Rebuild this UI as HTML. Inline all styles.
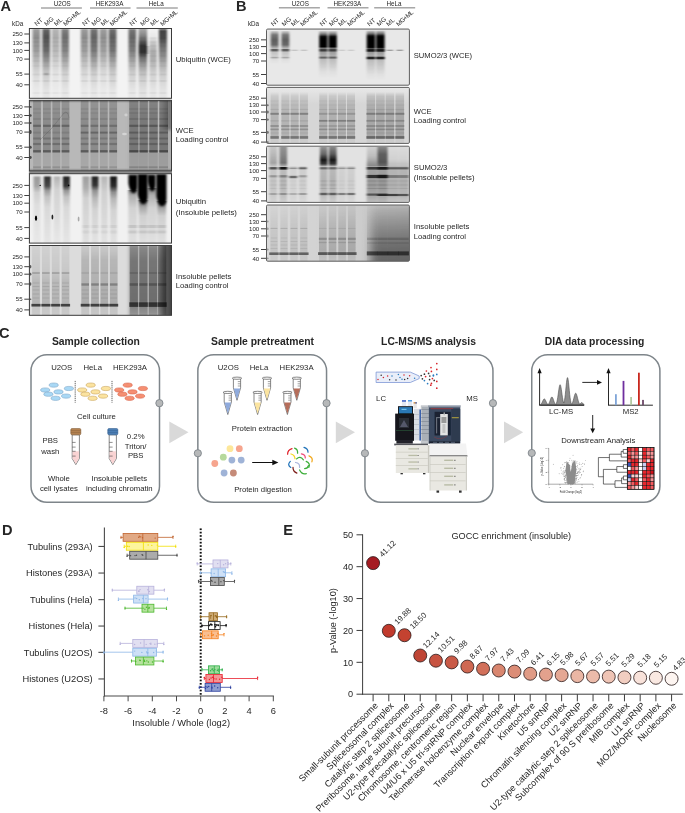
<!DOCTYPE html>
<html><head><meta charset="utf-8"><title>Figure</title>
<style>html,body{margin:0;padding:0;background:#fff;overflow:hidden}svg{display:block}text{font-family:"Liberation Sans",sans-serif;fill:#262626}</style></head>
<body>
<svg width="685" height="813" viewBox="0 0 685 813">
<defs>
<filter id="bl" x="-20%" y="-20%" width="140%" height="140%"><feGaussianBlur stdDeviation="1.1 0.7"/></filter>
<filter id="blS" x="-20%" y="-20%" width="140%" height="140%"><feGaussianBlur stdDeviation="0.7 0.6"/></filter>
<filter id="bl2" x="-20%" y="-20%" width="140%" height="140%"><feGaussianBlur stdDeviation="1.6 1.4"/></filter>
<filter id="bl5" x="-30%" y="-30%" width="160%" height="160%"><feGaussianBlur stdDeviation="4 3"/></filter>
<filter id="bl3" x="-50%" y="-50%" width="200%" height="200%"><feGaussianBlur stdDeviation="0.6"/></filter>
<filter id="bl4" x="-30%" y="-20%" width="160%" height="140%"><feGaussianBlur stdDeviation="0.8 1.0"/></filter>
<clipPath id="c1"><rect x="29.4" y="28.5" width="142.1" height="69.8" rx="0"/></clipPath>
<linearGradient id="lg2" gradientUnits="userSpaceOnUse" x1="0" y1="28.5" x2="0" y2="98.3"><stop offset="0" stop-color="#000" stop-opacity="0.22"/><stop offset="0.03" stop-color="#000" stop-opacity="0.37"/><stop offset="0.11" stop-color="#000" stop-opacity="0.42"/><stop offset="0.31" stop-color="#000" stop-opacity="0.36"/><stop offset="0.42" stop-color="#000" stop-opacity="0.27"/><stop offset="0.54" stop-color="#000" stop-opacity="0.18"/><stop offset="0.65" stop-color="#000" stop-opacity="0.11"/><stop offset="0.77" stop-color="#000" stop-opacity="0.07"/><stop offset="0.88" stop-color="#000" stop-opacity="0.04"/><stop offset="1" stop-color="#000" stop-opacity="0.03"/></linearGradient>
<linearGradient id="lg3" gradientUnits="userSpaceOnUse" x1="0" y1="28.5" x2="0" y2="98.3"><stop offset="0" stop-color="#000" stop-opacity="0.34"/><stop offset="0.03" stop-color="#000" stop-opacity="0.6"/><stop offset="0.11" stop-color="#000" stop-opacity="0.67"/><stop offset="0.31" stop-color="#000" stop-opacity="0.57"/><stop offset="0.42" stop-color="#000" stop-opacity="0.44"/><stop offset="0.54" stop-color="#000" stop-opacity="0.29"/><stop offset="0.65" stop-color="#000" stop-opacity="0.17"/><stop offset="0.77" stop-color="#000" stop-opacity="0.11"/><stop offset="0.88" stop-color="#000" stop-opacity="0.07"/><stop offset="1" stop-color="#000" stop-opacity="0.05"/></linearGradient>
<linearGradient id="lg4" gradientUnits="userSpaceOnUse" x1="0" y1="28.5" x2="0" y2="98.3"><stop offset="0" stop-color="#000" stop-opacity="0.15"/><stop offset="0.03" stop-color="#000" stop-opacity="0.26"/><stop offset="0.11" stop-color="#000" stop-opacity="0.29"/><stop offset="0.31" stop-color="#000" stop-opacity="0.25"/><stop offset="0.42" stop-color="#000" stop-opacity="0.19"/><stop offset="0.54" stop-color="#000" stop-opacity="0.12"/><stop offset="0.65" stop-color="#000" stop-opacity="0.07"/><stop offset="0.77" stop-color="#000" stop-opacity="0.05"/><stop offset="0.88" stop-color="#000" stop-opacity="0.03"/><stop offset="1" stop-color="#000" stop-opacity="0.02"/></linearGradient>
<linearGradient id="lg5" gradientUnits="userSpaceOnUse" x1="0" y1="28.5" x2="0" y2="98.3"><stop offset="0" stop-color="#000" stop-opacity="0.28"/><stop offset="0.03" stop-color="#000" stop-opacity="0.49"/><stop offset="0.11" stop-color="#000" stop-opacity="0.55"/><stop offset="0.31" stop-color="#000" stop-opacity="0.47"/><stop offset="0.42" stop-color="#000" stop-opacity="0.36"/><stop offset="0.54" stop-color="#000" stop-opacity="0.24"/><stop offset="0.65" stop-color="#000" stop-opacity="0.14"/><stop offset="0.77" stop-color="#000" stop-opacity="0.1"/><stop offset="0.88" stop-color="#000" stop-opacity="0.06"/><stop offset="1" stop-color="#000" stop-opacity="0.04"/></linearGradient>
<linearGradient id="lg6" gradientUnits="userSpaceOnUse" x1="0" y1="28.5" x2="0" y2="98.3"><stop offset="0" stop-color="#000" stop-opacity="0.22"/><stop offset="0.03" stop-color="#000" stop-opacity="0.37"/><stop offset="0.11" stop-color="#000" stop-opacity="0.42"/><stop offset="0.31" stop-color="#000" stop-opacity="0.36"/><stop offset="0.42" stop-color="#000" stop-opacity="0.27"/><stop offset="0.54" stop-color="#000" stop-opacity="0.18"/><stop offset="0.65" stop-color="#000" stop-opacity="0.11"/><stop offset="0.77" stop-color="#000" stop-opacity="0.07"/><stop offset="0.88" stop-color="#000" stop-opacity="0.04"/><stop offset="1" stop-color="#000" stop-opacity="0.03"/></linearGradient>
<linearGradient id="lg7" gradientUnits="userSpaceOnUse" x1="0" y1="28.5" x2="0" y2="98.3"><stop offset="0" stop-color="#000" stop-opacity="0.31"/><stop offset="0.03" stop-color="#000" stop-opacity="0.53"/><stop offset="0.11" stop-color="#000" stop-opacity="0.59"/><stop offset="0.31" stop-color="#000" stop-opacity="0.51"/><stop offset="0.42" stop-color="#000" stop-opacity="0.39"/><stop offset="0.54" stop-color="#000" stop-opacity="0.26"/><stop offset="0.65" stop-color="#000" stop-opacity="0.15"/><stop offset="0.77" stop-color="#000" stop-opacity="0.1"/><stop offset="0.88" stop-color="#000" stop-opacity="0.06"/><stop offset="1" stop-color="#000" stop-opacity="0.04"/></linearGradient>
<linearGradient id="lg8" gradientUnits="userSpaceOnUse" x1="0" y1="28.5" x2="0" y2="98.3"><stop offset="0" stop-color="#000" stop-opacity="0.21"/><stop offset="0.03" stop-color="#000" stop-opacity="0.36"/><stop offset="0.11" stop-color="#000" stop-opacity="0.41"/><stop offset="0.31" stop-color="#000" stop-opacity="0.35"/><stop offset="0.42" stop-color="#000" stop-opacity="0.27"/><stop offset="0.54" stop-color="#000" stop-opacity="0.17"/><stop offset="0.65" stop-color="#000" stop-opacity="0.1"/><stop offset="0.77" stop-color="#000" stop-opacity="0.07"/><stop offset="0.88" stop-color="#000" stop-opacity="0.04"/><stop offset="1" stop-color="#000" stop-opacity="0.03"/></linearGradient>
<linearGradient id="lg9" gradientUnits="userSpaceOnUse" x1="0" y1="28.5" x2="0" y2="98.3"><stop offset="0" stop-color="#000" stop-opacity="0.32"/><stop offset="0.03" stop-color="#000" stop-opacity="0.55"/><stop offset="0.11" stop-color="#000" stop-opacity="0.61"/><stop offset="0.31" stop-color="#000" stop-opacity="0.53"/><stop offset="0.42" stop-color="#000" stop-opacity="0.4"/><stop offset="0.54" stop-color="#000" stop-opacity="0.26"/><stop offset="0.65" stop-color="#000" stop-opacity="0.16"/><stop offset="0.77" stop-color="#000" stop-opacity="0.11"/><stop offset="0.88" stop-color="#000" stop-opacity="0.06"/><stop offset="1" stop-color="#000" stop-opacity="0.04"/></linearGradient>
<linearGradient id="lg10" gradientUnits="userSpaceOnUse" x1="0" y1="28.5" x2="0" y2="98.3"><stop offset="0" stop-color="#000" stop-opacity="0.3"/><stop offset="0.03" stop-color="#000" stop-opacity="0.52"/><stop offset="0.11" stop-color="#000" stop-opacity="0.58"/><stop offset="0.31" stop-color="#000" stop-opacity="0.5"/><stop offset="0.42" stop-color="#000" stop-opacity="0.38"/><stop offset="0.54" stop-color="#000" stop-opacity="0.25"/><stop offset="0.65" stop-color="#000" stop-opacity="0.15"/><stop offset="0.77" stop-color="#000" stop-opacity="0.1"/><stop offset="0.88" stop-color="#000" stop-opacity="0.06"/><stop offset="1" stop-color="#000" stop-opacity="0.04"/></linearGradient>
<linearGradient id="lg11" gradientUnits="userSpaceOnUse" x1="0" y1="28.5" x2="0" y2="98.3"><stop offset="0" stop-color="#000" stop-opacity="0.3"/><stop offset="0.08" stop-color="#000" stop-opacity="0.42"/><stop offset="0.16" stop-color="#000" stop-opacity="0.58"/><stop offset="0.25" stop-color="#000" stop-opacity="0.8"/><stop offset="0.34" stop-color="#000" stop-opacity="0.8"/><stop offset="0.42" stop-color="#000" stop-opacity="0.55"/><stop offset="0.54" stop-color="#000" stop-opacity="0.34"/><stop offset="0.65" stop-color="#000" stop-opacity="0.2"/><stop offset="0.77" stop-color="#000" stop-opacity="0.13"/><stop offset="0.88" stop-color="#000" stop-opacity="0.08"/><stop offset="1" stop-color="#000" stop-opacity="0.06"/></linearGradient>
<linearGradient id="lg12" gradientUnits="userSpaceOnUse" x1="0" y1="28.5" x2="0" y2="98.3"><stop offset="0" stop-color="#000" stop-opacity="0"/><stop offset="0.11" stop-color="#000" stop-opacity="0.04"/><stop offset="0.22" stop-color="#000" stop-opacity="0.2"/><stop offset="0.34" stop-color="#000" stop-opacity="0.3"/><stop offset="0.45" stop-color="#000" stop-opacity="0.28"/><stop offset="0.54" stop-color="#000" stop-opacity="0.22"/><stop offset="0.65" stop-color="#000" stop-opacity="0.14"/><stop offset="0.77" stop-color="#000" stop-opacity="0.1"/><stop offset="0.88" stop-color="#000" stop-opacity="0.06"/><stop offset="1" stop-color="#000" stop-opacity="0.05"/></linearGradient>
<linearGradient id="lg13" gradientUnits="userSpaceOnUse" x1="0" y1="28.5" x2="0" y2="98.3"><stop offset="0" stop-color="#000" stop-opacity="0.4"/><stop offset="0.04" stop-color="#000" stop-opacity="0.72"/><stop offset="0.14" stop-color="#000" stop-opacity="0.7"/><stop offset="0.25" stop-color="#000" stop-opacity="0.55"/><stop offset="0.37" stop-color="#000" stop-opacity="0.45"/><stop offset="0.45" stop-color="#000" stop-opacity="0.36"/><stop offset="0.54" stop-color="#000" stop-opacity="0.26"/><stop offset="0.65" stop-color="#000" stop-opacity="0.16"/><stop offset="0.77" stop-color="#000" stop-opacity="0.11"/><stop offset="0.88" stop-color="#000" stop-opacity="0.07"/><stop offset="1" stop-color="#000" stop-opacity="0.05"/></linearGradient>
<linearGradient id="a2e" x1="0" y1="0" x2="1" y2="0"><stop offset="0" stop-color="#000" stop-opacity="0"/><stop offset="1" stop-color="#000" stop-opacity="0.4"/></linearGradient>
<clipPath id="c14"><rect x="29.4" y="100.3" width="142.1" height="70.5" rx="0"/></clipPath>
<linearGradient id="lg15" gradientUnits="userSpaceOnUse" x1="0" y1="100" x2="0" y2="170.8"><stop offset="0" stop-color="#000" stop-opacity="0.19"/><stop offset="0.25" stop-color="#000" stop-opacity="0.24"/><stop offset="0.73" stop-color="#000" stop-opacity="0.25"/><stop offset="0.75" stop-color="#000" stop-opacity="0.1"/><stop offset="1" stop-color="#000" stop-opacity="0.08"/></linearGradient>
<linearGradient id="lg16" gradientUnits="userSpaceOnUse" x1="0" y1="100" x2="0" y2="170.8"><stop offset="0" stop-color="#000" stop-opacity="0.19"/><stop offset="0.25" stop-color="#000" stop-opacity="0.24"/><stop offset="0.73" stop-color="#000" stop-opacity="0.25"/><stop offset="0.75" stop-color="#000" stop-opacity="0.1"/><stop offset="1" stop-color="#000" stop-opacity="0.08"/></linearGradient>
<linearGradient id="lg17" gradientUnits="userSpaceOnUse" x1="0" y1="100" x2="0" y2="170.8"><stop offset="0" stop-color="#000" stop-opacity="0.19"/><stop offset="0.25" stop-color="#000" stop-opacity="0.24"/><stop offset="0.73" stop-color="#000" stop-opacity="0.25"/><stop offset="0.75" stop-color="#000" stop-opacity="0.1"/><stop offset="1" stop-color="#000" stop-opacity="0.08"/></linearGradient>
<linearGradient id="lg18" gradientUnits="userSpaceOnUse" x1="0" y1="100" x2="0" y2="170.8"><stop offset="0" stop-color="#000" stop-opacity="0.19"/><stop offset="0.25" stop-color="#000" stop-opacity="0.24"/><stop offset="0.73" stop-color="#000" stop-opacity="0.25"/><stop offset="0.75" stop-color="#000" stop-opacity="0.1"/><stop offset="1" stop-color="#000" stop-opacity="0.08"/></linearGradient>
<linearGradient id="lg19" gradientUnits="userSpaceOnUse" x1="0" y1="100" x2="0" y2="170.8"><stop offset="0" stop-color="#000" stop-opacity="0.19"/><stop offset="0.25" stop-color="#000" stop-opacity="0.24"/><stop offset="0.73" stop-color="#000" stop-opacity="0.25"/><stop offset="0.75" stop-color="#000" stop-opacity="0.1"/><stop offset="1" stop-color="#000" stop-opacity="0.08"/></linearGradient>
<linearGradient id="lg20" gradientUnits="userSpaceOnUse" x1="0" y1="100" x2="0" y2="170.8"><stop offset="0" stop-color="#000" stop-opacity="0.19"/><stop offset="0.25" stop-color="#000" stop-opacity="0.24"/><stop offset="0.73" stop-color="#000" stop-opacity="0.25"/><stop offset="0.75" stop-color="#000" stop-opacity="0.1"/><stop offset="1" stop-color="#000" stop-opacity="0.08"/></linearGradient>
<linearGradient id="lg21" gradientUnits="userSpaceOnUse" x1="0" y1="100" x2="0" y2="170.8"><stop offset="0" stop-color="#000" stop-opacity="0.19"/><stop offset="0.25" stop-color="#000" stop-opacity="0.24"/><stop offset="0.73" stop-color="#000" stop-opacity="0.25"/><stop offset="0.75" stop-color="#000" stop-opacity="0.1"/><stop offset="1" stop-color="#000" stop-opacity="0.08"/></linearGradient>
<linearGradient id="lg22" gradientUnits="userSpaceOnUse" x1="0" y1="100" x2="0" y2="170.8"><stop offset="0" stop-color="#000" stop-opacity="0.19"/><stop offset="0.25" stop-color="#000" stop-opacity="0.24"/><stop offset="0.73" stop-color="#000" stop-opacity="0.25"/><stop offset="0.75" stop-color="#000" stop-opacity="0.1"/><stop offset="1" stop-color="#000" stop-opacity="0.08"/></linearGradient>
<linearGradient id="lg23" gradientUnits="userSpaceOnUse" x1="0" y1="100" x2="0" y2="170.8"><stop offset="0" stop-color="#000" stop-opacity="0.24"/><stop offset="0.25" stop-color="#000" stop-opacity="0.3"/><stop offset="0.73" stop-color="#000" stop-opacity="0.32"/><stop offset="0.75" stop-color="#000" stop-opacity="0.1"/><stop offset="1" stop-color="#000" stop-opacity="0.08"/></linearGradient>
<linearGradient id="lg24" gradientUnits="userSpaceOnUse" x1="0" y1="100" x2="0" y2="170.8"><stop offset="0" stop-color="#000" stop-opacity="0.24"/><stop offset="0.25" stop-color="#000" stop-opacity="0.3"/><stop offset="0.73" stop-color="#000" stop-opacity="0.32"/><stop offset="0.75" stop-color="#000" stop-opacity="0.1"/><stop offset="1" stop-color="#000" stop-opacity="0.08"/></linearGradient>
<linearGradient id="lg25" gradientUnits="userSpaceOnUse" x1="0" y1="100" x2="0" y2="170.8"><stop offset="0" stop-color="#000" stop-opacity="0.24"/><stop offset="0.25" stop-color="#000" stop-opacity="0.3"/><stop offset="0.73" stop-color="#000" stop-opacity="0.32"/><stop offset="0.75" stop-color="#000" stop-opacity="0.1"/><stop offset="1" stop-color="#000" stop-opacity="0.08"/></linearGradient>
<linearGradient id="lg26" gradientUnits="userSpaceOnUse" x1="0" y1="100" x2="0" y2="170.8"><stop offset="0" stop-color="#000" stop-opacity="0.24"/><stop offset="0.25" stop-color="#000" stop-opacity="0.3"/><stop offset="0.73" stop-color="#000" stop-opacity="0.32"/><stop offset="0.75" stop-color="#000" stop-opacity="0.1"/><stop offset="1" stop-color="#000" stop-opacity="0.08"/></linearGradient>
<clipPath id="c27"><rect x="29.4" y="173.7" width="142.1" height="69.4" rx="0"/></clipPath>
<linearGradient id="lg28" gradientUnits="userSpaceOnUse" x1="0" y1="175" x2="0" y2="243.3"><stop offset="0" stop-color="#000" stop-opacity="0"/><stop offset="0.04" stop-color="#000" stop-opacity="0.36"/><stop offset="0.16" stop-color="#000" stop-opacity="0.32"/><stop offset="0.26" stop-color="#000" stop-opacity="0.14"/><stop offset="0.44" stop-color="#000" stop-opacity="0.08"/><stop offset="1" stop-color="#000" stop-opacity="0.04"/></linearGradient>
<linearGradient id="lg29" gradientUnits="userSpaceOnUse" x1="0" y1="175" x2="0" y2="243.3"><stop offset="0" stop-color="#000" stop-opacity="0"/><stop offset="0.04" stop-color="#000" stop-opacity="0.8"/><stop offset="0.16" stop-color="#000" stop-opacity="0.7"/><stop offset="0.23" stop-color="#000" stop-opacity="0.36"/><stop offset="0.32" stop-color="#000" stop-opacity="0.2"/><stop offset="0.48" stop-color="#000" stop-opacity="0.1"/><stop offset="1" stop-color="#000" stop-opacity="0.05"/></linearGradient>
<linearGradient id="lg30" gradientUnits="userSpaceOnUse" x1="0" y1="175" x2="0" y2="243.3"><stop offset="0" stop-color="#000" stop-opacity="0"/><stop offset="0.04" stop-color="#000" stop-opacity="0.25"/><stop offset="0.22" stop-color="#000" stop-opacity="0.13"/><stop offset="1" stop-color="#000" stop-opacity="0.04"/></linearGradient>
<linearGradient id="lg31" gradientUnits="userSpaceOnUse" x1="0" y1="175" x2="0" y2="243.3"><stop offset="0" stop-color="#000" stop-opacity="0"/><stop offset="0.04" stop-color="#000" stop-opacity="0.85"/><stop offset="0.16" stop-color="#000" stop-opacity="0.78"/><stop offset="0.23" stop-color="#000" stop-opacity="0.38"/><stop offset="0.32" stop-color="#000" stop-opacity="0.2"/><stop offset="0.48" stop-color="#000" stop-opacity="0.1"/><stop offset="1" stop-color="#000" stop-opacity="0.05"/></linearGradient>
<linearGradient id="lg32" gradientUnits="userSpaceOnUse" x1="0" y1="175" x2="0" y2="243.3"><stop offset="0" stop-color="#000" stop-opacity="0"/><stop offset="0.04" stop-color="#000" stop-opacity="0.34"/><stop offset="0.19" stop-color="#000" stop-opacity="0.28"/><stop offset="0.34" stop-color="#000" stop-opacity="0.14"/><stop offset="1" stop-color="#000" stop-opacity="0.07"/></linearGradient>
<linearGradient id="lg33" gradientUnits="userSpaceOnUse" x1="0" y1="175" x2="0" y2="243.3"><stop offset="0" stop-color="#000" stop-opacity="0"/><stop offset="0.04" stop-color="#000" stop-opacity="0.85"/><stop offset="0.15" stop-color="#000" stop-opacity="0.78"/><stop offset="0.23" stop-color="#000" stop-opacity="0.4"/><stop offset="0.34" stop-color="#000" stop-opacity="0.24"/><stop offset="0.51" stop-color="#000" stop-opacity="0.13"/><stop offset="1" stop-color="#000" stop-opacity="0.06"/></linearGradient>
<linearGradient id="lg34" gradientUnits="userSpaceOnUse" x1="0" y1="175" x2="0" y2="243.3"><stop offset="0" stop-color="#000" stop-opacity="0"/><stop offset="0.04" stop-color="#000" stop-opacity="0.24"/><stop offset="0.25" stop-color="#000" stop-opacity="0.14"/><stop offset="1" stop-color="#000" stop-opacity="0.06"/></linearGradient>
<linearGradient id="lg35" gradientUnits="userSpaceOnUse" x1="0" y1="175" x2="0" y2="243.3"><stop offset="0" stop-color="#000" stop-opacity="0"/><stop offset="0.04" stop-color="#000" stop-opacity="0.9"/><stop offset="0.16" stop-color="#000" stop-opacity="0.82"/><stop offset="0.25" stop-color="#000" stop-opacity="0.42"/><stop offset="0.35" stop-color="#000" stop-opacity="0.24"/><stop offset="0.51" stop-color="#000" stop-opacity="0.13"/><stop offset="1" stop-color="#000" stop-opacity="0.06"/></linearGradient>
<linearGradient id="lg36" gradientUnits="userSpaceOnUse" x1="0" y1="190" x2="0" y2="243.3"><stop offset="0" stop-color="#000" stop-opacity="0.5"/><stop offset="0.11" stop-color="#000" stop-opacity="0.28"/><stop offset="0.34" stop-color="#000" stop-opacity="0.13"/><stop offset="1" stop-color="#000" stop-opacity="0.07"/></linearGradient>
<linearGradient id="lg37" gradientUnits="userSpaceOnUse" x1="0" y1="200" x2="0" y2="243.3"><stop offset="0" stop-color="#000" stop-opacity="0.6"/><stop offset="0.18" stop-color="#000" stop-opacity="0.3"/><stop offset="0.37" stop-color="#000" stop-opacity="0.14"/><stop offset="1" stop-color="#000" stop-opacity="0.07"/></linearGradient>
<linearGradient id="lg38" gradientUnits="userSpaceOnUse" x1="0" y1="188" x2="0" y2="243.3"><stop offset="0" stop-color="#000" stop-opacity="0.5"/><stop offset="0.13" stop-color="#000" stop-opacity="0.28"/><stop offset="0.36" stop-color="#000" stop-opacity="0.13"/><stop offset="1" stop-color="#000" stop-opacity="0.07"/></linearGradient>
<linearGradient id="lg39" gradientUnits="userSpaceOnUse" x1="0" y1="201" x2="0" y2="243.3"><stop offset="0" stop-color="#000" stop-opacity="0.6"/><stop offset="0.19" stop-color="#000" stop-opacity="0.3"/><stop offset="0.35" stop-color="#000" stop-opacity="0.14"/><stop offset="1" stop-color="#000" stop-opacity="0.07"/></linearGradient>
<linearGradient id="a4e" x1="0" y1="0" x2="1" y2="0"><stop offset="0" stop-color="#000" stop-opacity="0"/><stop offset="0.45" stop-color="#000" stop-opacity="0.4"/><stop offset="1" stop-color="#000" stop-opacity="0.72"/></linearGradient>
<clipPath id="c40"><rect x="29.4" y="245.5" width="142.1" height="69.8" rx="0"/></clipPath>
<linearGradient id="lg41" gradientUnits="userSpaceOnUse" x1="0" y1="246" x2="0" y2="315.4"><stop offset="0" stop-color="#000" stop-opacity="0.05"/><stop offset="0.35" stop-color="#000" stop-opacity="0.09"/><stop offset="0.52" stop-color="#000" stop-opacity="0.16"/><stop offset="0.82" stop-color="#000" stop-opacity="0.18"/><stop offset="0.88" stop-color="#000" stop-opacity="0.1"/><stop offset="1" stop-color="#000" stop-opacity="0.08"/></linearGradient>
<linearGradient id="lg42" gradientUnits="userSpaceOnUse" x1="0" y1="246" x2="0" y2="315.4"><stop offset="0" stop-color="#000" stop-opacity="0.05"/><stop offset="0.35" stop-color="#000" stop-opacity="0.09"/><stop offset="0.52" stop-color="#000" stop-opacity="0.16"/><stop offset="0.82" stop-color="#000" stop-opacity="0.18"/><stop offset="0.88" stop-color="#000" stop-opacity="0.1"/><stop offset="1" stop-color="#000" stop-opacity="0.08"/></linearGradient>
<linearGradient id="lg43" gradientUnits="userSpaceOnUse" x1="0" y1="246" x2="0" y2="315.4"><stop offset="0" stop-color="#000" stop-opacity="0.05"/><stop offset="0.35" stop-color="#000" stop-opacity="0.09"/><stop offset="0.52" stop-color="#000" stop-opacity="0.16"/><stop offset="0.82" stop-color="#000" stop-opacity="0.18"/><stop offset="0.88" stop-color="#000" stop-opacity="0.1"/><stop offset="1" stop-color="#000" stop-opacity="0.08"/></linearGradient>
<linearGradient id="lg44" gradientUnits="userSpaceOnUse" x1="0" y1="246" x2="0" y2="315.4"><stop offset="0" stop-color="#000" stop-opacity="0.05"/><stop offset="0.35" stop-color="#000" stop-opacity="0.09"/><stop offset="0.52" stop-color="#000" stop-opacity="0.16"/><stop offset="0.82" stop-color="#000" stop-opacity="0.18"/><stop offset="0.88" stop-color="#000" stop-opacity="0.1"/><stop offset="1" stop-color="#000" stop-opacity="0.08"/></linearGradient>
<linearGradient id="lg45" gradientUnits="userSpaceOnUse" x1="0" y1="246" x2="0" y2="315.4"><stop offset="0" stop-color="#000" stop-opacity="0.08"/><stop offset="0.2" stop-color="#000" stop-opacity="0.17"/><stop offset="0.82" stop-color="#000" stop-opacity="0.22"/><stop offset="0.88" stop-color="#000" stop-opacity="0.12"/><stop offset="1" stop-color="#000" stop-opacity="0.09"/></linearGradient>
<linearGradient id="lg46" gradientUnits="userSpaceOnUse" x1="0" y1="246" x2="0" y2="315.4"><stop offset="0" stop-color="#000" stop-opacity="0.08"/><stop offset="0.2" stop-color="#000" stop-opacity="0.17"/><stop offset="0.82" stop-color="#000" stop-opacity="0.22"/><stop offset="0.88" stop-color="#000" stop-opacity="0.12"/><stop offset="1" stop-color="#000" stop-opacity="0.09"/></linearGradient>
<linearGradient id="lg47" gradientUnits="userSpaceOnUse" x1="0" y1="246" x2="0" y2="315.4"><stop offset="0" stop-color="#000" stop-opacity="0.08"/><stop offset="0.2" stop-color="#000" stop-opacity="0.17"/><stop offset="0.82" stop-color="#000" stop-opacity="0.22"/><stop offset="0.88" stop-color="#000" stop-opacity="0.12"/><stop offset="1" stop-color="#000" stop-opacity="0.09"/></linearGradient>
<linearGradient id="lg48" gradientUnits="userSpaceOnUse" x1="0" y1="246" x2="0" y2="315.4"><stop offset="0" stop-color="#000" stop-opacity="0.08"/><stop offset="0.2" stop-color="#000" stop-opacity="0.17"/><stop offset="0.82" stop-color="#000" stop-opacity="0.22"/><stop offset="0.88" stop-color="#000" stop-opacity="0.12"/><stop offset="1" stop-color="#000" stop-opacity="0.09"/></linearGradient>
<linearGradient id="lg49" gradientUnits="userSpaceOnUse" x1="0" y1="246" x2="0" y2="315.4"><stop offset="0" stop-color="#000" stop-opacity="0.22"/><stop offset="0.2" stop-color="#000" stop-opacity="0.33"/><stop offset="0.78" stop-color="#000" stop-opacity="0.38"/><stop offset="0.91" stop-color="#000" stop-opacity="0.22"/><stop offset="1" stop-color="#000" stop-opacity="0.16"/></linearGradient>
<linearGradient id="lg50" gradientUnits="userSpaceOnUse" x1="0" y1="246" x2="0" y2="315.4"><stop offset="0" stop-color="#000" stop-opacity="0.22"/><stop offset="0.2" stop-color="#000" stop-opacity="0.33"/><stop offset="0.78" stop-color="#000" stop-opacity="0.38"/><stop offset="0.91" stop-color="#000" stop-opacity="0.22"/><stop offset="1" stop-color="#000" stop-opacity="0.16"/></linearGradient>
<linearGradient id="lg51" gradientUnits="userSpaceOnUse" x1="0" y1="246" x2="0" y2="315.4"><stop offset="0" stop-color="#000" stop-opacity="0.22"/><stop offset="0.2" stop-color="#000" stop-opacity="0.33"/><stop offset="0.78" stop-color="#000" stop-opacity="0.38"/><stop offset="0.91" stop-color="#000" stop-opacity="0.22"/><stop offset="1" stop-color="#000" stop-opacity="0.16"/></linearGradient>
<linearGradient id="lg52" gradientUnits="userSpaceOnUse" x1="0" y1="246" x2="0" y2="315.4"><stop offset="0" stop-color="#000" stop-opacity="0.22"/><stop offset="0.2" stop-color="#000" stop-opacity="0.33"/><stop offset="0.78" stop-color="#000" stop-opacity="0.38"/><stop offset="0.91" stop-color="#000" stop-opacity="0.22"/><stop offset="1" stop-color="#000" stop-opacity="0.16"/></linearGradient>
<clipPath id="c53"><rect x="266.5" y="29.05" width="142.9" height="56.15" rx="1.2"/></clipPath>
<linearGradient id="lg54" gradientUnits="userSpaceOnUse" x1="0" y1="31" x2="0" y2="64"><stop offset="0" stop-color="#000" stop-opacity="0.1"/><stop offset="0.12" stop-color="#000" stop-opacity="0.5"/><stop offset="0.27" stop-color="#000" stop-opacity="0.6"/><stop offset="0.42" stop-color="#000" stop-opacity="0.55"/><stop offset="0.52" stop-color="#000" stop-opacity="0.22"/><stop offset="0.67" stop-color="#000" stop-opacity="0.15"/><stop offset="0.88" stop-color="#000" stop-opacity="0.04"/><stop offset="1" stop-color="#000" stop-opacity="0"/></linearGradient>
<linearGradient id="lg55" gradientUnits="userSpaceOnUse" x1="0" y1="31" x2="0" y2="64"><stop offset="0" stop-color="#000" stop-opacity="0.1"/><stop offset="0.12" stop-color="#000" stop-opacity="0.5"/><stop offset="0.27" stop-color="#000" stop-opacity="0.6"/><stop offset="0.42" stop-color="#000" stop-opacity="0.55"/><stop offset="0.52" stop-color="#000" stop-opacity="0.22"/><stop offset="0.67" stop-color="#000" stop-opacity="0.15"/><stop offset="0.88" stop-color="#000" stop-opacity="0.04"/><stop offset="1" stop-color="#000" stop-opacity="0"/></linearGradient>
<linearGradient id="lg56" gradientUnits="userSpaceOnUse" x1="0" y1="31" x2="0" y2="78"><stop offset="0" stop-color="#000" stop-opacity="0.1"/><stop offset="0.06" stop-color="#000" stop-opacity="0.45"/><stop offset="0.12" stop-color="#000" stop-opacity="0.95"/><stop offset="0.15" stop-color="#000" stop-opacity="1"/><stop offset="0.33" stop-color="#000" stop-opacity="1"/><stop offset="0.38" stop-color="#000" stop-opacity="0.4"/><stop offset="0.49" stop-color="#000" stop-opacity="0.28"/><stop offset="0.62" stop-color="#000" stop-opacity="0.18"/><stop offset="0.87" stop-color="#000" stop-opacity="0.04"/><stop offset="1" stop-color="#000" stop-opacity="0"/></linearGradient>
<linearGradient id="lg57" gradientUnits="userSpaceOnUse" x1="0" y1="31" x2="0" y2="78"><stop offset="0" stop-color="#000" stop-opacity="0.1"/><stop offset="0.06" stop-color="#000" stop-opacity="0.45"/><stop offset="0.12" stop-color="#000" stop-opacity="0.95"/><stop offset="0.15" stop-color="#000" stop-opacity="1"/><stop offset="0.33" stop-color="#000" stop-opacity="1"/><stop offset="0.38" stop-color="#000" stop-opacity="0.4"/><stop offset="0.49" stop-color="#000" stop-opacity="0.28"/><stop offset="0.62" stop-color="#000" stop-opacity="0.18"/><stop offset="0.87" stop-color="#000" stop-opacity="0.04"/><stop offset="1" stop-color="#000" stop-opacity="0"/></linearGradient>
<linearGradient id="lg58" gradientUnits="userSpaceOnUse" x1="0" y1="30.5" x2="0" y2="80"><stop offset="0" stop-color="#000" stop-opacity="0.1"/><stop offset="0.06" stop-color="#000" stop-opacity="0.5"/><stop offset="0.11" stop-color="#000" stop-opacity="0.95"/><stop offset="0.14" stop-color="#000" stop-opacity="1"/><stop offset="0.34" stop-color="#000" stop-opacity="1"/><stop offset="0.38" stop-color="#000" stop-opacity="0.45"/><stop offset="0.47" stop-color="#000" stop-opacity="0.3"/><stop offset="0.62" stop-color="#000" stop-opacity="0.18"/><stop offset="0.88" stop-color="#000" stop-opacity="0.04"/><stop offset="1" stop-color="#000" stop-opacity="0"/></linearGradient>
<linearGradient id="lg59" gradientUnits="userSpaceOnUse" x1="0" y1="30.5" x2="0" y2="80"><stop offset="0" stop-color="#000" stop-opacity="0.1"/><stop offset="0.06" stop-color="#000" stop-opacity="0.5"/><stop offset="0.11" stop-color="#000" stop-opacity="0.95"/><stop offset="0.14" stop-color="#000" stop-opacity="1"/><stop offset="0.34" stop-color="#000" stop-opacity="1"/><stop offset="0.38" stop-color="#000" stop-opacity="0.45"/><stop offset="0.47" stop-color="#000" stop-opacity="0.3"/><stop offset="0.62" stop-color="#000" stop-opacity="0.18"/><stop offset="0.88" stop-color="#000" stop-opacity="0.04"/><stop offset="1" stop-color="#000" stop-opacity="0"/></linearGradient>
<linearGradient id="b2g" x1="0" y1="0" x2="0" y2="1"><stop offset="0" stop-color="#fff" stop-opacity="0.45"/><stop offset="0.3" stop-color="#fff" stop-opacity="0"/></linearGradient>
<clipPath id="c60"><rect x="266.5" y="87.4" width="142.9" height="56" rx="1.2"/></clipPath>
<linearGradient id="lg61" gradientUnits="userSpaceOnUse" x1="0" y1="92" x2="0" y2="143.6"><stop offset="0" stop-color="#000" stop-opacity="0"/><stop offset="0.08" stop-color="#000" stop-opacity="0.09"/><stop offset="0.35" stop-color="#000" stop-opacity="0.15"/><stop offset="0.9" stop-color="#000" stop-opacity="0.17"/><stop offset="0.92" stop-color="#000" stop-opacity="0.05"/><stop offset="1" stop-color="#000" stop-opacity="0.04"/></linearGradient>
<linearGradient id="lg62" gradientUnits="userSpaceOnUse" x1="0" y1="92" x2="0" y2="143.6"><stop offset="0" stop-color="#000" stop-opacity="0"/><stop offset="0.08" stop-color="#000" stop-opacity="0.09"/><stop offset="0.35" stop-color="#000" stop-opacity="0.15"/><stop offset="0.9" stop-color="#000" stop-opacity="0.17"/><stop offset="0.92" stop-color="#000" stop-opacity="0.05"/><stop offset="1" stop-color="#000" stop-opacity="0.04"/></linearGradient>
<linearGradient id="lg63" gradientUnits="userSpaceOnUse" x1="0" y1="92" x2="0" y2="143.6"><stop offset="0" stop-color="#000" stop-opacity="0"/><stop offset="0.08" stop-color="#000" stop-opacity="0.09"/><stop offset="0.35" stop-color="#000" stop-opacity="0.15"/><stop offset="0.9" stop-color="#000" stop-opacity="0.17"/><stop offset="0.92" stop-color="#000" stop-opacity="0.05"/><stop offset="1" stop-color="#000" stop-opacity="0.04"/></linearGradient>
<linearGradient id="lg64" gradientUnits="userSpaceOnUse" x1="0" y1="92" x2="0" y2="143.6"><stop offset="0" stop-color="#000" stop-opacity="0"/><stop offset="0.08" stop-color="#000" stop-opacity="0.09"/><stop offset="0.35" stop-color="#000" stop-opacity="0.15"/><stop offset="0.9" stop-color="#000" stop-opacity="0.17"/><stop offset="0.92" stop-color="#000" stop-opacity="0.05"/><stop offset="1" stop-color="#000" stop-opacity="0.04"/></linearGradient>
<linearGradient id="lg65" gradientUnits="userSpaceOnUse" x1="0" y1="92" x2="0" y2="143.6"><stop offset="0" stop-color="#000" stop-opacity="0"/><stop offset="0.08" stop-color="#000" stop-opacity="0.1"/><stop offset="0.35" stop-color="#000" stop-opacity="0.17"/><stop offset="0.9" stop-color="#000" stop-opacity="0.19"/><stop offset="0.92" stop-color="#000" stop-opacity="0.05"/><stop offset="1" stop-color="#000" stop-opacity="0.04"/></linearGradient>
<linearGradient id="lg66" gradientUnits="userSpaceOnUse" x1="0" y1="92" x2="0" y2="143.6"><stop offset="0" stop-color="#000" stop-opacity="0"/><stop offset="0.08" stop-color="#000" stop-opacity="0.1"/><stop offset="0.35" stop-color="#000" stop-opacity="0.17"/><stop offset="0.9" stop-color="#000" stop-opacity="0.19"/><stop offset="0.92" stop-color="#000" stop-opacity="0.05"/><stop offset="1" stop-color="#000" stop-opacity="0.04"/></linearGradient>
<linearGradient id="lg67" gradientUnits="userSpaceOnUse" x1="0" y1="92" x2="0" y2="143.6"><stop offset="0" stop-color="#000" stop-opacity="0"/><stop offset="0.08" stop-color="#000" stop-opacity="0.1"/><stop offset="0.35" stop-color="#000" stop-opacity="0.17"/><stop offset="0.9" stop-color="#000" stop-opacity="0.19"/><stop offset="0.92" stop-color="#000" stop-opacity="0.05"/><stop offset="1" stop-color="#000" stop-opacity="0.04"/></linearGradient>
<linearGradient id="lg68" gradientUnits="userSpaceOnUse" x1="0" y1="92" x2="0" y2="143.6"><stop offset="0" stop-color="#000" stop-opacity="0"/><stop offset="0.08" stop-color="#000" stop-opacity="0.1"/><stop offset="0.35" stop-color="#000" stop-opacity="0.17"/><stop offset="0.9" stop-color="#000" stop-opacity="0.19"/><stop offset="0.92" stop-color="#000" stop-opacity="0.05"/><stop offset="1" stop-color="#000" stop-opacity="0.04"/></linearGradient>
<linearGradient id="lg69" gradientUnits="userSpaceOnUse" x1="0" y1="92" x2="0" y2="143.6"><stop offset="0" stop-color="#000" stop-opacity="0"/><stop offset="0.08" stop-color="#000" stop-opacity="0.13"/><stop offset="0.35" stop-color="#000" stop-opacity="0.21"/><stop offset="0.9" stop-color="#000" stop-opacity="0.23"/><stop offset="0.92" stop-color="#000" stop-opacity="0.05"/><stop offset="1" stop-color="#000" stop-opacity="0.04"/></linearGradient>
<linearGradient id="lg70" gradientUnits="userSpaceOnUse" x1="0" y1="92" x2="0" y2="143.6"><stop offset="0" stop-color="#000" stop-opacity="0"/><stop offset="0.08" stop-color="#000" stop-opacity="0.13"/><stop offset="0.35" stop-color="#000" stop-opacity="0.21"/><stop offset="0.9" stop-color="#000" stop-opacity="0.23"/><stop offset="0.92" stop-color="#000" stop-opacity="0.05"/><stop offset="1" stop-color="#000" stop-opacity="0.04"/></linearGradient>
<linearGradient id="lg71" gradientUnits="userSpaceOnUse" x1="0" y1="92" x2="0" y2="143.6"><stop offset="0" stop-color="#000" stop-opacity="0"/><stop offset="0.08" stop-color="#000" stop-opacity="0.13"/><stop offset="0.35" stop-color="#000" stop-opacity="0.21"/><stop offset="0.9" stop-color="#000" stop-opacity="0.23"/><stop offset="0.92" stop-color="#000" stop-opacity="0.05"/><stop offset="1" stop-color="#000" stop-opacity="0.04"/></linearGradient>
<linearGradient id="lg72" gradientUnits="userSpaceOnUse" x1="0" y1="92" x2="0" y2="143.6"><stop offset="0" stop-color="#000" stop-opacity="0"/><stop offset="0.08" stop-color="#000" stop-opacity="0.13"/><stop offset="0.35" stop-color="#000" stop-opacity="0.21"/><stop offset="0.9" stop-color="#000" stop-opacity="0.23"/><stop offset="0.92" stop-color="#000" stop-opacity="0.05"/><stop offset="1" stop-color="#000" stop-opacity="0.04"/></linearGradient>
<clipPath id="c73"><rect x="266.5" y="146.2" width="142.9" height="56.2" rx="1.2"/></clipPath>
<linearGradient id="lg74" gradientUnits="userSpaceOnUse" x1="0" y1="166" x2="0" y2="202.4"><stop offset="0" stop-color="#000" stop-opacity="0.11"/><stop offset="0.52" stop-color="#000" stop-opacity="0.14"/><stop offset="0.85" stop-color="#000" stop-opacity="0.1"/><stop offset="1" stop-color="#000" stop-opacity="0.06"/></linearGradient>
<linearGradient id="lg75" gradientUnits="userSpaceOnUse" x1="0" y1="147" x2="0" y2="166"><stop offset="0" stop-color="#000" stop-opacity="0.12"/><stop offset="0.47" stop-color="#000" stop-opacity="0.2"/><stop offset="0.84" stop-color="#000" stop-opacity="0.28"/><stop offset="1" stop-color="#000" stop-opacity="0.14"/></linearGradient>
<linearGradient id="lg76" gradientUnits="userSpaceOnUse" x1="0" y1="166" x2="0" y2="202.4"><stop offset="0" stop-color="#000" stop-opacity="0.16"/><stop offset="0.52" stop-color="#000" stop-opacity="0.2"/><stop offset="0.85" stop-color="#000" stop-opacity="0.14"/><stop offset="1" stop-color="#000" stop-opacity="0.08"/></linearGradient>
<linearGradient id="lg77" gradientUnits="userSpaceOnUse" x1="0" y1="147" x2="0" y2="166"><stop offset="0" stop-color="#000" stop-opacity="0.35"/><stop offset="0.47" stop-color="#000" stop-opacity="0.42"/><stop offset="0.84" stop-color="#000" stop-opacity="0.5"/><stop offset="1" stop-color="#000" stop-opacity="0.25"/></linearGradient>
<linearGradient id="lg78" gradientUnits="userSpaceOnUse" x1="0" y1="166" x2="0" y2="202.4"><stop offset="0" stop-color="#000" stop-opacity="0.06"/><stop offset="0.52" stop-color="#000" stop-opacity="0.08"/><stop offset="0.85" stop-color="#000" stop-opacity="0.06"/><stop offset="1" stop-color="#000" stop-opacity="0.03"/></linearGradient>
<linearGradient id="lg79" gradientUnits="userSpaceOnUse" x1="0" y1="166" x2="0" y2="202.4"><stop offset="0" stop-color="#000" stop-opacity="0.08"/><stop offset="0.52" stop-color="#000" stop-opacity="0.1"/><stop offset="0.85" stop-color="#000" stop-opacity="0.07"/><stop offset="1" stop-color="#000" stop-opacity="0.04"/></linearGradient>
<linearGradient id="lg80" gradientUnits="userSpaceOnUse" x1="0" y1="166" x2="0" y2="202.4"><stop offset="0" stop-color="#000" stop-opacity="0.18"/><stop offset="0.52" stop-color="#000" stop-opacity="0.22"/><stop offset="0.85" stop-color="#000" stop-opacity="0.15"/><stop offset="1" stop-color="#000" stop-opacity="0.09"/></linearGradient>
<linearGradient id="lg81" gradientUnits="userSpaceOnUse" x1="0" y1="147" x2="0" y2="166"><stop offset="0" stop-color="#000" stop-opacity="0.35"/><stop offset="0.37" stop-color="#000" stop-opacity="0.55"/><stop offset="0.68" stop-color="#000" stop-opacity="0.9"/><stop offset="0.89" stop-color="#000" stop-opacity="0.75"/><stop offset="1" stop-color="#000" stop-opacity="0.3"/></linearGradient>
<linearGradient id="lg82" gradientUnits="userSpaceOnUse" x1="0" y1="166" x2="0" y2="202.4"><stop offset="0" stop-color="#000" stop-opacity="0.18"/><stop offset="0.52" stop-color="#000" stop-opacity="0.22"/><stop offset="0.85" stop-color="#000" stop-opacity="0.15"/><stop offset="1" stop-color="#000" stop-opacity="0.09"/></linearGradient>
<linearGradient id="lg83" gradientUnits="userSpaceOnUse" x1="0" y1="147" x2="0" y2="166"><stop offset="0" stop-color="#000" stop-opacity="0.4"/><stop offset="0.37" stop-color="#000" stop-opacity="0.6"/><stop offset="0.68" stop-color="#000" stop-opacity="0.9"/><stop offset="0.89" stop-color="#000" stop-opacity="0.75"/><stop offset="1" stop-color="#000" stop-opacity="0.3"/></linearGradient>
<linearGradient id="lg84" gradientUnits="userSpaceOnUse" x1="0" y1="166" x2="0" y2="202.4"><stop offset="0" stop-color="#000" stop-opacity="0.07"/><stop offset="0.52" stop-color="#000" stop-opacity="0.09"/><stop offset="0.85" stop-color="#000" stop-opacity="0.06"/><stop offset="1" stop-color="#000" stop-opacity="0.04"/></linearGradient>
<linearGradient id="lg85" gradientUnits="userSpaceOnUse" x1="0" y1="166" x2="0" y2="202.4"><stop offset="0" stop-color="#000" stop-opacity="0.08"/><stop offset="0.52" stop-color="#000" stop-opacity="0.1"/><stop offset="0.85" stop-color="#000" stop-opacity="0.07"/><stop offset="1" stop-color="#000" stop-opacity="0.04"/></linearGradient>
<linearGradient id="lg86" gradientUnits="userSpaceOnUse" x1="0" y1="166" x2="0" y2="202.4"><stop offset="0" stop-color="#000" stop-opacity="0.22"/><stop offset="0.52" stop-color="#000" stop-opacity="0.28"/><stop offset="0.85" stop-color="#000" stop-opacity="0.2"/><stop offset="1" stop-color="#000" stop-opacity="0.11"/></linearGradient>
<linearGradient id="lg87" gradientUnits="userSpaceOnUse" x1="0" y1="147" x2="0" y2="166"><stop offset="0" stop-color="#000" stop-opacity="0.08"/><stop offset="0.47" stop-color="#000" stop-opacity="0.16"/><stop offset="0.79" stop-color="#000" stop-opacity="0.28"/><stop offset="1" stop-color="#000" stop-opacity="0.35"/></linearGradient>
<linearGradient id="lg88" gradientUnits="userSpaceOnUse" x1="0" y1="166" x2="0" y2="202.4"><stop offset="0" stop-color="#000" stop-opacity="0.24"/><stop offset="0.52" stop-color="#000" stop-opacity="0.3"/><stop offset="0.85" stop-color="#000" stop-opacity="0.21"/><stop offset="1" stop-color="#000" stop-opacity="0.12"/></linearGradient>
<linearGradient id="lg89" gradientUnits="userSpaceOnUse" x1="0" y1="147" x2="0" y2="166"><stop offset="0" stop-color="#000" stop-opacity="0.4"/><stop offset="0.37" stop-color="#000" stop-opacity="0.58"/><stop offset="0.79" stop-color="#000" stop-opacity="0.62"/><stop offset="1" stop-color="#000" stop-opacity="0.5"/></linearGradient>
<linearGradient id="lg90" gradientUnits="userSpaceOnUse" x1="0" y1="166" x2="0" y2="202.4"><stop offset="0" stop-color="#000" stop-opacity="0.14"/><stop offset="0.52" stop-color="#000" stop-opacity="0.18"/><stop offset="0.85" stop-color="#000" stop-opacity="0.13"/><stop offset="1" stop-color="#000" stop-opacity="0.07"/></linearGradient>
<linearGradient id="lg91" gradientUnits="userSpaceOnUse" x1="0" y1="147" x2="0" y2="166"><stop offset="0" stop-color="#000" stop-opacity="0.03"/><stop offset="1" stop-color="#000" stop-opacity="0.1"/></linearGradient>
<linearGradient id="lg92" gradientUnits="userSpaceOnUse" x1="0" y1="166" x2="0" y2="202.4"><stop offset="0" stop-color="#000" stop-opacity="0.14"/><stop offset="0.52" stop-color="#000" stop-opacity="0.18"/><stop offset="0.85" stop-color="#000" stop-opacity="0.13"/><stop offset="1" stop-color="#000" stop-opacity="0.07"/></linearGradient>
<linearGradient id="lg93" gradientUnits="userSpaceOnUse" x1="0" y1="147" x2="0" y2="166"><stop offset="0" stop-color="#000" stop-opacity="0.03"/><stop offset="1" stop-color="#000" stop-opacity="0.1"/></linearGradient>
<linearGradient id="b4g" x1="0" y1="0" x2="0" y2="1"><stop offset="0" stop-color="#000" stop-opacity="0.06"/><stop offset="0.3" stop-color="#000" stop-opacity="0.22"/><stop offset="0.6" stop-color="#000" stop-opacity="0.38"/><stop offset="1" stop-color="#000" stop-opacity="0.5"/></linearGradient>
<linearGradient id="b4h" x1="0" y1="0" x2="1" y2="0"><stop offset="0" stop-color="#000" stop-opacity="0"/><stop offset="1" stop-color="#000" stop-opacity="0.1"/></linearGradient>
<clipPath id="c94"><rect x="266.5" y="205" width="142.9" height="56.2" rx="1.2"/></clipPath>
<linearGradient id="lg95" gradientUnits="userSpaceOnUse" x1="0" y1="206" x2="0" y2="261.5"><stop offset="0" stop-color="#000" stop-opacity="0.02"/><stop offset="0.34" stop-color="#000" stop-opacity="0.07"/><stop offset="0.79" stop-color="#000" stop-opacity="0.1"/><stop offset="0.9" stop-color="#000" stop-opacity="0.07"/><stop offset="1" stop-color="#000" stop-opacity="0.05"/></linearGradient>
<linearGradient id="lg96" gradientUnits="userSpaceOnUse" x1="0" y1="206" x2="0" y2="261.5"><stop offset="0" stop-color="#000" stop-opacity="0.02"/><stop offset="0.34" stop-color="#000" stop-opacity="0.07"/><stop offset="0.79" stop-color="#000" stop-opacity="0.1"/><stop offset="0.9" stop-color="#000" stop-opacity="0.07"/><stop offset="1" stop-color="#000" stop-opacity="0.05"/></linearGradient>
<linearGradient id="lg97" gradientUnits="userSpaceOnUse" x1="0" y1="206" x2="0" y2="261.5"><stop offset="0" stop-color="#000" stop-opacity="0.02"/><stop offset="0.34" stop-color="#000" stop-opacity="0.07"/><stop offset="0.79" stop-color="#000" stop-opacity="0.1"/><stop offset="0.9" stop-color="#000" stop-opacity="0.07"/><stop offset="1" stop-color="#000" stop-opacity="0.05"/></linearGradient>
<linearGradient id="lg98" gradientUnits="userSpaceOnUse" x1="0" y1="206" x2="0" y2="261.5"><stop offset="0" stop-color="#000" stop-opacity="0.02"/><stop offset="0.34" stop-color="#000" stop-opacity="0.07"/><stop offset="0.79" stop-color="#000" stop-opacity="0.1"/><stop offset="0.9" stop-color="#000" stop-opacity="0.07"/><stop offset="1" stop-color="#000" stop-opacity="0.05"/></linearGradient>
<linearGradient id="lg99" gradientUnits="userSpaceOnUse" x1="0" y1="206" x2="0" y2="261.5"><stop offset="0" stop-color="#000" stop-opacity="0.04"/><stop offset="0.34" stop-color="#000" stop-opacity="0.12"/><stop offset="0.79" stop-color="#000" stop-opacity="0.18"/><stop offset="0.9" stop-color="#000" stop-opacity="0.1"/><stop offset="1" stop-color="#000" stop-opacity="0.06"/></linearGradient>
<linearGradient id="lg100" gradientUnits="userSpaceOnUse" x1="0" y1="206" x2="0" y2="261.5"><stop offset="0" stop-color="#000" stop-opacity="0.04"/><stop offset="0.34" stop-color="#000" stop-opacity="0.12"/><stop offset="0.79" stop-color="#000" stop-opacity="0.18"/><stop offset="0.9" stop-color="#000" stop-opacity="0.1"/><stop offset="1" stop-color="#000" stop-opacity="0.06"/></linearGradient>
<linearGradient id="lg101" gradientUnits="userSpaceOnUse" x1="0" y1="206" x2="0" y2="261.5"><stop offset="0" stop-color="#000" stop-opacity="0.04"/><stop offset="0.34" stop-color="#000" stop-opacity="0.12"/><stop offset="0.79" stop-color="#000" stop-opacity="0.18"/><stop offset="0.9" stop-color="#000" stop-opacity="0.1"/><stop offset="1" stop-color="#000" stop-opacity="0.06"/></linearGradient>
<linearGradient id="lg102" gradientUnits="userSpaceOnUse" x1="0" y1="206" x2="0" y2="261.5"><stop offset="0" stop-color="#000" stop-opacity="0.04"/><stop offset="0.34" stop-color="#000" stop-opacity="0.12"/><stop offset="0.79" stop-color="#000" stop-opacity="0.18"/><stop offset="0.9" stop-color="#000" stop-opacity="0.1"/><stop offset="1" stop-color="#000" stop-opacity="0.06"/></linearGradient>
<linearGradient id="lg103" gradientUnits="userSpaceOnUse" x1="0" y1="206" x2="0" y2="261.5"><stop offset="0" stop-color="#000" stop-opacity="0.02"/><stop offset="0.25" stop-color="#000" stop-opacity="0.06"/><stop offset="0.79" stop-color="#000" stop-opacity="0.1"/><stop offset="0.92" stop-color="#000" stop-opacity="0.08"/><stop offset="1" stop-color="#000" stop-opacity="0.06"/></linearGradient>
<linearGradient id="lg104" gradientUnits="userSpaceOnUse" x1="0" y1="206" x2="0" y2="261.5"><stop offset="0" stop-color="#000" stop-opacity="0.02"/><stop offset="0.25" stop-color="#000" stop-opacity="0.06"/><stop offset="0.79" stop-color="#000" stop-opacity="0.1"/><stop offset="0.92" stop-color="#000" stop-opacity="0.08"/><stop offset="1" stop-color="#000" stop-opacity="0.06"/></linearGradient>
<linearGradient id="lg105" gradientUnits="userSpaceOnUse" x1="0" y1="206" x2="0" y2="261.5"><stop offset="0" stop-color="#000" stop-opacity="0.02"/><stop offset="0.25" stop-color="#000" stop-opacity="0.06"/><stop offset="0.79" stop-color="#000" stop-opacity="0.1"/><stop offset="0.92" stop-color="#000" stop-opacity="0.08"/><stop offset="1" stop-color="#000" stop-opacity="0.06"/></linearGradient>
<linearGradient id="lg106" gradientUnits="userSpaceOnUse" x1="0" y1="206" x2="0" y2="261.5"><stop offset="0" stop-color="#000" stop-opacity="0.02"/><stop offset="0.25" stop-color="#000" stop-opacity="0.06"/><stop offset="0.79" stop-color="#000" stop-opacity="0.1"/><stop offset="0.92" stop-color="#000" stop-opacity="0.08"/><stop offset="1" stop-color="#000" stop-opacity="0.06"/></linearGradient>
<filter id="ib" x="-5%" y="-5%" width="110%" height="110%"><feGaussianBlur stdDeviation="0.3"/></filter>
</defs>
<text x="0.6" y="11" font-size="14.6" font-weight="bold" fill="#1a1a1a" >A</text>
<text x="62.25" y="6.4" font-size="6.3" text-anchor="middle" fill="#2a2a2a" >U2OS</text>
<line x1="41" y1="8" x2="81.9" y2="8" stroke="#7a7a7a" stroke-width="1.0" />
<text x="109.5" y="6.4" font-size="6.3" text-anchor="middle" fill="#2a2a2a" >HEK293A</text>
<line x1="90" y1="8" x2="130.6" y2="8" stroke="#7a7a7a" stroke-width="1.0" />
<text x="156.35" y="6.4" font-size="6.3" text-anchor="middle" fill="#2a2a2a" >HeLa</text>
<line x1="136.5" y1="8" x2="177.8" y2="8" stroke="#7a7a7a" stroke-width="1.0" />
<text x="36.8" y="26.2" font-size="6.3" fill="#2a2a2a" transform="rotate(-41 36.8 26.2)" >NT</text>
<text x="46.5" y="26.2" font-size="6.3" fill="#2a2a2a" transform="rotate(-41 46.5 26.2)" >MG</text>
<text x="56.2" y="26.2" font-size="6.3" fill="#2a2a2a" transform="rotate(-41 56.2 26.2)" >ML</text>
<text x="65.5" y="26.2" font-size="6.3" fill="#2a2a2a" transform="rotate(-41 65.5 26.2)" textLength="20.6" lengthAdjust="spacing">MG+ML</text>
<text x="84.5" y="26.2" font-size="6.3" fill="#2a2a2a" transform="rotate(-41 84.5 26.2)" >NT</text>
<text x="93.8" y="26.2" font-size="6.3" fill="#2a2a2a" transform="rotate(-41 93.8 26.2)" >MG</text>
<text x="102.9" y="26.2" font-size="6.3" fill="#2a2a2a" transform="rotate(-41 102.9 26.2)" >ML</text>
<text x="112" y="26.2" font-size="6.3" fill="#2a2a2a" transform="rotate(-41 112 26.2)" textLength="20.6" lengthAdjust="spacing">MG+ML</text>
<text x="131.8" y="26.2" font-size="6.3" fill="#2a2a2a" transform="rotate(-41 131.8 26.2)" >NT</text>
<text x="142.5" y="26.2" font-size="6.3" fill="#2a2a2a" transform="rotate(-41 142.5 26.2)" >MG</text>
<text x="152.5" y="26.2" font-size="6.3" fill="#2a2a2a" transform="rotate(-41 152.5 26.2)" >ML</text>
<text x="162.6" y="26.2" font-size="6.3" fill="#2a2a2a" transform="rotate(-41 162.6 26.2)" textLength="20.6" lengthAdjust="spacing">MG+ML</text>
<text x="12.1" y="25.8" font-size="6.3" fill="#2a2a2a" >kDa</text>
<text x="22.6" y="36.2" font-size="6.1" text-anchor="end" fill="#2a2a2a" >250</text>
<line x1="24.3" y1="34" x2="29.4" y2="34" stroke="#2a2a2a" stroke-width="0.9" />
<text x="22.6" y="45.1" font-size="6.1" text-anchor="end" fill="#2a2a2a" >130</text>
<line x1="24.3" y1="42.9" x2="29.4" y2="42.9" stroke="#2a2a2a" stroke-width="0.9" />
<text x="22.6" y="52.6" font-size="6.1" text-anchor="end" fill="#2a2a2a" >100</text>
<line x1="24.3" y1="50.4" x2="29.4" y2="50.4" stroke="#2a2a2a" stroke-width="0.9" />
<text x="22.6" y="61.3" font-size="6.1" text-anchor="end" fill="#2a2a2a" >70</text>
<line x1="24.3" y1="59.1" x2="29.4" y2="59.1" stroke="#2a2a2a" stroke-width="0.9" />
<text x="22.6" y="76.3" font-size="6.1" text-anchor="end" fill="#2a2a2a" >55</text>
<line x1="24.3" y1="74.1" x2="29.4" y2="74.1" stroke="#2a2a2a" stroke-width="0.9" />
<text x="22.6" y="87" font-size="6.1" text-anchor="end" fill="#2a2a2a" >40</text>
<line x1="24.3" y1="84.8" x2="29.4" y2="84.8" stroke="#2a2a2a" stroke-width="0.9" />
<text x="22.6" y="109.1" font-size="6.1" text-anchor="end" fill="#2a2a2a" >250</text>
<line x1="24.3" y1="106.9" x2="29.4" y2="106.9" stroke="#2a2a2a" stroke-width="0.9" />
<text x="22.6" y="117.7" font-size="6.1" text-anchor="end" fill="#2a2a2a" >130</text>
<line x1="24.3" y1="115.5" x2="29.4" y2="115.5" stroke="#2a2a2a" stroke-width="0.9" />
<text x="22.6" y="125.2" font-size="6.1" text-anchor="end" fill="#2a2a2a" >100</text>
<line x1="24.3" y1="123" x2="29.4" y2="123" stroke="#2a2a2a" stroke-width="0.9" />
<text x="22.6" y="134.3" font-size="6.1" text-anchor="end" fill="#2a2a2a" >70</text>
<line x1="24.3" y1="132.1" x2="29.4" y2="132.1" stroke="#2a2a2a" stroke-width="0.9" />
<text x="22.6" y="149.4" font-size="6.1" text-anchor="end" fill="#2a2a2a" >55</text>
<line x1="24.3" y1="147.2" x2="29.4" y2="147.2" stroke="#2a2a2a" stroke-width="0.9" />
<text x="22.6" y="159.7" font-size="6.1" text-anchor="end" fill="#2a2a2a" >40</text>
<line x1="24.3" y1="157.5" x2="29.4" y2="157.5" stroke="#2a2a2a" stroke-width="0.9" />
<text x="22.6" y="187.6" font-size="6.1" text-anchor="end" fill="#2a2a2a" >250</text>
<line x1="24.3" y1="185.4" x2="29.4" y2="185.4" stroke="#2a2a2a" stroke-width="0.9" />
<text x="22.6" y="197.7" font-size="6.1" text-anchor="end" fill="#2a2a2a" >130</text>
<line x1="24.3" y1="195.5" x2="29.4" y2="195.5" stroke="#2a2a2a" stroke-width="0.9" />
<text x="22.6" y="205.4" font-size="6.1" text-anchor="end" fill="#2a2a2a" >100</text>
<line x1="24.3" y1="203.2" x2="29.4" y2="203.2" stroke="#2a2a2a" stroke-width="0.9" />
<text x="22.6" y="214.2" font-size="6.1" text-anchor="end" fill="#2a2a2a" >70</text>
<line x1="24.3" y1="212" x2="29.4" y2="212" stroke="#2a2a2a" stroke-width="0.9" />
<text x="22.6" y="229.8" font-size="6.1" text-anchor="end" fill="#2a2a2a" >55</text>
<line x1="24.3" y1="227.6" x2="29.4" y2="227.6" stroke="#2a2a2a" stroke-width="0.9" />
<text x="22.6" y="240.6" font-size="6.1" text-anchor="end" fill="#2a2a2a" >40</text>
<line x1="24.3" y1="238.4" x2="29.4" y2="238.4" stroke="#2a2a2a" stroke-width="0.9" />
<text x="22.6" y="259.1" font-size="6.1" text-anchor="end" fill="#2a2a2a" >250</text>
<line x1="24.3" y1="256.9" x2="29.4" y2="256.9" stroke="#2a2a2a" stroke-width="0.9" />
<text x="22.6" y="268.9" font-size="6.1" text-anchor="end" fill="#2a2a2a" >130</text>
<line x1="24.3" y1="266.7" x2="29.4" y2="266.7" stroke="#2a2a2a" stroke-width="0.9" />
<text x="22.6" y="276.4" font-size="6.1" text-anchor="end" fill="#2a2a2a" >100</text>
<line x1="24.3" y1="274.2" x2="29.4" y2="274.2" stroke="#2a2a2a" stroke-width="0.9" />
<text x="22.6" y="286.2" font-size="6.1" text-anchor="end" fill="#2a2a2a" >70</text>
<line x1="24.3" y1="284" x2="29.4" y2="284" stroke="#2a2a2a" stroke-width="0.9" />
<text x="22.6" y="301.4" font-size="6.1" text-anchor="end" fill="#2a2a2a" >55</text>
<line x1="24.3" y1="299.2" x2="29.4" y2="299.2" stroke="#2a2a2a" stroke-width="0.9" />
<text x="22.6" y="312.1" font-size="6.1" text-anchor="end" fill="#2a2a2a" >40</text>
<line x1="24.3" y1="309.9" x2="29.4" y2="309.9" stroke="#2a2a2a" stroke-width="0.9" />
<rect x="29.4" y="28.5" width="142.1" height="69.8" fill="#f3f3f3" rx="0"/>
<g clip-path="url(#c1)">
<g filter="url(#bl)">
<rect x="32.6" y="28.5" width="7.6" height="69.8" fill="url(#lg2)" />
<rect x="42.4" y="28.5" width="7.6" height="69.8" fill="url(#lg3)" />
<rect x="51.9" y="28.5" width="7.6" height="69.8" fill="url(#lg4)" />
<rect x="61.3" y="28.5" width="7.6" height="69.8" fill="url(#lg5)" />
<rect x="80.8" y="28.5" width="7.6" height="69.8" fill="url(#lg6)" />
<rect x="90.2" y="28.5" width="7.6" height="69.8" fill="url(#lg7)" />
<rect x="99.6" y="28.5" width="7.6" height="69.8" fill="url(#lg8)" />
<rect x="108.8" y="28.5" width="7.6" height="69.8" fill="url(#lg9)" />
<rect x="128.5" y="28.5" width="7.6" height="69.8" fill="url(#lg10)" />
<rect x="138.5" y="28.5" width="8.6" height="69.8" fill="url(#lg11)" />
<rect x="149.4" y="28.5" width="7.4" height="69.8" fill="url(#lg12)" />
<rect x="158.9" y="28.5" width="8" height="69.8" fill="url(#lg13)" />
<rect x="32.6" y="73.5" width="7.6" height="2" fill="#000" fill-opacity="0.06"/>
<rect x="32.6" y="80" width="7.6" height="2" fill="#000" fill-opacity="0.06"/>
<rect x="32.6" y="92" width="7.6" height="2" fill="#000" fill-opacity="0.04"/>
<rect x="32.6" y="37.45" width="7.6" height="1.1" fill="#000" fill-opacity="0.07"/>
<rect x="32.6" y="41.45" width="7.6" height="1.1" fill="#000" fill-opacity="0.07"/>
<rect x="32.6" y="45.45" width="7.6" height="1.1" fill="#000" fill-opacity="0.07"/>
<rect x="32.6" y="50.45" width="7.6" height="1.1" fill="#000" fill-opacity="0.07"/>
<rect x="32.6" y="55.45" width="7.6" height="1.1" fill="#000" fill-opacity="0.07"/>
<rect x="32.6" y="60.45" width="7.6" height="1.1" fill="#000" fill-opacity="0.07"/>
<rect x="32.6" y="65.45" width="7.6" height="1.1" fill="#000" fill-opacity="0.07"/>
<rect x="42.4" y="73.5" width="7.6" height="2" fill="#000" fill-opacity="0.06"/>
<rect x="42.4" y="80" width="7.6" height="2" fill="#000" fill-opacity="0.06"/>
<rect x="42.4" y="92" width="7.6" height="2" fill="#000" fill-opacity="0.04"/>
<rect x="42.4" y="37.45" width="7.6" height="1.1" fill="#000" fill-opacity="0.07"/>
<rect x="42.4" y="41.45" width="7.6" height="1.1" fill="#000" fill-opacity="0.07"/>
<rect x="42.4" y="45.45" width="7.6" height="1.1" fill="#000" fill-opacity="0.07"/>
<rect x="42.4" y="50.45" width="7.6" height="1.1" fill="#000" fill-opacity="0.07"/>
<rect x="42.4" y="55.45" width="7.6" height="1.1" fill="#000" fill-opacity="0.07"/>
<rect x="42.4" y="60.45" width="7.6" height="1.1" fill="#000" fill-opacity="0.07"/>
<rect x="42.4" y="65.45" width="7.6" height="1.1" fill="#000" fill-opacity="0.07"/>
<rect x="51.9" y="73.5" width="7.6" height="2" fill="#000" fill-opacity="0.06"/>
<rect x="51.9" y="80" width="7.6" height="2" fill="#000" fill-opacity="0.06"/>
<rect x="51.9" y="92" width="7.6" height="2" fill="#000" fill-opacity="0.04"/>
<rect x="51.9" y="37.45" width="7.6" height="1.1" fill="#000" fill-opacity="0.07"/>
<rect x="51.9" y="41.45" width="7.6" height="1.1" fill="#000" fill-opacity="0.07"/>
<rect x="51.9" y="45.45" width="7.6" height="1.1" fill="#000" fill-opacity="0.07"/>
<rect x="51.9" y="50.45" width="7.6" height="1.1" fill="#000" fill-opacity="0.07"/>
<rect x="51.9" y="55.45" width="7.6" height="1.1" fill="#000" fill-opacity="0.07"/>
<rect x="51.9" y="60.45" width="7.6" height="1.1" fill="#000" fill-opacity="0.07"/>
<rect x="51.9" y="65.45" width="7.6" height="1.1" fill="#000" fill-opacity="0.07"/>
<rect x="61.3" y="73.5" width="7.6" height="2" fill="#000" fill-opacity="0.06"/>
<rect x="61.3" y="80" width="7.6" height="2" fill="#000" fill-opacity="0.06"/>
<rect x="61.3" y="92" width="7.6" height="2" fill="#000" fill-opacity="0.04"/>
<rect x="61.3" y="37.45" width="7.6" height="1.1" fill="#000" fill-opacity="0.07"/>
<rect x="61.3" y="41.45" width="7.6" height="1.1" fill="#000" fill-opacity="0.07"/>
<rect x="61.3" y="45.45" width="7.6" height="1.1" fill="#000" fill-opacity="0.07"/>
<rect x="61.3" y="50.45" width="7.6" height="1.1" fill="#000" fill-opacity="0.07"/>
<rect x="61.3" y="55.45" width="7.6" height="1.1" fill="#000" fill-opacity="0.07"/>
<rect x="61.3" y="60.45" width="7.6" height="1.1" fill="#000" fill-opacity="0.07"/>
<rect x="61.3" y="65.45" width="7.6" height="1.1" fill="#000" fill-opacity="0.07"/>
<rect x="80.8" y="73.5" width="7.6" height="2" fill="#000" fill-opacity="0.06"/>
<rect x="80.8" y="80" width="7.6" height="2" fill="#000" fill-opacity="0.06"/>
<rect x="80.8" y="92" width="7.6" height="2" fill="#000" fill-opacity="0.04"/>
<rect x="80.8" y="37.45" width="7.6" height="1.1" fill="#000" fill-opacity="0.07"/>
<rect x="80.8" y="41.45" width="7.6" height="1.1" fill="#000" fill-opacity="0.07"/>
<rect x="80.8" y="45.45" width="7.6" height="1.1" fill="#000" fill-opacity="0.07"/>
<rect x="80.8" y="50.45" width="7.6" height="1.1" fill="#000" fill-opacity="0.07"/>
<rect x="80.8" y="55.45" width="7.6" height="1.1" fill="#000" fill-opacity="0.07"/>
<rect x="80.8" y="60.45" width="7.6" height="1.1" fill="#000" fill-opacity="0.07"/>
<rect x="80.8" y="65.45" width="7.6" height="1.1" fill="#000" fill-opacity="0.07"/>
<rect x="90.2" y="73.5" width="7.6" height="2" fill="#000" fill-opacity="0.06"/>
<rect x="90.2" y="80" width="7.6" height="2" fill="#000" fill-opacity="0.06"/>
<rect x="90.2" y="92" width="7.6" height="2" fill="#000" fill-opacity="0.04"/>
<rect x="90.2" y="37.45" width="7.6" height="1.1" fill="#000" fill-opacity="0.07"/>
<rect x="90.2" y="41.45" width="7.6" height="1.1" fill="#000" fill-opacity="0.07"/>
<rect x="90.2" y="45.45" width="7.6" height="1.1" fill="#000" fill-opacity="0.07"/>
<rect x="90.2" y="50.45" width="7.6" height="1.1" fill="#000" fill-opacity="0.07"/>
<rect x="90.2" y="55.45" width="7.6" height="1.1" fill="#000" fill-opacity="0.07"/>
<rect x="90.2" y="60.45" width="7.6" height="1.1" fill="#000" fill-opacity="0.07"/>
<rect x="90.2" y="65.45" width="7.6" height="1.1" fill="#000" fill-opacity="0.07"/>
<rect x="99.6" y="73.5" width="7.6" height="2" fill="#000" fill-opacity="0.06"/>
<rect x="99.6" y="80" width="7.6" height="2" fill="#000" fill-opacity="0.06"/>
<rect x="99.6" y="92" width="7.6" height="2" fill="#000" fill-opacity="0.04"/>
<rect x="99.6" y="37.45" width="7.6" height="1.1" fill="#000" fill-opacity="0.07"/>
<rect x="99.6" y="41.45" width="7.6" height="1.1" fill="#000" fill-opacity="0.07"/>
<rect x="99.6" y="45.45" width="7.6" height="1.1" fill="#000" fill-opacity="0.07"/>
<rect x="99.6" y="50.45" width="7.6" height="1.1" fill="#000" fill-opacity="0.07"/>
<rect x="99.6" y="55.45" width="7.6" height="1.1" fill="#000" fill-opacity="0.07"/>
<rect x="99.6" y="60.45" width="7.6" height="1.1" fill="#000" fill-opacity="0.07"/>
<rect x="99.6" y="65.45" width="7.6" height="1.1" fill="#000" fill-opacity="0.07"/>
<rect x="108.8" y="73.5" width="7.6" height="2" fill="#000" fill-opacity="0.06"/>
<rect x="108.8" y="80" width="7.6" height="2" fill="#000" fill-opacity="0.06"/>
<rect x="108.8" y="92" width="7.6" height="2" fill="#000" fill-opacity="0.04"/>
<rect x="108.8" y="37.45" width="7.6" height="1.1" fill="#000" fill-opacity="0.07"/>
<rect x="108.8" y="41.45" width="7.6" height="1.1" fill="#000" fill-opacity="0.07"/>
<rect x="108.8" y="45.45" width="7.6" height="1.1" fill="#000" fill-opacity="0.07"/>
<rect x="108.8" y="50.45" width="7.6" height="1.1" fill="#000" fill-opacity="0.07"/>
<rect x="108.8" y="55.45" width="7.6" height="1.1" fill="#000" fill-opacity="0.07"/>
<rect x="108.8" y="60.45" width="7.6" height="1.1" fill="#000" fill-opacity="0.07"/>
<rect x="108.8" y="65.45" width="7.6" height="1.1" fill="#000" fill-opacity="0.07"/>
<rect x="128.5" y="73.5" width="7.6" height="2" fill="#000" fill-opacity="0.06"/>
<rect x="128.5" y="80" width="7.6" height="2" fill="#000" fill-opacity="0.06"/>
<rect x="128.5" y="92" width="7.6" height="2" fill="#000" fill-opacity="0.04"/>
<rect x="128.5" y="37.45" width="7.6" height="1.1" fill="#000" fill-opacity="0.07"/>
<rect x="128.5" y="41.45" width="7.6" height="1.1" fill="#000" fill-opacity="0.07"/>
<rect x="128.5" y="45.45" width="7.6" height="1.1" fill="#000" fill-opacity="0.07"/>
<rect x="128.5" y="50.45" width="7.6" height="1.1" fill="#000" fill-opacity="0.07"/>
<rect x="128.5" y="55.45" width="7.6" height="1.1" fill="#000" fill-opacity="0.07"/>
<rect x="128.5" y="60.45" width="7.6" height="1.1" fill="#000" fill-opacity="0.07"/>
<rect x="128.5" y="65.45" width="7.6" height="1.1" fill="#000" fill-opacity="0.07"/>
<rect x="139" y="73.5" width="7.6" height="2" fill="#000" fill-opacity="0.06"/>
<rect x="139" y="80" width="7.6" height="2" fill="#000" fill-opacity="0.06"/>
<rect x="139" y="92" width="7.6" height="2" fill="#000" fill-opacity="0.04"/>
<rect x="139" y="37.45" width="7.6" height="1.1" fill="#000" fill-opacity="0.07"/>
<rect x="139" y="41.45" width="7.6" height="1.1" fill="#000" fill-opacity="0.07"/>
<rect x="139" y="45.45" width="7.6" height="1.1" fill="#000" fill-opacity="0.07"/>
<rect x="139" y="50.45" width="7.6" height="1.1" fill="#000" fill-opacity="0.07"/>
<rect x="139" y="55.45" width="7.6" height="1.1" fill="#000" fill-opacity="0.07"/>
<rect x="139" y="60.45" width="7.6" height="1.1" fill="#000" fill-opacity="0.07"/>
<rect x="139" y="65.45" width="7.6" height="1.1" fill="#000" fill-opacity="0.07"/>
<rect x="149.3" y="73.5" width="7.6" height="2" fill="#000" fill-opacity="0.06"/>
<rect x="149.3" y="80" width="7.6" height="2" fill="#000" fill-opacity="0.06"/>
<rect x="149.3" y="92" width="7.6" height="2" fill="#000" fill-opacity="0.04"/>
<rect x="149.3" y="37.45" width="7.6" height="1.1" fill="#000" fill-opacity="0.07"/>
<rect x="149.3" y="41.45" width="7.6" height="1.1" fill="#000" fill-opacity="0.07"/>
<rect x="149.3" y="45.45" width="7.6" height="1.1" fill="#000" fill-opacity="0.07"/>
<rect x="149.3" y="50.45" width="7.6" height="1.1" fill="#000" fill-opacity="0.07"/>
<rect x="149.3" y="55.45" width="7.6" height="1.1" fill="#000" fill-opacity="0.07"/>
<rect x="149.3" y="60.45" width="7.6" height="1.1" fill="#000" fill-opacity="0.07"/>
<rect x="149.3" y="65.45" width="7.6" height="1.1" fill="#000" fill-opacity="0.07"/>
<rect x="159.1" y="73.5" width="7.6" height="2" fill="#000" fill-opacity="0.06"/>
<rect x="159.1" y="80" width="7.6" height="2" fill="#000" fill-opacity="0.06"/>
<rect x="159.1" y="92" width="7.6" height="2" fill="#000" fill-opacity="0.04"/>
<rect x="159.1" y="37.45" width="7.6" height="1.1" fill="#000" fill-opacity="0.07"/>
<rect x="159.1" y="41.45" width="7.6" height="1.1" fill="#000" fill-opacity="0.07"/>
<rect x="159.1" y="45.45" width="7.6" height="1.1" fill="#000" fill-opacity="0.07"/>
<rect x="159.1" y="50.45" width="7.6" height="1.1" fill="#000" fill-opacity="0.07"/>
<rect x="159.1" y="55.45" width="7.6" height="1.1" fill="#000" fill-opacity="0.07"/>
<rect x="159.1" y="60.45" width="7.6" height="1.1" fill="#000" fill-opacity="0.07"/>
<rect x="159.1" y="65.45" width="7.6" height="1.1" fill="#000" fill-opacity="0.07"/>
<rect x="43.8" y="72.75" width="5" height="2.5" fill="#000" fill-opacity="0.16"/>
<rect x="145.45" y="46" width="3.5" height="8" fill="#000" fill-opacity="0.15"/>
</g>
</g>
<rect x="29.4" y="28.5" width="142.1" height="69.8" fill="none" stroke="#3a3a3a" stroke-width="1.0" rx="0"/>
<rect x="28.9" y="170.8" width="143.1" height="2.9" fill="#8c8c8c" />
<rect x="29.4" y="100.3" width="142.1" height="70.5" fill="#b8b8b8" rx="0"/>
<g clip-path="url(#c14)">
<rect x="128" y="100" width="44" height="71" fill="#000" fill-opacity="0.06" filter="url(#bl2)"/>
<rect x="160" y="100" width="12" height="30" fill="url(#a2e)" filter="url(#bl2)"/>
<rect x="28" y="100" width="144" height="2.2" fill="#000" fill-opacity="0.25"/>
<rect x="28" y="168.8" width="144" height="2" fill="#000" fill-opacity="0.15"/>
<g filter="url(#blS)">
<rect x="33.1" y="100" width="7.8" height="70.8" fill="url(#lg15)" />
<rect x="43" y="100" width="7.8" height="70.8" fill="url(#lg16)" />
<rect x="52.4" y="100" width="7.8" height="70.8" fill="url(#lg17)" />
<rect x="61.6" y="100" width="7.8" height="70.8" fill="url(#lg18)" />
<rect x="80.7" y="100" width="7.8" height="70.8" fill="url(#lg19)" />
<rect x="90.5" y="100" width="7.8" height="70.8" fill="url(#lg20)" />
<rect x="99.9" y="100" width="7.8" height="70.8" fill="url(#lg21)" />
<rect x="109.3" y="100" width="7.8" height="70.8" fill="url(#lg22)" />
<rect x="129.2" y="100" width="9.2" height="70.8" fill="url(#lg23)" />
<rect x="138.6" y="100" width="9.2" height="70.8" fill="url(#lg24)" />
<rect x="148.5" y="100" width="9.2" height="70.8" fill="url(#lg25)" />
<rect x="158.8" y="100" width="9.2" height="70.8" fill="url(#lg26)" />
<rect x="33.1" y="108.25" width="7.8" height="1.5" fill="#000" fill-opacity="0.07"/>
<rect x="33.1" y="112.25" width="7.8" height="1.5" fill="#000" fill-opacity="0.07"/>
<rect x="33.1" y="118.2" width="7.8" height="1.6" fill="#000" fill-opacity="0.1"/>
<rect x="33.1" y="124.7" width="7.8" height="2.2" fill="#000" fill-opacity="0.28"/>
<rect x="33.1" y="131.6" width="7.8" height="2" fill="#000" fill-opacity="0.1"/>
<rect x="33.1" y="137.5" width="7.8" height="2" fill="#000" fill-opacity="0.18"/>
<rect x="33.1" y="142.9" width="7.8" height="2.2" fill="#000" fill-opacity="0.21"/>
<rect x="33.1" y="150.1" width="7.8" height="2.4" fill="#000" fill-opacity="0.34"/>
<rect x="33.1" y="166.3" width="7.8" height="1.8" fill="#000" fill-opacity="0.15"/>
<rect x="43" y="108.25" width="7.8" height="1.5" fill="#000" fill-opacity="0.07"/>
<rect x="43" y="112.25" width="7.8" height="1.5" fill="#000" fill-opacity="0.07"/>
<rect x="43" y="118.2" width="7.8" height="1.6" fill="#000" fill-opacity="0.1"/>
<rect x="43" y="124.7" width="7.8" height="2.2" fill="#000" fill-opacity="0.28"/>
<rect x="43" y="131.6" width="7.8" height="2" fill="#000" fill-opacity="0.1"/>
<rect x="43" y="137.5" width="7.8" height="2" fill="#000" fill-opacity="0.18"/>
<rect x="43" y="142.9" width="7.8" height="2.2" fill="#000" fill-opacity="0.21"/>
<rect x="43" y="150.1" width="7.8" height="2.4" fill="#000" fill-opacity="0.34"/>
<rect x="43" y="166.3" width="7.8" height="1.8" fill="#000" fill-opacity="0.15"/>
<rect x="52.4" y="108.25" width="7.8" height="1.5" fill="#000" fill-opacity="0.07"/>
<rect x="52.4" y="112.25" width="7.8" height="1.5" fill="#000" fill-opacity="0.07"/>
<rect x="52.4" y="118.2" width="7.8" height="1.6" fill="#000" fill-opacity="0.1"/>
<rect x="52.4" y="124.7" width="7.8" height="2.2" fill="#000" fill-opacity="0.28"/>
<rect x="52.4" y="131.6" width="7.8" height="2" fill="#000" fill-opacity="0.1"/>
<rect x="52.4" y="137.5" width="7.8" height="2" fill="#000" fill-opacity="0.18"/>
<rect x="52.4" y="142.9" width="7.8" height="2.2" fill="#000" fill-opacity="0.21"/>
<rect x="52.4" y="150.1" width="7.8" height="2.4" fill="#000" fill-opacity="0.34"/>
<rect x="52.4" y="166.3" width="7.8" height="1.8" fill="#000" fill-opacity="0.15"/>
<rect x="61.6" y="108.25" width="7.8" height="1.5" fill="#000" fill-opacity="0.07"/>
<rect x="61.6" y="112.25" width="7.8" height="1.5" fill="#000" fill-opacity="0.07"/>
<rect x="61.6" y="118.2" width="7.8" height="1.6" fill="#000" fill-opacity="0.1"/>
<rect x="61.6" y="124.7" width="7.8" height="2.2" fill="#000" fill-opacity="0.28"/>
<rect x="61.6" y="131.6" width="7.8" height="2" fill="#000" fill-opacity="0.1"/>
<rect x="61.6" y="137.5" width="7.8" height="2" fill="#000" fill-opacity="0.18"/>
<rect x="61.6" y="142.9" width="7.8" height="2.2" fill="#000" fill-opacity="0.21"/>
<rect x="61.6" y="150.1" width="7.8" height="2.4" fill="#000" fill-opacity="0.34"/>
<rect x="61.6" y="166.3" width="7.8" height="1.8" fill="#000" fill-opacity="0.15"/>
<rect x="80.7" y="108.25" width="7.8" height="1.5" fill="#000" fill-opacity="0.07"/>
<rect x="80.7" y="112.25" width="7.8" height="1.5" fill="#000" fill-opacity="0.07"/>
<rect x="80.7" y="118.2" width="7.8" height="1.6" fill="#000" fill-opacity="0.1"/>
<rect x="80.7" y="124.7" width="7.8" height="2.2" fill="#000" fill-opacity="0.21"/>
<rect x="80.7" y="131.6" width="7.8" height="2" fill="#000" fill-opacity="0.27"/>
<rect x="80.7" y="137.5" width="7.8" height="2" fill="#000" fill-opacity="0.14"/>
<rect x="80.7" y="142.9" width="7.8" height="2.2" fill="#000" fill-opacity="0.18"/>
<rect x="80.7" y="150.1" width="7.8" height="2.4" fill="#000" fill-opacity="0.34"/>
<rect x="80.7" y="166.3" width="7.8" height="1.8" fill="#000" fill-opacity="0.13"/>
<rect x="90.5" y="108.25" width="7.8" height="1.5" fill="#000" fill-opacity="0.07"/>
<rect x="90.5" y="112.25" width="7.8" height="1.5" fill="#000" fill-opacity="0.07"/>
<rect x="90.5" y="118.2" width="7.8" height="1.6" fill="#000" fill-opacity="0.1"/>
<rect x="90.5" y="124.7" width="7.8" height="2.2" fill="#000" fill-opacity="0.21"/>
<rect x="90.5" y="131.6" width="7.8" height="2" fill="#000" fill-opacity="0.27"/>
<rect x="90.5" y="137.5" width="7.8" height="2" fill="#000" fill-opacity="0.14"/>
<rect x="90.5" y="142.9" width="7.8" height="2.2" fill="#000" fill-opacity="0.18"/>
<rect x="90.5" y="150.1" width="7.8" height="2.4" fill="#000" fill-opacity="0.34"/>
<rect x="90.5" y="166.3" width="7.8" height="1.8" fill="#000" fill-opacity="0.13"/>
<rect x="99.9" y="108.25" width="7.8" height="1.5" fill="#000" fill-opacity="0.07"/>
<rect x="99.9" y="112.25" width="7.8" height="1.5" fill="#000" fill-opacity="0.07"/>
<rect x="99.9" y="118.2" width="7.8" height="1.6" fill="#000" fill-opacity="0.1"/>
<rect x="99.9" y="124.7" width="7.8" height="2.2" fill="#000" fill-opacity="0.21"/>
<rect x="99.9" y="131.6" width="7.8" height="2" fill="#000" fill-opacity="0.27"/>
<rect x="99.9" y="137.5" width="7.8" height="2" fill="#000" fill-opacity="0.14"/>
<rect x="99.9" y="142.9" width="7.8" height="2.2" fill="#000" fill-opacity="0.18"/>
<rect x="99.9" y="150.1" width="7.8" height="2.4" fill="#000" fill-opacity="0.34"/>
<rect x="99.9" y="166.3" width="7.8" height="1.8" fill="#000" fill-opacity="0.13"/>
<rect x="109.3" y="108.25" width="7.8" height="1.5" fill="#000" fill-opacity="0.07"/>
<rect x="109.3" y="112.25" width="7.8" height="1.5" fill="#000" fill-opacity="0.07"/>
<rect x="109.3" y="118.2" width="7.8" height="1.6" fill="#000" fill-opacity="0.1"/>
<rect x="109.3" y="124.7" width="7.8" height="2.2" fill="#000" fill-opacity="0.21"/>
<rect x="109.3" y="131.6" width="7.8" height="2" fill="#000" fill-opacity="0.27"/>
<rect x="109.3" y="137.5" width="7.8" height="2" fill="#000" fill-opacity="0.14"/>
<rect x="109.3" y="142.9" width="7.8" height="2.2" fill="#000" fill-opacity="0.18"/>
<rect x="109.3" y="150.1" width="7.8" height="2.4" fill="#000" fill-opacity="0.34"/>
<rect x="109.3" y="166.3" width="7.8" height="1.8" fill="#000" fill-opacity="0.13"/>
<rect x="129.2" y="108.25" width="9.2" height="1.5" fill="#000" fill-opacity="0.09"/>
<rect x="129.2" y="112.25" width="9.2" height="1.5" fill="#000" fill-opacity="0.09"/>
<rect x="129.2" y="118.2" width="9.2" height="1.6" fill="#000" fill-opacity="0.14"/>
<rect x="129.2" y="124.7" width="9.2" height="2.2" fill="#000" fill-opacity="0.28"/>
<rect x="129.2" y="131.6" width="9.2" height="2" fill="#000" fill-opacity="0.24"/>
<rect x="129.2" y="137.5" width="9.2" height="2" fill="#000" fill-opacity="0.19"/>
<rect x="129.2" y="142.9" width="9.2" height="2.2" fill="#000" fill-opacity="0.19"/>
<rect x="129.2" y="150.1" width="9.2" height="2.4" fill="#000" fill-opacity="0.38"/>
<rect x="129.2" y="166.3" width="9.2" height="1.8" fill="#000" fill-opacity="0.17"/>
<rect x="138.6" y="108.25" width="9.2" height="1.5" fill="#000" fill-opacity="0.09"/>
<rect x="138.6" y="112.25" width="9.2" height="1.5" fill="#000" fill-opacity="0.09"/>
<rect x="138.6" y="118.2" width="9.2" height="1.6" fill="#000" fill-opacity="0.14"/>
<rect x="138.6" y="124.7" width="9.2" height="2.2" fill="#000" fill-opacity="0.28"/>
<rect x="138.6" y="131.6" width="9.2" height="2" fill="#000" fill-opacity="0.24"/>
<rect x="138.6" y="137.5" width="9.2" height="2" fill="#000" fill-opacity="0.19"/>
<rect x="138.6" y="142.9" width="9.2" height="2.2" fill="#000" fill-opacity="0.19"/>
<rect x="138.6" y="150.1" width="9.2" height="2.4" fill="#000" fill-opacity="0.38"/>
<rect x="138.6" y="166.3" width="9.2" height="1.8" fill="#000" fill-opacity="0.17"/>
<rect x="148.5" y="108.25" width="9.2" height="1.5" fill="#000" fill-opacity="0.09"/>
<rect x="148.5" y="112.25" width="9.2" height="1.5" fill="#000" fill-opacity="0.09"/>
<rect x="148.5" y="118.2" width="9.2" height="1.6" fill="#000" fill-opacity="0.14"/>
<rect x="148.5" y="124.7" width="9.2" height="2.2" fill="#000" fill-opacity="0.28"/>
<rect x="148.5" y="131.6" width="9.2" height="2" fill="#000" fill-opacity="0.24"/>
<rect x="148.5" y="137.5" width="9.2" height="2" fill="#000" fill-opacity="0.19"/>
<rect x="148.5" y="142.9" width="9.2" height="2.2" fill="#000" fill-opacity="0.19"/>
<rect x="148.5" y="150.1" width="9.2" height="2.4" fill="#000" fill-opacity="0.38"/>
<rect x="148.5" y="166.3" width="9.2" height="1.8" fill="#000" fill-opacity="0.17"/>
<rect x="158.8" y="108.25" width="9.2" height="1.5" fill="#000" fill-opacity="0.09"/>
<rect x="158.8" y="112.25" width="9.2" height="1.5" fill="#000" fill-opacity="0.09"/>
<rect x="158.8" y="118.2" width="9.2" height="1.6" fill="#000" fill-opacity="0.14"/>
<rect x="158.8" y="124.7" width="9.2" height="2.2" fill="#000" fill-opacity="0.28"/>
<rect x="158.8" y="131.6" width="9.2" height="2" fill="#000" fill-opacity="0.24"/>
<rect x="158.8" y="137.5" width="9.2" height="2" fill="#000" fill-opacity="0.19"/>
<rect x="158.8" y="142.9" width="9.2" height="2.2" fill="#000" fill-opacity="0.19"/>
<rect x="158.8" y="150.1" width="9.2" height="2.4" fill="#000" fill-opacity="0.38"/>
<rect x="158.8" y="166.3" width="9.2" height="1.8" fill="#000" fill-opacity="0.17"/>
</g>
<rect x="138.5" y="101" width="1.1" height="52" fill="#fff" fill-opacity="0.35" filter="url(#bl3)"/>
<rect x="148.2" y="101" width="1.1" height="52" fill="#fff" fill-opacity="0.35" filter="url(#bl3)"/>
<rect x="158.3" y="101" width="1.1" height="52" fill="#fff" fill-opacity="0.35" filter="url(#bl3)"/>
<ellipse cx="126" cy="115" rx="1.6" ry="1.4" fill="#fff" fill-opacity="0.35" filter="url(#bl3)"/>
<ellipse cx="124.5" cy="134" rx="2.4" ry="1.3" fill="#fff" fill-opacity="0.4" filter="url(#bl3)"/>
<ellipse cx="30.4" cy="106.9" rx="1.3" ry="0.9" fill="#222" fill-opacity="0.75" filter="url(#bl3)"/>
<ellipse cx="30.4" cy="115.5" rx="1.3" ry="1.3" fill="#222" fill-opacity="0.75" filter="url(#bl3)"/>
<ellipse cx="30.4" cy="123" rx="1.3" ry="1.0" fill="#222" fill-opacity="0.75" filter="url(#bl3)"/>
<ellipse cx="30.4" cy="132.1" rx="1.3" ry="2.0" fill="#222" fill-opacity="0.75" filter="url(#bl3)"/>
<ellipse cx="30.4" cy="147.2" rx="1.3" ry="1.5" fill="#222" fill-opacity="0.75" filter="url(#bl3)"/>
<ellipse cx="30.4" cy="157.5" rx="1.3" ry="1.4" fill="#222" fill-opacity="0.75" filter="url(#bl3)"/>
<path d="M40 140 L52 128 L64 113 Q68 110 69 118" fill="none" stroke="#555" stroke-width="0.5" stroke-opacity="0.6"/>
</g>
<rect x="29.4" y="100.3" width="142.1" height="70.5" fill="none" stroke="#3a3a3a" stroke-width="1.0" rx="0"/>
<rect x="29.4" y="173.7" width="142.1" height="69.4" fill="#f1f1f1" rx="0"/>
<g clip-path="url(#c27)">
<g filter="url(#bl)">
<rect x="33.5" y="175" width="7" height="68.3" fill="url(#lg28)" />
<rect x="43.9" y="175" width="7" height="68.3" fill="url(#lg29)" />
<rect x="53.5" y="175" width="7" height="68.3" fill="url(#lg30)" />
<rect x="62.9" y="175" width="7" height="68.3" fill="url(#lg31)" />
<rect x="82.5" y="175" width="7" height="68.3" fill="url(#lg32)" />
<rect x="91.5" y="175" width="7" height="68.3" fill="url(#lg33)" />
<rect x="100.8" y="175" width="7" height="68.3" fill="url(#lg34)" />
<rect x="110" y="175" width="7" height="68.3" fill="url(#lg35)" />
<rect x="128.3" y="190" width="8.8" height="53.3" fill="url(#lg36)" />
<rect x="138.6" y="200" width="8.8" height="43.3" fill="url(#lg37)" />
<rect x="147.8" y="188" width="8.8" height="55.3" fill="url(#lg38)" />
<rect x="157.3" y="201" width="8.8" height="42.3" fill="url(#lg39)" />
<rect x="82.5" y="225" width="7" height="3" fill="#000" fill-opacity="0.06"/>
<rect x="82.5" y="230.5" width="7" height="3" fill="#000" fill-opacity="0.05"/>
<rect x="91.5" y="225" width="7" height="3" fill="#000" fill-opacity="0.06"/>
<rect x="91.5" y="230.5" width="7" height="3" fill="#000" fill-opacity="0.05"/>
<rect x="100.8" y="225" width="7" height="3" fill="#000" fill-opacity="0.06"/>
<rect x="100.8" y="230.5" width="7" height="3" fill="#000" fill-opacity="0.05"/>
<rect x="110" y="225" width="7" height="3" fill="#000" fill-opacity="0.06"/>
<rect x="110" y="230.5" width="7" height="3" fill="#000" fill-opacity="0.05"/>
<rect x="128.3" y="225" width="8.8" height="3" fill="#000" fill-opacity="0.1"/>
<rect x="128.3" y="230.5" width="8.8" height="3" fill="#000" fill-opacity="0.09"/>
<rect x="138.6" y="225" width="8.8" height="3" fill="#000" fill-opacity="0.1"/>
<rect x="138.6" y="230.5" width="8.8" height="3" fill="#000" fill-opacity="0.09"/>
<rect x="147.8" y="225" width="8.8" height="3" fill="#000" fill-opacity="0.1"/>
<rect x="147.8" y="230.5" width="8.8" height="3" fill="#000" fill-opacity="0.09"/>
<rect x="157.3" y="225" width="8.8" height="3" fill="#000" fill-opacity="0.1"/>
<rect x="157.3" y="230.5" width="8.8" height="3" fill="#000" fill-opacity="0.09"/>
</g>
<path d="M128.4 174.4 L137.4 174.4 L137.4 186.5 Q137.3 192.5 133.5 193.3 Q129.7 192.5 128.4 183.5 Z" fill="#000" filter="url(#bl4)"/>
<path d="M137.7 174.0 L147.7 174.0 L147.7 197.5 Q147.4 203.5 143.3 204.3 Q139.2 203.5 137.7 194.5 Z" fill="#000" filter="url(#bl4)"/>
<path d="M147.7 174.4 L155.5 174.4 L155.5 184.5 Q155.5 190.5 152.2 191.3 Q148.9 190.5 147.7 181.5 Z" fill="#000" filter="url(#bl4)"/>
<path d="M156.3 174.0 L166.5 174.0 L166.5 199.5 Q166.2 205.5 162 206.3 Q157.8 205.5 156.3 196.5 Z" fill="#000" filter="url(#bl4)"/>
<ellipse cx="36" cy="218.2" rx="1.1" ry="2.7" fill="#000" filter="url(#bl3)"/>
<ellipse cx="52.4" cy="217" rx="0.9" ry="2.5" fill="#000" fill-opacity="0.85" filter="url(#bl3)"/>
<ellipse cx="78.6" cy="219" rx="0.9" ry="2.6" fill="#000" fill-opacity="0.3" filter="url(#bl3)"/>
<circle cx="40.2" cy="185.4" r="0.7" fill="#000"/>
<circle cx="68.6" cy="185.4" r="0.8" fill="#000"/>
</g>
<rect x="29.4" y="173.7" width="142.1" height="69.4" fill="none" stroke="#3a3a3a" stroke-width="1.0" rx="0"/>
<rect x="29.4" y="245.5" width="142.1" height="69.8" fill="#dcdcdc" rx="0"/>
<g clip-path="url(#c40)">
<rect x="157" y="245" width="14.6" height="71" fill="url(#a4e)"/>
<rect x="128.5" y="245" width="40" height="71" fill="#000" fill-opacity="0.2" filter="url(#bl2)"/>
<g filter="url(#blS)">
<rect x="32.1" y="246" width="7.8" height="69.4" fill="url(#lg41)" />
<rect x="42" y="246" width="7.8" height="69.4" fill="url(#lg42)" />
<rect x="51.8" y="246" width="7.8" height="69.4" fill="url(#lg43)" />
<rect x="61.6" y="246" width="7.8" height="69.4" fill="url(#lg44)" />
<rect x="81.3" y="246" width="7.8" height="69.4" fill="url(#lg45)" />
<rect x="91.1" y="246" width="7.8" height="69.4" fill="url(#lg46)" />
<rect x="100.4" y="246" width="7.8" height="69.4" fill="url(#lg47)" />
<rect x="109.8" y="246" width="7.8" height="69.4" fill="url(#lg48)" />
<rect x="129.7" y="246" width="8.2" height="69.4" fill="url(#lg49)" />
<rect x="139.3" y="246" width="8.2" height="69.4" fill="url(#lg50)" />
<rect x="148.9" y="246" width="8.2" height="69.4" fill="url(#lg51)" />
<rect x="158.1" y="246" width="8.2" height="69.4" fill="url(#lg52)" />
<rect x="32.2" y="272.4" width="7.6" height="1.2" fill="#000" fill-opacity="0.28"/>
<rect x="31.4" y="303.85" width="9.2" height="2.7" fill="#000" fill-opacity="0.66"/>
<rect x="32.5" y="282.4" width="7" height="1.2" fill="#000" fill-opacity="0.09"/>
<rect x="32.5" y="285.9" width="7" height="1.2" fill="#000" fill-opacity="0.09"/>
<rect x="32.5" y="289.4" width="7" height="1.2" fill="#000" fill-opacity="0.09"/>
<rect x="32.5" y="293.4" width="7" height="1.2" fill="#000" fill-opacity="0.09"/>
<rect x="32.5" y="297.4" width="7" height="1.2" fill="#000" fill-opacity="0.09"/>
<rect x="42.1" y="272.4" width="7.6" height="1.2" fill="#000" fill-opacity="0.28"/>
<rect x="41.3" y="303.85" width="9.2" height="2.7" fill="#000" fill-opacity="0.66"/>
<rect x="42.4" y="282.4" width="7" height="1.2" fill="#000" fill-opacity="0.09"/>
<rect x="42.4" y="285.9" width="7" height="1.2" fill="#000" fill-opacity="0.09"/>
<rect x="42.4" y="289.4" width="7" height="1.2" fill="#000" fill-opacity="0.09"/>
<rect x="42.4" y="293.4" width="7" height="1.2" fill="#000" fill-opacity="0.09"/>
<rect x="42.4" y="297.4" width="7" height="1.2" fill="#000" fill-opacity="0.09"/>
<rect x="51.9" y="272.4" width="7.6" height="1.2" fill="#000" fill-opacity="0.28"/>
<rect x="51.1" y="303.85" width="9.2" height="2.7" fill="#000" fill-opacity="0.66"/>
<rect x="52.2" y="282.4" width="7" height="1.2" fill="#000" fill-opacity="0.09"/>
<rect x="52.2" y="285.9" width="7" height="1.2" fill="#000" fill-opacity="0.09"/>
<rect x="52.2" y="289.4" width="7" height="1.2" fill="#000" fill-opacity="0.09"/>
<rect x="52.2" y="293.4" width="7" height="1.2" fill="#000" fill-opacity="0.09"/>
<rect x="52.2" y="297.4" width="7" height="1.2" fill="#000" fill-opacity="0.09"/>
<rect x="61.7" y="272.4" width="7.6" height="1.2" fill="#000" fill-opacity="0.28"/>
<rect x="60.9" y="303.85" width="9.2" height="2.7" fill="#000" fill-opacity="0.66"/>
<rect x="62" y="282.4" width="7" height="1.2" fill="#000" fill-opacity="0.09"/>
<rect x="62" y="285.9" width="7" height="1.2" fill="#000" fill-opacity="0.09"/>
<rect x="62" y="289.4" width="7" height="1.2" fill="#000" fill-opacity="0.09"/>
<rect x="62" y="293.4" width="7" height="1.2" fill="#000" fill-opacity="0.09"/>
<rect x="62" y="297.4" width="7" height="1.2" fill="#000" fill-opacity="0.09"/>
<rect x="81.4" y="272.4" width="7.6" height="1.2" fill="#000" fill-opacity="0.13"/>
<rect x="81.4" y="283.3" width="7.6" height="2.4" fill="#000" fill-opacity="0.27"/>
<rect x="80.7" y="303.8" width="9" height="2.8" fill="#000" fill-opacity="0.66"/>
<rect x="81.7" y="289.4" width="7" height="1.2" fill="#000" fill-opacity="0.09"/>
<rect x="81.7" y="293.4" width="7" height="1.2" fill="#000" fill-opacity="0.09"/>
<rect x="81.7" y="297.4" width="7" height="1.2" fill="#000" fill-opacity="0.09"/>
<rect x="91.2" y="272.4" width="7.6" height="1.2" fill="#000" fill-opacity="0.13"/>
<rect x="91.2" y="283.3" width="7.6" height="2.4" fill="#000" fill-opacity="0.27"/>
<rect x="90.5" y="303.8" width="9" height="2.8" fill="#000" fill-opacity="0.66"/>
<rect x="91.5" y="289.4" width="7" height="1.2" fill="#000" fill-opacity="0.09"/>
<rect x="91.5" y="293.4" width="7" height="1.2" fill="#000" fill-opacity="0.09"/>
<rect x="91.5" y="297.4" width="7" height="1.2" fill="#000" fill-opacity="0.09"/>
<rect x="100.5" y="272.4" width="7.6" height="1.2" fill="#000" fill-opacity="0.13"/>
<rect x="100.5" y="283.3" width="7.6" height="2.4" fill="#000" fill-opacity="0.27"/>
<rect x="99.8" y="303.8" width="9" height="2.8" fill="#000" fill-opacity="0.66"/>
<rect x="100.8" y="289.4" width="7" height="1.2" fill="#000" fill-opacity="0.09"/>
<rect x="100.8" y="293.4" width="7" height="1.2" fill="#000" fill-opacity="0.09"/>
<rect x="100.8" y="297.4" width="7" height="1.2" fill="#000" fill-opacity="0.09"/>
<rect x="109.9" y="272.4" width="7.6" height="1.2" fill="#000" fill-opacity="0.13"/>
<rect x="109.9" y="283.3" width="7.6" height="2.4" fill="#000" fill-opacity="0.27"/>
<rect x="109.2" y="303.8" width="9" height="2.8" fill="#000" fill-opacity="0.66"/>
<rect x="110.2" y="289.4" width="7" height="1.2" fill="#000" fill-opacity="0.09"/>
<rect x="110.2" y="293.4" width="7" height="1.2" fill="#000" fill-opacity="0.09"/>
<rect x="110.2" y="297.4" width="7" height="1.2" fill="#000" fill-opacity="0.09"/>
<rect x="129.6" y="272.3" width="8.4" height="1.4" fill="#000" fill-opacity="0.18"/>
<rect x="129.6" y="283.2" width="8.4" height="2.6" fill="#000" fill-opacity="0.25"/>
<rect x="129.3" y="302.3" width="9" height="4.6" fill="#000" fill-opacity="0.6"/>
<rect x="139.2" y="272.3" width="8.4" height="1.4" fill="#000" fill-opacity="0.18"/>
<rect x="139.2" y="283.2" width="8.4" height="2.6" fill="#000" fill-opacity="0.25"/>
<rect x="138.9" y="302.3" width="9" height="4.6" fill="#000" fill-opacity="0.6"/>
<rect x="148.8" y="272.3" width="8.4" height="1.4" fill="#000" fill-opacity="0.18"/>
<rect x="148.8" y="283.2" width="8.4" height="2.6" fill="#000" fill-opacity="0.25"/>
<rect x="148.5" y="302.3" width="9" height="4.6" fill="#000" fill-opacity="0.6"/>
<rect x="158" y="272.3" width="8.4" height="1.4" fill="#000" fill-opacity="0.18"/>
<rect x="158" y="283.2" width="8.4" height="2.6" fill="#000" fill-opacity="0.25"/>
<rect x="157.7" y="302.3" width="9" height="4.6" fill="#000" fill-opacity="0.6"/>
</g>
<ellipse cx="30.3" cy="266.7" rx="1.1" ry="1.6" fill="#222" fill-opacity="0.7" filter="url(#bl3)"/>
<ellipse cx="30.3" cy="274.2" rx="1.1" ry="1.4" fill="#222" fill-opacity="0.7" filter="url(#bl3)"/>
<ellipse cx="30.3" cy="284" rx="1.1" ry="1.8" fill="#222" fill-opacity="0.7" filter="url(#bl3)"/>
<ellipse cx="30.3" cy="299.2" rx="1.1" ry="0.8" fill="#222" fill-opacity="0.7" filter="url(#bl3)"/>
</g>
<rect x="29.4" y="245.5" width="142.1" height="69.8" fill="none" stroke="#3a3a3a" stroke-width="1.0" rx="0"/>
<text x="175.8" y="61.8" font-size="7.7" >Ubiquitin (WCE)</text>
<text x="175.8" y="133" font-size="7.7" >WCE</text>
<text x="175.8" y="142.1" font-size="7.7" >Loading control</text>
<text x="175.8" y="204" font-size="7.75" >Ubiquitin</text>
<text x="175.8" y="214.8" font-size="7.8" >(Insoluble pellets)</text>
<text x="175.8" y="278.7" font-size="7.75" >Insoluble pellets</text>
<text x="175.8" y="287.8" font-size="7.7" >Loading control</text>
<text x="236" y="10.9" font-size="14.6" font-weight="bold" fill="#1a1a1a" >B</text>
<text x="300.4" y="6.4" font-size="6.3" text-anchor="middle" fill="#2a2a2a" >U2OS</text>
<line x1="278.9" y1="7.85" x2="319.9" y2="7.85" stroke="#7a7a7a" stroke-width="1.0" />
<text x="347.4" y="6.4" font-size="6.3" text-anchor="middle" fill="#2a2a2a" >HEK293A</text>
<line x1="327.5" y1="7.85" x2="368.5" y2="7.85" stroke="#7a7a7a" stroke-width="1.0" />
<text x="394.1" y="6.4" font-size="6.3" text-anchor="middle" fill="#2a2a2a" >HeLa</text>
<line x1="374.2" y1="7.85" x2="415.2" y2="7.85" stroke="#7a7a7a" stroke-width="1.0" />
<text x="273.2" y="26.4" font-size="6.3" fill="#2a2a2a" transform="rotate(-41 273.2 26.4)" >NT</text>
<text x="284" y="26.4" font-size="6.3" fill="#2a2a2a" transform="rotate(-41 284 26.4)" >MG</text>
<text x="293.2" y="26.4" font-size="6.3" fill="#2a2a2a" transform="rotate(-41 293.2 26.4)" >ML</text>
<text x="302.5" y="26.4" font-size="6.3" fill="#2a2a2a" transform="rotate(-41 302.5 26.4)" textLength="20.6" lengthAdjust="spacing">MG+ML</text>
<text x="321.9" y="26.4" font-size="6.3" fill="#2a2a2a" transform="rotate(-41 321.9 26.4)" >NT</text>
<text x="331.3" y="26.4" font-size="6.3" fill="#2a2a2a" transform="rotate(-41 331.3 26.4)" >MG</text>
<text x="340.5" y="26.4" font-size="6.3" fill="#2a2a2a" transform="rotate(-41 340.5 26.4)" >ML</text>
<text x="349.6" y="26.4" font-size="6.3" fill="#2a2a2a" transform="rotate(-41 349.6 26.4)" textLength="20.6" lengthAdjust="spacing">MG+ML</text>
<text x="369.5" y="26.4" font-size="6.3" fill="#2a2a2a" transform="rotate(-41 369.5 26.4)" >NT</text>
<text x="379" y="26.4" font-size="6.3" fill="#2a2a2a" transform="rotate(-41 379 26.4)" >MG</text>
<text x="388.5" y="26.4" font-size="6.3" fill="#2a2a2a" transform="rotate(-41 388.5 26.4)" >ML</text>
<text x="398.4" y="26.4" font-size="6.3" fill="#2a2a2a" transform="rotate(-41 398.4 26.4)" textLength="20.6" lengthAdjust="spacing">MG+ML</text>
<text x="247.9" y="25.9" font-size="6.3" fill="#2a2a2a" >kDa</text>
<text x="259.2" y="42.05" font-size="6.1" text-anchor="end" fill="#2a2a2a" >250</text>
<line x1="261" y1="39.85" x2="266.5" y2="39.85" stroke="#2a2a2a" stroke-width="0.9" />
<text x="259.2" y="48.8" font-size="6.1" text-anchor="end" fill="#2a2a2a" >130</text>
<line x1="261" y1="46.6" x2="266.5" y2="46.6" stroke="#2a2a2a" stroke-width="0.9" />
<text x="259.2" y="55.8" font-size="6.1" text-anchor="end" fill="#2a2a2a" >100</text>
<line x1="261" y1="53.6" x2="266.5" y2="53.6" stroke="#2a2a2a" stroke-width="0.9" />
<text x="259.2" y="63.2" font-size="6.1" text-anchor="end" fill="#2a2a2a" >70</text>
<line x1="261" y1="61" x2="266.5" y2="61" stroke="#2a2a2a" stroke-width="0.9" />
<text x="259.2" y="76.7" font-size="6.1" text-anchor="end" fill="#2a2a2a" >55</text>
<line x1="261" y1="74.5" x2="266.5" y2="74.5" stroke="#2a2a2a" stroke-width="0.9" />
<text x="259.2" y="85.7" font-size="6.1" text-anchor="end" fill="#2a2a2a" >40</text>
<line x1="261" y1="83.5" x2="266.5" y2="83.5" stroke="#2a2a2a" stroke-width="0.9" />
<text x="259.2" y="100.4" font-size="6.1" text-anchor="end" fill="#2a2a2a" >250</text>
<line x1="261" y1="98.2" x2="266.5" y2="98.2" stroke="#2a2a2a" stroke-width="0.9" />
<text x="259.2" y="107.4" font-size="6.1" text-anchor="end" fill="#2a2a2a" >130</text>
<line x1="261" y1="105.2" x2="266.5" y2="105.2" stroke="#2a2a2a" stroke-width="0.9" />
<text x="259.2" y="114.2" font-size="6.1" text-anchor="end" fill="#2a2a2a" >100</text>
<line x1="261" y1="112" x2="266.5" y2="112" stroke="#2a2a2a" stroke-width="0.9" />
<text x="259.2" y="121.8" font-size="6.1" text-anchor="end" fill="#2a2a2a" >70</text>
<line x1="261" y1="119.6" x2="266.5" y2="119.6" stroke="#2a2a2a" stroke-width="0.9" />
<text x="259.2" y="134.6" font-size="6.1" text-anchor="end" fill="#2a2a2a" >55</text>
<line x1="261" y1="132.4" x2="266.5" y2="132.4" stroke="#2a2a2a" stroke-width="0.9" />
<text x="259.2" y="144.3" font-size="6.1" text-anchor="end" fill="#2a2a2a" >40</text>
<line x1="261" y1="142.1" x2="266.5" y2="142.1" stroke="#2a2a2a" stroke-width="0.9" />
<text x="259.2" y="159" font-size="6.1" text-anchor="end" fill="#2a2a2a" >250</text>
<line x1="261" y1="156.8" x2="266.5" y2="156.8" stroke="#2a2a2a" stroke-width="0.9" />
<text x="259.2" y="165.8" font-size="6.1" text-anchor="end" fill="#2a2a2a" >130</text>
<line x1="261" y1="163.6" x2="266.5" y2="163.6" stroke="#2a2a2a" stroke-width="0.9" />
<text x="259.2" y="172.8" font-size="6.1" text-anchor="end" fill="#2a2a2a" >100</text>
<line x1="261" y1="170.6" x2="266.5" y2="170.6" stroke="#2a2a2a" stroke-width="0.9" />
<text x="259.2" y="180.6" font-size="6.1" text-anchor="end" fill="#2a2a2a" >70</text>
<line x1="261" y1="178.4" x2="266.5" y2="178.4" stroke="#2a2a2a" stroke-width="0.9" />
<text x="259.2" y="193.9" font-size="6.1" text-anchor="end" fill="#2a2a2a" >55</text>
<line x1="261" y1="191.7" x2="266.5" y2="191.7" stroke="#2a2a2a" stroke-width="0.9" />
<text x="259.2" y="203.1" font-size="6.1" text-anchor="end" fill="#2a2a2a" >40</text>
<line x1="261" y1="200.9" x2="266.5" y2="200.9" stroke="#2a2a2a" stroke-width="0.9" />
<text x="259.2" y="216.9" font-size="6.1" text-anchor="end" fill="#2a2a2a" >250</text>
<line x1="261" y1="214.7" x2="266.5" y2="214.7" stroke="#2a2a2a" stroke-width="0.9" />
<text x="259.2" y="223.6" font-size="6.1" text-anchor="end" fill="#2a2a2a" >130</text>
<line x1="261" y1="221.4" x2="266.5" y2="221.4" stroke="#2a2a2a" stroke-width="0.9" />
<text x="259.2" y="231" font-size="6.1" text-anchor="end" fill="#2a2a2a" >100</text>
<line x1="261" y1="228.8" x2="266.5" y2="228.8" stroke="#2a2a2a" stroke-width="0.9" />
<text x="259.2" y="238.2" font-size="6.1" text-anchor="end" fill="#2a2a2a" >70</text>
<line x1="261" y1="236" x2="266.5" y2="236" stroke="#2a2a2a" stroke-width="0.9" />
<text x="259.2" y="251.7" font-size="6.1" text-anchor="end" fill="#2a2a2a" >55</text>
<line x1="261" y1="249.5" x2="266.5" y2="249.5" stroke="#2a2a2a" stroke-width="0.9" />
<text x="259.2" y="260.5" font-size="6.1" text-anchor="end" fill="#2a2a2a" >40</text>
<line x1="261" y1="258.3" x2="266.5" y2="258.3" stroke="#2a2a2a" stroke-width="0.9" />
<rect x="266.5" y="29.05" width="142.9" height="56.15" fill="#e8e8e8" rx="1.2"/>
<g clip-path="url(#c53)">
<g filter="url(#bl)">
<rect x="270.7" y="31" width="7.8" height="33" fill="url(#lg54)" />
<rect x="281.5" y="31" width="7.8" height="33" fill="url(#lg55)" />
<rect x="319.2" y="31" width="8.2" height="47" fill="url(#lg56)" />
<rect x="328.6" y="31" width="8.2" height="47" fill="url(#lg57)" />
<rect x="366.7" y="30.5" width="8.4" height="49.5" fill="url(#lg58)" />
<rect x="376.2" y="30.5" width="8.4" height="49.5" fill="url(#lg59)" />
<rect x="270.7" y="49" width="7.8" height="2.4" fill="#000" fill-opacity="0.5"/>
<rect x="270.7" y="56.8" width="7.8" height="1.6" fill="#000" fill-opacity="0.22"/>
<rect x="281.5" y="49" width="7.8" height="2.4" fill="#000" fill-opacity="0.5"/>
<rect x="281.5" y="56.8" width="7.8" height="1.6" fill="#000" fill-opacity="0.22"/>
<rect x="291.35" y="49.65" width="6.5" height="1.3" fill="#000" fill-opacity="0.16"/>
<rect x="300.65" y="49.65" width="6.5" height="1.3" fill="#000" fill-opacity="0.16"/>
<rect x="319.2" y="49.1" width="8.2" height="2.4" fill="#000" fill-opacity="0.6"/>
<rect x="319.2" y="56.6" width="8.2" height="2" fill="#000" fill-opacity="0.45"/>
<rect x="328.6" y="49.1" width="8.2" height="2.4" fill="#000" fill-opacity="0.6"/>
<rect x="328.6" y="56.6" width="8.2" height="2" fill="#000" fill-opacity="0.45"/>
<rect x="338.65" y="49.65" width="6.5" height="1.3" fill="#000" fill-opacity="0.13"/>
<rect x="347.75" y="49.65" width="6.5" height="1.3" fill="#000" fill-opacity="0.13"/>
<rect x="366.6" y="49.1" width="8.6" height="2.6" fill="#000" fill-opacity="0.85"/>
<rect x="366.6" y="56.7" width="8.6" height="2.6" fill="#000" fill-opacity="0.8"/>
<rect x="376.1" y="49.1" width="8.6" height="2.6" fill="#000" fill-opacity="0.85"/>
<rect x="376.1" y="56.7" width="8.6" height="2.6" fill="#000" fill-opacity="0.8"/>
<rect x="386.65" y="49.65" width="6.5" height="1.3" fill="#000" fill-opacity="0.33"/>
<rect x="396.55" y="49.65" width="6.5" height="1.3" fill="#000" fill-opacity="0.33"/>
</g>
</g>
<rect x="266.5" y="29.05" width="142.9" height="56.15" fill="none" stroke="#5e5e5e" stroke-width="1.0" rx="1.2"/>
<rect x="266.5" y="87.4" width="142.9" height="56" fill="#d6d6d6" rx="1.2"/>
<g clip-path="url(#c60)">
<rect x="266" y="87" width="144" height="57" fill="url(#b2g)"/>
<g filter="url(#blS)">
<rect x="270.6" y="92" width="8" height="51.6" fill="url(#lg61)" />
<rect x="281.4" y="92" width="8" height="51.6" fill="url(#lg62)" />
<rect x="290.6" y="92" width="8" height="51.6" fill="url(#lg63)" />
<rect x="299.9" y="92" width="8" height="51.6" fill="url(#lg64)" />
<rect x="319.3" y="92" width="8" height="51.6" fill="url(#lg65)" />
<rect x="328.7" y="92" width="8" height="51.6" fill="url(#lg66)" />
<rect x="337.9" y="92" width="8" height="51.6" fill="url(#lg67)" />
<rect x="347" y="92" width="8" height="51.6" fill="url(#lg68)" />
<rect x="366.6" y="92" width="8.6" height="51.6" fill="url(#lg69)" />
<rect x="376.1" y="92" width="8.6" height="51.6" fill="url(#lg70)" />
<rect x="385.6" y="92" width="8.6" height="51.6" fill="url(#lg71)" />
<rect x="395.5" y="92" width="8.6" height="51.6" fill="url(#lg72)" />
<rect x="270.3" y="100.4" width="8.6" height="1.2" fill="#000" fill-opacity="0.04"/>
<rect x="270.3" y="104.4" width="8.6" height="1.2" fill="#000" fill-opacity="0.04"/>
<rect x="270.3" y="108.85" width="8.6" height="1.3" fill="#000" fill-opacity="0.07"/>
<rect x="270.3" y="112.8" width="8.6" height="2" fill="#000" fill-opacity="0.29"/>
<rect x="270.3" y="119.9" width="8.6" height="1.8" fill="#000" fill-opacity="0.07"/>
<rect x="270.3" y="125.1" width="8.6" height="1.8" fill="#000" fill-opacity="0.21"/>
<rect x="270.3" y="128.6" width="8.6" height="1.6" fill="#000" fill-opacity="0.2"/>
<rect x="270.3" y="132.4" width="8.6" height="1.2" fill="#000" fill-opacity="0.07"/>
<rect x="270.3" y="136.1" width="8.6" height="2.6" fill="#000" fill-opacity="0.34"/>
<rect x="281.1" y="100.4" width="8.6" height="1.2" fill="#000" fill-opacity="0.04"/>
<rect x="281.1" y="104.4" width="8.6" height="1.2" fill="#000" fill-opacity="0.04"/>
<rect x="281.1" y="108.85" width="8.6" height="1.3" fill="#000" fill-opacity="0.07"/>
<rect x="281.1" y="112.8" width="8.6" height="2" fill="#000" fill-opacity="0.29"/>
<rect x="281.1" y="119.9" width="8.6" height="1.8" fill="#000" fill-opacity="0.07"/>
<rect x="281.1" y="125.1" width="8.6" height="1.8" fill="#000" fill-opacity="0.21"/>
<rect x="281.1" y="128.6" width="8.6" height="1.6" fill="#000" fill-opacity="0.2"/>
<rect x="281.1" y="132.4" width="8.6" height="1.2" fill="#000" fill-opacity="0.07"/>
<rect x="281.1" y="136.1" width="8.6" height="2.6" fill="#000" fill-opacity="0.34"/>
<rect x="290.3" y="100.4" width="8.6" height="1.2" fill="#000" fill-opacity="0.04"/>
<rect x="290.3" y="104.4" width="8.6" height="1.2" fill="#000" fill-opacity="0.04"/>
<rect x="290.3" y="108.85" width="8.6" height="1.3" fill="#000" fill-opacity="0.07"/>
<rect x="290.3" y="112.8" width="8.6" height="2" fill="#000" fill-opacity="0.29"/>
<rect x="290.3" y="119.9" width="8.6" height="1.8" fill="#000" fill-opacity="0.07"/>
<rect x="290.3" y="125.1" width="8.6" height="1.8" fill="#000" fill-opacity="0.21"/>
<rect x="290.3" y="128.6" width="8.6" height="1.6" fill="#000" fill-opacity="0.2"/>
<rect x="290.3" y="132.4" width="8.6" height="1.2" fill="#000" fill-opacity="0.07"/>
<rect x="290.3" y="136.1" width="8.6" height="2.6" fill="#000" fill-opacity="0.34"/>
<rect x="299.6" y="100.4" width="8.6" height="1.2" fill="#000" fill-opacity="0.04"/>
<rect x="299.6" y="104.4" width="8.6" height="1.2" fill="#000" fill-opacity="0.04"/>
<rect x="299.6" y="108.85" width="8.6" height="1.3" fill="#000" fill-opacity="0.07"/>
<rect x="299.6" y="112.8" width="8.6" height="2" fill="#000" fill-opacity="0.29"/>
<rect x="299.6" y="119.9" width="8.6" height="1.8" fill="#000" fill-opacity="0.07"/>
<rect x="299.6" y="125.1" width="8.6" height="1.8" fill="#000" fill-opacity="0.21"/>
<rect x="299.6" y="128.6" width="8.6" height="1.6" fill="#000" fill-opacity="0.2"/>
<rect x="299.6" y="132.4" width="8.6" height="1.2" fill="#000" fill-opacity="0.07"/>
<rect x="299.6" y="136.1" width="8.6" height="2.6" fill="#000" fill-opacity="0.34"/>
<rect x="319" y="100.4" width="8.6" height="1.2" fill="#000" fill-opacity="0.05"/>
<rect x="319" y="104.4" width="8.6" height="1.2" fill="#000" fill-opacity="0.05"/>
<rect x="319" y="108.85" width="8.6" height="1.3" fill="#000" fill-opacity="0.07"/>
<rect x="319" y="112.8" width="8.6" height="2" fill="#000" fill-opacity="0.17"/>
<rect x="319" y="119.9" width="8.6" height="1.8" fill="#000" fill-opacity="0.29"/>
<rect x="319" y="125.1" width="8.6" height="1.8" fill="#000" fill-opacity="0.14"/>
<rect x="319" y="128.6" width="8.6" height="1.6" fill="#000" fill-opacity="0.2"/>
<rect x="319" y="132.4" width="8.6" height="1.2" fill="#000" fill-opacity="0.08"/>
<rect x="319" y="136.1" width="8.6" height="2.6" fill="#000" fill-opacity="0.34"/>
<rect x="328.4" y="100.4" width="8.6" height="1.2" fill="#000" fill-opacity="0.05"/>
<rect x="328.4" y="104.4" width="8.6" height="1.2" fill="#000" fill-opacity="0.05"/>
<rect x="328.4" y="108.85" width="8.6" height="1.3" fill="#000" fill-opacity="0.07"/>
<rect x="328.4" y="112.8" width="8.6" height="2" fill="#000" fill-opacity="0.17"/>
<rect x="328.4" y="119.9" width="8.6" height="1.8" fill="#000" fill-opacity="0.29"/>
<rect x="328.4" y="125.1" width="8.6" height="1.8" fill="#000" fill-opacity="0.14"/>
<rect x="328.4" y="128.6" width="8.6" height="1.6" fill="#000" fill-opacity="0.2"/>
<rect x="328.4" y="132.4" width="8.6" height="1.2" fill="#000" fill-opacity="0.08"/>
<rect x="328.4" y="136.1" width="8.6" height="2.6" fill="#000" fill-opacity="0.34"/>
<rect x="337.6" y="100.4" width="8.6" height="1.2" fill="#000" fill-opacity="0.05"/>
<rect x="337.6" y="104.4" width="8.6" height="1.2" fill="#000" fill-opacity="0.05"/>
<rect x="337.6" y="108.85" width="8.6" height="1.3" fill="#000" fill-opacity="0.07"/>
<rect x="337.6" y="112.8" width="8.6" height="2" fill="#000" fill-opacity="0.17"/>
<rect x="337.6" y="119.9" width="8.6" height="1.8" fill="#000" fill-opacity="0.29"/>
<rect x="337.6" y="125.1" width="8.6" height="1.8" fill="#000" fill-opacity="0.14"/>
<rect x="337.6" y="128.6" width="8.6" height="1.6" fill="#000" fill-opacity="0.2"/>
<rect x="337.6" y="132.4" width="8.6" height="1.2" fill="#000" fill-opacity="0.08"/>
<rect x="337.6" y="136.1" width="8.6" height="2.6" fill="#000" fill-opacity="0.34"/>
<rect x="346.7" y="100.4" width="8.6" height="1.2" fill="#000" fill-opacity="0.05"/>
<rect x="346.7" y="104.4" width="8.6" height="1.2" fill="#000" fill-opacity="0.05"/>
<rect x="346.7" y="108.85" width="8.6" height="1.3" fill="#000" fill-opacity="0.07"/>
<rect x="346.7" y="112.8" width="8.6" height="2" fill="#000" fill-opacity="0.17"/>
<rect x="346.7" y="119.9" width="8.6" height="1.8" fill="#000" fill-opacity="0.29"/>
<rect x="346.7" y="125.1" width="8.6" height="1.8" fill="#000" fill-opacity="0.14"/>
<rect x="346.7" y="128.6" width="8.6" height="1.6" fill="#000" fill-opacity="0.2"/>
<rect x="346.7" y="132.4" width="8.6" height="1.2" fill="#000" fill-opacity="0.08"/>
<rect x="346.7" y="136.1" width="8.6" height="2.6" fill="#000" fill-opacity="0.34"/>
<rect x="366.3" y="100.4" width="9.2" height="1.2" fill="#000" fill-opacity="0.05"/>
<rect x="366.3" y="104.4" width="9.2" height="1.2" fill="#000" fill-opacity="0.05"/>
<rect x="366.3" y="108.85" width="9.2" height="1.3" fill="#000" fill-opacity="0.08"/>
<rect x="366.3" y="112.8" width="9.2" height="2" fill="#000" fill-opacity="0.27"/>
<rect x="366.3" y="119.9" width="9.2" height="1.8" fill="#000" fill-opacity="0.2"/>
<rect x="366.3" y="125.1" width="9.2" height="1.8" fill="#000" fill-opacity="0.2"/>
<rect x="366.3" y="128.6" width="9.2" height="1.6" fill="#000" fill-opacity="0.2"/>
<rect x="366.3" y="132.4" width="9.2" height="1.2" fill="#000" fill-opacity="0.08"/>
<rect x="366.3" y="136.1" width="9.2" height="2.6" fill="#000" fill-opacity="0.38"/>
<rect x="375.8" y="100.4" width="9.2" height="1.2" fill="#000" fill-opacity="0.05"/>
<rect x="375.8" y="104.4" width="9.2" height="1.2" fill="#000" fill-opacity="0.05"/>
<rect x="375.8" y="108.85" width="9.2" height="1.3" fill="#000" fill-opacity="0.08"/>
<rect x="375.8" y="112.8" width="9.2" height="2" fill="#000" fill-opacity="0.27"/>
<rect x="375.8" y="119.9" width="9.2" height="1.8" fill="#000" fill-opacity="0.2"/>
<rect x="375.8" y="125.1" width="9.2" height="1.8" fill="#000" fill-opacity="0.2"/>
<rect x="375.8" y="128.6" width="9.2" height="1.6" fill="#000" fill-opacity="0.2"/>
<rect x="375.8" y="132.4" width="9.2" height="1.2" fill="#000" fill-opacity="0.08"/>
<rect x="375.8" y="136.1" width="9.2" height="2.6" fill="#000" fill-opacity="0.38"/>
<rect x="385.3" y="100.4" width="9.2" height="1.2" fill="#000" fill-opacity="0.05"/>
<rect x="385.3" y="104.4" width="9.2" height="1.2" fill="#000" fill-opacity="0.05"/>
<rect x="385.3" y="108.85" width="9.2" height="1.3" fill="#000" fill-opacity="0.08"/>
<rect x="385.3" y="112.8" width="9.2" height="2" fill="#000" fill-opacity="0.27"/>
<rect x="385.3" y="119.9" width="9.2" height="1.8" fill="#000" fill-opacity="0.2"/>
<rect x="385.3" y="125.1" width="9.2" height="1.8" fill="#000" fill-opacity="0.2"/>
<rect x="385.3" y="128.6" width="9.2" height="1.6" fill="#000" fill-opacity="0.2"/>
<rect x="385.3" y="132.4" width="9.2" height="1.2" fill="#000" fill-opacity="0.08"/>
<rect x="385.3" y="136.1" width="9.2" height="2.6" fill="#000" fill-opacity="0.38"/>
<rect x="395.2" y="100.4" width="9.2" height="1.2" fill="#000" fill-opacity="0.05"/>
<rect x="395.2" y="104.4" width="9.2" height="1.2" fill="#000" fill-opacity="0.05"/>
<rect x="395.2" y="108.85" width="9.2" height="1.3" fill="#000" fill-opacity="0.08"/>
<rect x="395.2" y="112.8" width="9.2" height="2" fill="#000" fill-opacity="0.27"/>
<rect x="395.2" y="119.9" width="9.2" height="1.8" fill="#000" fill-opacity="0.2"/>
<rect x="395.2" y="125.1" width="9.2" height="1.8" fill="#000" fill-opacity="0.2"/>
<rect x="395.2" y="128.6" width="9.2" height="1.6" fill="#000" fill-opacity="0.2"/>
<rect x="395.2" y="132.4" width="9.2" height="1.2" fill="#000" fill-opacity="0.08"/>
<rect x="395.2" y="136.1" width="9.2" height="2.6" fill="#000" fill-opacity="0.38"/>
</g>
<ellipse cx="267.6" cy="105.2" rx="1.2" ry="1.0" fill="#333" fill-opacity="0.6" filter="url(#bl3)"/>
<ellipse cx="267.6" cy="112" rx="1.2" ry="1.6" fill="#333" fill-opacity="0.6" filter="url(#bl3)"/>
<ellipse cx="267.6" cy="119.6" rx="1.2" ry="1.2" fill="#333" fill-opacity="0.6" filter="url(#bl3)"/>
<ellipse cx="267.6" cy="132.4" rx="1.2" ry="1.4" fill="#333" fill-opacity="0.6" filter="url(#bl3)"/>
<ellipse cx="267.6" cy="142.1" rx="1.2" ry="0.9" fill="#333" fill-opacity="0.6" filter="url(#bl3)"/>
</g>
<rect x="266.5" y="87.4" width="142.9" height="56" fill="none" stroke="#5e5e5e" stroke-width="1.0" rx="1.2"/>
<rect x="266.5" y="146.2" width="142.9" height="56.2" fill="#e2e2e2" rx="1.2"/>
<g clip-path="url(#c73)">
<rect x="366" y="162" width="48" height="42" fill="#000" fill-opacity="0.06" filter="url(#bl2)"/>
<g filter="url(#bl)">
<rect x="269.5" y="166" width="7.6" height="36.4" fill="url(#lg74)" />
<rect x="269.5" y="147" width="7.6" height="19" fill="url(#lg75)" />
<rect x="279.5" y="166" width="7.6" height="36.4" fill="url(#lg76)" />
<rect x="279.5" y="147" width="7.6" height="19" fill="url(#lg77)" />
<rect x="289.4" y="166" width="7.6" height="36.4" fill="url(#lg78)" />
<rect x="299" y="166" width="7.6" height="36.4" fill="url(#lg79)" />
<rect x="319.9" y="166" width="7.6" height="36.4" fill="url(#lg80)" />
<rect x="319.9" y="147" width="7.6" height="19" fill="url(#lg81)" />
<rect x="329" y="166" width="7.6" height="36.4" fill="url(#lg82)" />
<rect x="329" y="147" width="7.6" height="19" fill="url(#lg83)" />
<rect x="338.1" y="166" width="7.6" height="36.4" fill="url(#lg84)" />
<rect x="347.2" y="166" width="7.6" height="36.4" fill="url(#lg85)" />
<rect x="366.9" y="166" width="10.2" height="36.4" fill="url(#lg86)" />
<rect x="366.9" y="147" width="10.2" height="19" fill="url(#lg87)" />
<rect x="377.4" y="166" width="10.2" height="36.4" fill="url(#lg88)" />
<rect x="377.4" y="147" width="10.2" height="19" fill="url(#lg89)" />
<rect x="387.9" y="166" width="10.2" height="36.4" fill="url(#lg90)" />
<rect x="387.9" y="147" width="10.2" height="19" fill="url(#lg91)" />
<rect x="398.4" y="166" width="10.2" height="36.4" fill="url(#lg92)" />
<rect x="398.4" y="147" width="10.2" height="19" fill="url(#lg93)" />
<rect x="269.3" y="167.1" width="8" height="2.4" fill="#000" fill-opacity="0.6"/>
<rect x="269.3" y="175.2" width="8" height="2.2" fill="#000" fill-opacity="0.25"/>
<rect x="269.3" y="193" width="8" height="2" fill="#000" fill-opacity="0.2"/>
<rect x="269.5" y="180.45" width="7.6" height="1.1" fill="#000" fill-opacity="0.06"/>
<rect x="269.5" y="184.45" width="7.6" height="1.1" fill="#000" fill-opacity="0.06"/>
<rect x="269.5" y="187.95" width="7.6" height="1.1" fill="#000" fill-opacity="0.06"/>
<rect x="279.3" y="167" width="8" height="2.6" fill="#000" fill-opacity="0.9"/>
<rect x="279.3" y="175.1" width="8" height="2.4" fill="#000" fill-opacity="0.32"/>
<rect x="279.3" y="193" width="8" height="2" fill="#000" fill-opacity="0.25"/>
<rect x="279.5" y="180.45" width="7.6" height="1.1" fill="#000" fill-opacity="0.09"/>
<rect x="279.5" y="184.45" width="7.6" height="1.1" fill="#000" fill-opacity="0.09"/>
<rect x="279.5" y="187.95" width="7.6" height="1.1" fill="#000" fill-opacity="0.09"/>
<rect x="289.2" y="167.5" width="8" height="1.6" fill="#000" fill-opacity="0.3"/>
<rect x="289.2" y="175.8" width="8" height="2.4" fill="#000" fill-opacity="0.5"/>
<rect x="289.2" y="193" width="8" height="2" fill="#000" fill-opacity="0.18"/>
<rect x="289.4" y="180.45" width="7.6" height="1.1" fill="#000" fill-opacity="0.04"/>
<rect x="289.4" y="184.45" width="7.6" height="1.1" fill="#000" fill-opacity="0.04"/>
<rect x="289.4" y="187.95" width="7.6" height="1.1" fill="#000" fill-opacity="0.04"/>
<rect x="298.8" y="167.3" width="8" height="2" fill="#000" fill-opacity="0.5"/>
<rect x="298.8" y="175.2" width="8" height="2.2" fill="#000" fill-opacity="0.25"/>
<rect x="298.8" y="193" width="8" height="2" fill="#000" fill-opacity="0.25"/>
<rect x="299" y="180.45" width="7.6" height="1.1" fill="#000" fill-opacity="0.05"/>
<rect x="299" y="184.45" width="7.6" height="1.1" fill="#000" fill-opacity="0.05"/>
<rect x="299" y="187.95" width="7.6" height="1.1" fill="#000" fill-opacity="0.05"/>
<rect x="319.7" y="167.2" width="8" height="2.2" fill="#000" fill-opacity="0.45"/>
<rect x="319.7" y="192.8" width="8" height="2.4" fill="#000" fill-opacity="0.5"/>
<rect x="319.9" y="180.45" width="7.6" height="1.1" fill="#000" fill-opacity="0.1"/>
<rect x="319.9" y="184.45" width="7.6" height="1.1" fill="#000" fill-opacity="0.1"/>
<rect x="319.9" y="187.95" width="7.6" height="1.1" fill="#000" fill-opacity="0.1"/>
<rect x="328.8" y="167.2" width="8" height="2.2" fill="#000" fill-opacity="0.45"/>
<rect x="328.8" y="192.8" width="8" height="2.4" fill="#000" fill-opacity="0.5"/>
<rect x="329" y="180.45" width="7.6" height="1.1" fill="#000" fill-opacity="0.1"/>
<rect x="329" y="184.45" width="7.6" height="1.1" fill="#000" fill-opacity="0.1"/>
<rect x="329" y="187.95" width="7.6" height="1.1" fill="#000" fill-opacity="0.1"/>
<rect x="337.9" y="167.5" width="8" height="1.6" fill="#000" fill-opacity="0.28"/>
<rect x="337.9" y="192.9" width="8" height="2.2" fill="#000" fill-opacity="0.4"/>
<rect x="338.1" y="180.45" width="7.6" height="1.1" fill="#000" fill-opacity="0.04"/>
<rect x="338.1" y="184.45" width="7.6" height="1.1" fill="#000" fill-opacity="0.04"/>
<rect x="338.1" y="187.95" width="7.6" height="1.1" fill="#000" fill-opacity="0.04"/>
<rect x="347" y="167.5" width="8" height="1.6" fill="#000" fill-opacity="0.32"/>
<rect x="347" y="192.9" width="8" height="2.2" fill="#000" fill-opacity="0.45"/>
<rect x="347.2" y="180.45" width="7.6" height="1.1" fill="#000" fill-opacity="0.05"/>
<rect x="347.2" y="184.45" width="7.6" height="1.1" fill="#000" fill-opacity="0.05"/>
<rect x="347.2" y="187.95" width="7.6" height="1.1" fill="#000" fill-opacity="0.05"/>
<rect x="366.7" y="167" width="10.6" height="2.6" fill="#000" fill-opacity="0.65"/>
<rect x="366.7" y="174.9" width="10.6" height="3.2" fill="#000" fill-opacity="0.7"/>
<rect x="366.7" y="193.5" width="10.6" height="2.2" fill="#000" fill-opacity="0.5"/>
<rect x="366.9" y="180.45" width="10.2" height="1.1" fill="#000" fill-opacity="0.13"/>
<rect x="366.9" y="184.45" width="10.2" height="1.1" fill="#000" fill-opacity="0.13"/>
<rect x="366.9" y="187.95" width="10.2" height="1.1" fill="#000" fill-opacity="0.13"/>
<rect x="377.2" y="166.9" width="10.6" height="2.8" fill="#000" fill-opacity="0.85"/>
<rect x="377.2" y="174.8" width="10.6" height="3.4" fill="#000" fill-opacity="0.85"/>
<rect x="377.2" y="193.6" width="10.6" height="2.4" fill="#000" fill-opacity="0.75"/>
<rect x="377.4" y="180.45" width="10.2" height="1.1" fill="#000" fill-opacity="0.14"/>
<rect x="377.4" y="184.45" width="10.2" height="1.1" fill="#000" fill-opacity="0.14"/>
<rect x="377.4" y="187.95" width="10.2" height="1.1" fill="#000" fill-opacity="0.14"/>
<rect x="387.7" y="167.2" width="10.6" height="2.2" fill="#000" fill-opacity="0.5"/>
<rect x="387.7" y="175.1" width="10.6" height="2.8" fill="#000" fill-opacity="0.35"/>
<rect x="387.7" y="193.9" width="10.6" height="2.2" fill="#000" fill-opacity="0.65"/>
<rect x="387.9" y="180.45" width="10.2" height="1.1" fill="#000" fill-opacity="0.08"/>
<rect x="387.9" y="184.45" width="10.2" height="1.1" fill="#000" fill-opacity="0.08"/>
<rect x="387.9" y="187.95" width="10.2" height="1.1" fill="#000" fill-opacity="0.08"/>
<rect x="398.2" y="167.2" width="10.6" height="2.2" fill="#000" fill-opacity="0.5"/>
<rect x="398.2" y="175.1" width="10.6" height="2.8" fill="#000" fill-opacity="0.32"/>
<rect x="398.2" y="193.9" width="10.6" height="2.2" fill="#000" fill-opacity="0.55"/>
<rect x="398.4" y="180.45" width="10.2" height="1.1" fill="#000" fill-opacity="0.08"/>
<rect x="398.4" y="184.45" width="10.2" height="1.1" fill="#000" fill-opacity="0.08"/>
<rect x="398.4" y="187.95" width="10.2" height="1.1" fill="#000" fill-opacity="0.08"/>
</g>
</g>
<rect x="266.5" y="146.2" width="142.9" height="56.2" fill="none" stroke="#5e5e5e" stroke-width="1.0" rx="1.2"/>
<rect x="266.5" y="205" width="142.9" height="56.2" fill="#dadada" rx="1.2"/>
<g clip-path="url(#c94)">
<rect x="266" y="204" width="144" height="60" fill="url(#b4h)"/>
<rect x="371" y="204" width="60" height="66" fill="url(#b4g)" filter="url(#bl5)"/>
<g filter="url(#blS)">
<rect x="270.3" y="206" width="7.4" height="55.5" fill="url(#lg95)" />
<rect x="280.3" y="206" width="7.4" height="55.5" fill="url(#lg96)" />
<rect x="290.3" y="206" width="7.4" height="55.5" fill="url(#lg97)" />
<rect x="300.1" y="206" width="7.4" height="55.5" fill="url(#lg98)" />
<rect x="319" y="206" width="7.6" height="55.5" fill="url(#lg99)" />
<rect x="328.7" y="206" width="7.6" height="55.5" fill="url(#lg100)" />
<rect x="338.3" y="206" width="7.6" height="55.5" fill="url(#lg101)" />
<rect x="348" y="206" width="7.6" height="55.5" fill="url(#lg102)" />
<rect x="367" y="206" width="10.4" height="55.5" fill="url(#lg103)" />
<rect x="377.5" y="206" width="10.4" height="55.5" fill="url(#lg104)" />
<rect x="388" y="206" width="10.4" height="55.5" fill="url(#lg105)" />
<rect x="398.4" y="206" width="10.4" height="55.5" fill="url(#lg106)" />
<rect x="270.5" y="227.85" width="7" height="1.1" fill="#000" fill-opacity="0.14"/>
<rect x="269.2" y="252.4" width="9.6" height="2.6" fill="#000" fill-opacity="0.5"/>
<rect x="270.5" y="237.45" width="7" height="1.1" fill="#000" fill-opacity="0.07"/>
<rect x="270.5" y="240.95" width="7" height="1.1" fill="#000" fill-opacity="0.07"/>
<rect x="270.5" y="244.45" width="7" height="1.1" fill="#000" fill-opacity="0.07"/>
<rect x="270.5" y="247.95" width="7" height="1.1" fill="#000" fill-opacity="0.07"/>
<rect x="280.5" y="227.85" width="7" height="1.1" fill="#000" fill-opacity="0.14"/>
<rect x="279.2" y="252.4" width="9.6" height="2.6" fill="#000" fill-opacity="0.5"/>
<rect x="280.5" y="237.45" width="7" height="1.1" fill="#000" fill-opacity="0.07"/>
<rect x="280.5" y="240.95" width="7" height="1.1" fill="#000" fill-opacity="0.07"/>
<rect x="280.5" y="244.45" width="7" height="1.1" fill="#000" fill-opacity="0.07"/>
<rect x="280.5" y="247.95" width="7" height="1.1" fill="#000" fill-opacity="0.07"/>
<rect x="290.5" y="227.85" width="7" height="1.1" fill="#000" fill-opacity="0.14"/>
<rect x="289.2" y="252.4" width="9.6" height="2.6" fill="#000" fill-opacity="0.5"/>
<rect x="290.5" y="237.45" width="7" height="1.1" fill="#000" fill-opacity="0.07"/>
<rect x="290.5" y="240.95" width="7" height="1.1" fill="#000" fill-opacity="0.07"/>
<rect x="290.5" y="244.45" width="7" height="1.1" fill="#000" fill-opacity="0.07"/>
<rect x="290.5" y="247.95" width="7" height="1.1" fill="#000" fill-opacity="0.07"/>
<rect x="300.3" y="227.85" width="7" height="1.1" fill="#000" fill-opacity="0.14"/>
<rect x="299" y="252.4" width="9.6" height="2.6" fill="#000" fill-opacity="0.5"/>
<rect x="300.3" y="237.45" width="7" height="1.1" fill="#000" fill-opacity="0.07"/>
<rect x="300.3" y="240.95" width="7" height="1.1" fill="#000" fill-opacity="0.07"/>
<rect x="300.3" y="244.45" width="7" height="1.1" fill="#000" fill-opacity="0.07"/>
<rect x="300.3" y="247.95" width="7" height="1.1" fill="#000" fill-opacity="0.07"/>
<rect x="319" y="227.85" width="7.6" height="1.1" fill="#000" fill-opacity="0.08"/>
<rect x="318.8" y="237.7" width="8" height="2.2" fill="#000" fill-opacity="0.2"/>
<rect x="318.8" y="241.8" width="8" height="1.4" fill="#000" fill-opacity="0.12"/>
<rect x="318" y="252.2" width="9.6" height="2.8" fill="#000" fill-opacity="0.52"/>
<rect x="328.7" y="227.85" width="7.6" height="1.1" fill="#000" fill-opacity="0.08"/>
<rect x="328.5" y="237.7" width="8" height="2.2" fill="#000" fill-opacity="0.2"/>
<rect x="328.5" y="241.8" width="8" height="1.4" fill="#000" fill-opacity="0.12"/>
<rect x="327.7" y="252.2" width="9.6" height="2.8" fill="#000" fill-opacity="0.52"/>
<rect x="338.3" y="227.85" width="7.6" height="1.1" fill="#000" fill-opacity="0.08"/>
<rect x="338.1" y="237.7" width="8" height="2.2" fill="#000" fill-opacity="0.2"/>
<rect x="338.1" y="241.8" width="8" height="1.4" fill="#000" fill-opacity="0.12"/>
<rect x="337.3" y="252.2" width="9.6" height="2.8" fill="#000" fill-opacity="0.52"/>
<rect x="348" y="227.85" width="7.6" height="1.1" fill="#000" fill-opacity="0.08"/>
<rect x="347.8" y="237.7" width="8" height="2.2" fill="#000" fill-opacity="0.2"/>
<rect x="347.8" y="241.8" width="8" height="1.4" fill="#000" fill-opacity="0.12"/>
<rect x="347" y="252.2" width="9.6" height="2.8" fill="#000" fill-opacity="0.52"/>
<rect x="367" y="237.6" width="10.4" height="2.4" fill="#000" fill-opacity="0.16"/>
<rect x="367" y="242.2" width="10.4" height="1.6" fill="#000" fill-opacity="0.1"/>
<rect x="366.8" y="251.4" width="10.8" height="4" fill="#000" fill-opacity="0.56"/>
<rect x="377.5" y="237.6" width="10.4" height="2.4" fill="#000" fill-opacity="0.16"/>
<rect x="377.5" y="242.2" width="10.4" height="1.6" fill="#000" fill-opacity="0.1"/>
<rect x="377.3" y="251.4" width="10.8" height="4" fill="#000" fill-opacity="0.56"/>
<rect x="388" y="237.6" width="10.4" height="2.4" fill="#000" fill-opacity="0.16"/>
<rect x="388" y="242.2" width="10.4" height="1.6" fill="#000" fill-opacity="0.1"/>
<rect x="387.8" y="251.4" width="10.8" height="4" fill="#000" fill-opacity="0.56"/>
<rect x="398.4" y="237.6" width="10.4" height="2.4" fill="#000" fill-opacity="0.16"/>
<rect x="398.4" y="242.2" width="10.4" height="1.6" fill="#000" fill-opacity="0.1"/>
<rect x="398.2" y="251.4" width="10.8" height="4" fill="#000" fill-opacity="0.56"/>
</g>
<ellipse cx="267.6" cy="221.4" rx="1.1" ry="1.0" fill="#444" fill-opacity="0.4" filter="url(#bl3)"/>
<ellipse cx="267.6" cy="228.8" rx="1.1" ry="1.3" fill="#444" fill-opacity="0.4" filter="url(#bl3)"/>
<ellipse cx="267.6" cy="236" rx="1.1" ry="1.6" fill="#444" fill-opacity="0.4" filter="url(#bl3)"/>
<ellipse cx="267.6" cy="249.5" rx="1.1" ry="0.9" fill="#444" fill-opacity="0.4" filter="url(#bl3)"/>
<ellipse cx="267.6" cy="258.3" rx="1.1" ry="0.9" fill="#444" fill-opacity="0.4" filter="url(#bl3)"/>
</g>
<rect x="266.5" y="205" width="142.9" height="56.2" fill="none" stroke="#5e5e5e" stroke-width="1.0" rx="1.2"/>
<text x="413.8" y="58.2" font-size="7.62" >SUMO2/3 (WCE)</text>
<text x="413.8" y="113.8" font-size="7.62" >WCE</text>
<text x="413.8" y="123" font-size="7.62" >Loading control</text>
<text x="413.8" y="170.3" font-size="7.65" >SUMO2/3</text>
<text x="413.8" y="180.4" font-size="7.75" >(Insoluble pellets)</text>
<text x="413.8" y="229.3" font-size="7.75" >Insoluble pellets</text>
<text x="413.8" y="238.7" font-size="7.62" >Loading control</text>
<text x="-1" y="337.8" font-size="14.6" font-weight="bold" fill="#1a1a1a" >C</text>
<text x="95.9" y="345.4" font-size="10.35" text-anchor="middle" font-weight="bold" fill="#222" >Sample collection</text>
<text x="262.5" y="345.4" font-size="10.35" text-anchor="middle" font-weight="bold" fill="#222" >Sample pretreatment</text>
<text x="428.5" y="345.4" font-size="10.35" text-anchor="middle" font-weight="bold" fill="#222" >LC-MS/MS analysis</text>
<text x="594.5" y="345.4" font-size="10.35" text-anchor="middle" font-weight="bold" fill="#222" >DIA data processing</text>
<rect x="31" y="354.8" width="128.5" height="147.5" fill="#fff" stroke="#7e858a" stroke-width="1.5" rx="16" ry="16"/>
<rect x="197.85" y="354.8" width="128.7" height="147.5" fill="#fff" stroke="#7e858a" stroke-width="1.5" rx="16" ry="16"/>
<rect x="364.95" y="354.8" width="128" height="147.5" fill="#fff" stroke="#7e858a" stroke-width="1.5" rx="16" ry="16"/>
<rect x="531.75" y="354.8" width="128.15" height="147.5" fill="#fff" stroke="#7e858a" stroke-width="1.5" rx="16" ry="16"/>
<polygon points="169.3,421.4 169.3,443.2 188.5,432.3" fill="#d9d9d9"/>
<polygon points="335.8,421.4 335.8,443.2 355,432.3" fill="#d9d9d9"/>
<polygon points="504,421.4 504,443.2 523.2,432.3" fill="#d9d9d9"/>
<circle cx="159.4" cy="403.15" r="3.6" fill="#b6b8b9" stroke="#7e858a" stroke-width="0.9"/>
<circle cx="326.55" cy="403.15" r="3.6" fill="#b6b8b9" stroke="#7e858a" stroke-width="0.9"/>
<circle cx="197.85" cy="453.25" r="3.6" fill="#b6b8b9" stroke="#7e858a" stroke-width="0.9"/>
<circle cx="492.95" cy="403.15" r="3.6" fill="#b6b8b9" stroke="#7e858a" stroke-width="0.9"/>
<circle cx="364.95" cy="453.25" r="3.6" fill="#b6b8b9" stroke="#7e858a" stroke-width="0.9"/>
<circle cx="531.75" cy="453" r="3.6" fill="#b6b8b9" stroke="#7e858a" stroke-width="0.9"/>
<text x="61.7" y="369.7" font-size="7.75" text-anchor="middle" >U2OS</text>
<text x="92.7" y="369.7" font-size="7.75" text-anchor="middle" >HeLa</text>
<text x="130" y="369.7" font-size="7.75" text-anchor="middle" >HEK293A</text>
<ellipse cx="53.7" cy="385.1" rx="4.6" ry="2.1" fill="#a9d8f5" stroke="#7fa8c9" stroke-width="0.6"/>
<ellipse cx="45.2" cy="390" rx="4.6" ry="2.1" fill="#a9d8f5" stroke="#7fa8c9" stroke-width="0.6"/>
<ellipse cx="68.9" cy="388.5" rx="4.6" ry="2.1" fill="#a9d8f5" stroke="#7fa8c9" stroke-width="0.6"/>
<ellipse cx="58.5" cy="391.9" rx="4.6" ry="2.1" fill="#a9d8f5" stroke="#7fa8c9" stroke-width="0.6"/>
<ellipse cx="48.4" cy="394.2" rx="4.6" ry="2.1" fill="#a9d8f5" stroke="#7fa8c9" stroke-width="0.6"/>
<ellipse cx="66.1" cy="396.1" rx="4.6" ry="2.1" fill="#a9d8f5" stroke="#7fa8c9" stroke-width="0.6"/>
<ellipse cx="55.6" cy="398.3" rx="4.6" ry="2.1" fill="#a9d8f5" stroke="#7fa8c9" stroke-width="0.6"/>
<ellipse cx="90.7" cy="385.1" rx="4.6" ry="2.1" fill="#fbe3a0" stroke="#c9a55a" stroke-width="0.6"/>
<ellipse cx="82.2" cy="390" rx="4.6" ry="2.1" fill="#fbe3a0" stroke="#c9a55a" stroke-width="0.6"/>
<ellipse cx="105.9" cy="388.5" rx="4.6" ry="2.1" fill="#fbe3a0" stroke="#c9a55a" stroke-width="0.6"/>
<ellipse cx="95.5" cy="391.9" rx="4.6" ry="2.1" fill="#fbe3a0" stroke="#c9a55a" stroke-width="0.6"/>
<ellipse cx="85.4" cy="394.2" rx="4.6" ry="2.1" fill="#fbe3a0" stroke="#c9a55a" stroke-width="0.6"/>
<ellipse cx="103.1" cy="396.1" rx="4.6" ry="2.1" fill="#fbe3a0" stroke="#c9a55a" stroke-width="0.6"/>
<ellipse cx="92.6" cy="398.3" rx="4.6" ry="2.1" fill="#fbe3a0" stroke="#c9a55a" stroke-width="0.6"/>
<ellipse cx="127.7" cy="385.1" rx="4.6" ry="2.1" fill="#f58f72" stroke="#d9654c" stroke-width="0.6"/>
<ellipse cx="119.2" cy="390" rx="4.6" ry="2.1" fill="#f58f72" stroke="#d9654c" stroke-width="0.6"/>
<ellipse cx="142.9" cy="388.5" rx="4.6" ry="2.1" fill="#f58f72" stroke="#d9654c" stroke-width="0.6"/>
<ellipse cx="132.5" cy="391.9" rx="4.6" ry="2.1" fill="#f58f72" stroke="#d9654c" stroke-width="0.6"/>
<ellipse cx="122.4" cy="394.2" rx="4.6" ry="2.1" fill="#f58f72" stroke="#d9654c" stroke-width="0.6"/>
<ellipse cx="140.1" cy="396.1" rx="4.6" ry="2.1" fill="#f58f72" stroke="#d9654c" stroke-width="0.6"/>
<ellipse cx="129.6" cy="398.3" rx="4.6" ry="2.1" fill="#f58f72" stroke="#d9654c" stroke-width="0.6"/>
<line x1="75.2" y1="380.9" x2="75.2" y2="402.7" stroke="#222" stroke-width="0.7" stroke-dasharray="1.3 0.8"/>
<line x1="112" y1="380.9" x2="112" y2="402.7" stroke="#222" stroke-width="0.7" stroke-dasharray="1.3 0.8"/>
<text x="96.4" y="418.8" font-size="7.75" text-anchor="middle" >Cell culture</text>
<path d="M72.2 434.8 L72.2 458.5 L75.8 464.6 L79.4 458.5 L79.4 434.8 Z" fill="#fff" stroke="#555" stroke-width="0.7"/>
<path d="M72.6 451.3 L72.6 458.3 L75.8 464 L79 458.3 L79 451.3 Z" fill="#f9d3d3"/>
<line x1="72.2" y1="442.4" x2="75.6" y2="442.4" stroke="#444" stroke-width="0.6" />
<line x1="72.2" y1="447.1" x2="75.6" y2="447.1" stroke="#444" stroke-width="0.6" />
<line x1="72.2" y1="451.3" x2="75.6" y2="451.3" stroke="#444" stroke-width="0.6" />
<line x1="72.2" y1="456.1" x2="75.6" y2="456.1" stroke="#444" stroke-width="0.6" />
<rect x="70.8" y="428.6" width="10" height="6.2" rx="1.2" fill="#b98552" stroke="#7c5a36" stroke-width="0.6"/>
<line x1="70.8" y1="430.7" x2="80.8" y2="430.7" stroke="#7c5a36" stroke-width="0.5" />
<line x1="70.8" y1="432.7" x2="80.8" y2="432.7" stroke="#7c5a36" stroke-width="0.5" />
<path d="M109.2 434.8 L109.2 458.5 L112.8 464.6 L116.4 458.5 L116.4 434.8 Z" fill="#fff" stroke="#555" stroke-width="0.7"/>
<path d="M109.6 451.3 L109.6 458.3 L112.8 464 L116 458.3 L116 451.3 Z" fill="#f9d3d3"/>
<line x1="109.2" y1="442.4" x2="112.6" y2="442.4" stroke="#444" stroke-width="0.6" />
<line x1="109.2" y1="447.1" x2="112.6" y2="447.1" stroke="#444" stroke-width="0.6" />
<line x1="109.2" y1="451.3" x2="112.6" y2="451.3" stroke="#444" stroke-width="0.6" />
<line x1="109.2" y1="456.1" x2="112.6" y2="456.1" stroke="#444" stroke-width="0.6" />
<rect x="107.8" y="428.6" width="10" height="6.2" rx="1.2" fill="#4f82b8" stroke="#2f5a8c" stroke-width="0.6"/>
<line x1="107.8" y1="430.7" x2="117.8" y2="430.7" stroke="#2f5a8c" stroke-width="0.5" />
<line x1="107.8" y1="432.7" x2="117.8" y2="432.7" stroke="#2f5a8c" stroke-width="0.5" />
<text x="50.3" y="443.4" font-size="7.75" text-anchor="middle" >PBS</text>
<text x="50.3" y="454.2" font-size="7.75" text-anchor="middle" >wash</text>
<text x="135.7" y="438.6" font-size="7.75" text-anchor="middle" >0.2%</text>
<text x="135.7" y="448.5" font-size="7.75" text-anchor="middle" >Triton/</text>
<text x="135.7" y="458.1" font-size="7.75" text-anchor="middle" >PBS</text>
<text x="58.9" y="480.6" font-size="7.75" text-anchor="middle" >Whole</text>
<text x="58.9" y="490.6" font-size="7.75" text-anchor="middle" >cell lysates</text>
<text x="119.3" y="480.6" font-size="7.75" text-anchor="middle" >Insoluble pellets</text>
<text x="119.3" y="490.6" font-size="7.75" text-anchor="middle" >including chromatin</text>
<text x="228.3" y="369.7" font-size="7.75" text-anchor="middle" >U2OS</text>
<text x="259" y="369.7" font-size="7.75" text-anchor="middle" >HeLa</text>
<text x="296.6" y="369.7" font-size="7.75" text-anchor="middle" >HEK293A</text>
<path d="M233.4 378.4 L233.4 387.8 L237 400.3 L240.6 387.8 L240.6 378.4 Z" fill="#fff" stroke="#555" stroke-width="0.7"/>
<path d="M233.7 388.4 L237 399.5 L240.3 388.4 Z" fill="#8faadc"/>
<ellipse cx="237" cy="378.2" rx="4.7" ry="1.1" fill="#fff" stroke="#555" stroke-width="0.7"/>
<line x1="237.8" y1="381.6" x2="240.4" y2="381.6" stroke="#555" stroke-width="0.55" />
<line x1="237.8" y1="383.8" x2="240.4" y2="383.8" stroke="#555" stroke-width="0.55" />
<line x1="237.8" y1="386" x2="240.4" y2="386" stroke="#555" stroke-width="0.55" />
<path d="M224.2 392.6 L224.2 402 L227.8 414.5 L231.4 402 L231.4 392.6 Z" fill="#fff" stroke="#555" stroke-width="0.7"/>
<path d="M224.5 402.6 L227.8 413.7 L231.1 402.6 Z" fill="#8faadc"/>
<ellipse cx="227.8" cy="392.4" rx="4.7" ry="1.1" fill="#fff" stroke="#555" stroke-width="0.7"/>
<line x1="228.6" y1="395.8" x2="231.2" y2="395.8" stroke="#555" stroke-width="0.55" />
<line x1="228.6" y1="398" x2="231.2" y2="398" stroke="#555" stroke-width="0.55" />
<line x1="228.6" y1="400.2" x2="231.2" y2="400.2" stroke="#555" stroke-width="0.55" />
<path d="M263.4 378.4 L263.4 387.8 L267 400.3 L270.6 387.8 L270.6 378.4 Z" fill="#fff" stroke="#555" stroke-width="0.7"/>
<path d="M263.7 388.4 L267 399.5 L270.3 388.4 Z" fill="#fbe4a0"/>
<ellipse cx="267" cy="378.2" rx="4.7" ry="1.1" fill="#fff" stroke="#555" stroke-width="0.7"/>
<line x1="267.8" y1="381.6" x2="270.4" y2="381.6" stroke="#555" stroke-width="0.55" />
<line x1="267.8" y1="383.8" x2="270.4" y2="383.8" stroke="#555" stroke-width="0.55" />
<line x1="267.8" y1="386" x2="270.4" y2="386" stroke="#555" stroke-width="0.55" />
<path d="M254 392.6 L254 402 L257.6 414.5 L261.2 402 L261.2 392.6 Z" fill="#fff" stroke="#555" stroke-width="0.7"/>
<path d="M254.3 402.6 L257.6 413.7 L260.9 402.6 Z" fill="#fbe4a0"/>
<ellipse cx="257.6" cy="392.4" rx="4.7" ry="1.1" fill="#fff" stroke="#555" stroke-width="0.7"/>
<line x1="258.4" y1="395.8" x2="261" y2="395.8" stroke="#555" stroke-width="0.55" />
<line x1="258.4" y1="398" x2="261" y2="398" stroke="#555" stroke-width="0.55" />
<line x1="258.4" y1="400.2" x2="261" y2="400.2" stroke="#555" stroke-width="0.55" />
<path d="M293.2 378.4 L293.2 387.8 L296.8 400.3 L300.4 387.8 L300.4 378.4 Z" fill="#fff" stroke="#555" stroke-width="0.7"/>
<path d="M293.5 388.4 L296.8 399.5 L300.1 388.4 Z" fill="#b56d5a"/>
<ellipse cx="296.8" cy="378.2" rx="4.7" ry="1.1" fill="#fff" stroke="#555" stroke-width="0.7"/>
<line x1="297.6" y1="381.6" x2="300.2" y2="381.6" stroke="#555" stroke-width="0.55" />
<line x1="297.6" y1="383.8" x2="300.2" y2="383.8" stroke="#555" stroke-width="0.55" />
<line x1="297.6" y1="386" x2="300.2" y2="386" stroke="#555" stroke-width="0.55" />
<path d="M283.8 392.6 L283.8 402 L287.4 414.5 L291 402 L291 392.6 Z" fill="#fff" stroke="#555" stroke-width="0.7"/>
<path d="M284.1 402.6 L287.4 413.7 L290.7 402.6 Z" fill="#b56d5a"/>
<ellipse cx="287.4" cy="392.4" rx="4.7" ry="1.1" fill="#fff" stroke="#555" stroke-width="0.7"/>
<line x1="288.2" y1="395.8" x2="290.8" y2="395.8" stroke="#555" stroke-width="0.55" />
<line x1="288.2" y1="398" x2="290.8" y2="398" stroke="#555" stroke-width="0.55" />
<line x1="288.2" y1="400.2" x2="290.8" y2="400.2" stroke="#555" stroke-width="0.55" />
<text x="262" y="430.6" font-size="7.75" text-anchor="middle" >Protein extraction</text>
<circle cx="230" cy="448.7" r="3.4" fill="#fde79a"/>
<circle cx="239.3" cy="448.7" r="3.4" fill="#f6a58e"/>
<circle cx="223.3" cy="457.2" r="3.4" fill="#b6d99c"/>
<circle cx="231.9" cy="460.1" r="3.4" fill="#9fb3d7"/>
<circle cx="241.2" cy="460.1" r="3.4" fill="#9fb3d7"/>
<circle cx="214.8" cy="463.5" r="3.4" fill="#f6a58e"/>
<circle cx="224.1" cy="473" r="3.4" fill="#9fb3d7"/>
<circle cx="233.4" cy="473" r="3.4" fill="#c58b79"/>
<line x1="252.2" y1="462.5" x2="273.5" y2="462.5" stroke="#111" stroke-width="1.0" />
<polygon points="272.3,459.7 278.4,462.5 272.3,465.3" fill="#111"/>
<path d="M292 448.6 Q287.6 449.8 287.6 454.2" fill="none" stroke="#e0202a" stroke-width="1.25" stroke-linecap="round"/>
<path d="M294.6 448.2 Q297.9 449.3 297.6 453.2" fill="none" stroke="#3dae3a" stroke-width="1.25" stroke-linecap="round"/>
<path d="M304 447.3 Q308 448.4 308 452.2" fill="none" stroke="#1f72b8" stroke-width="1.25" stroke-linecap="round"/>
<path d="M291 454 Q294.8 455 295 458.7" fill="none" stroke="#f4d820" stroke-width="1.25" stroke-linecap="round"/>
<path d="M301.4 453.8 Q305.3 454.3 305.3 457.9" fill="none" stroke="#ee4d7a" stroke-width="1.25" stroke-linecap="round"/>
<path d="M296.6 458.9 Q300 455.6 303.4 459.8" fill="none" stroke="#3dae3a" stroke-width="1.25" stroke-linecap="round"/>
<path d="M309 455.8 Q313.4 457.6 311.9 461.8" fill="none" stroke="#f2a91e" stroke-width="1.25" stroke-linecap="round"/>
<path d="M290.3 461.4 Q286.8 464.8 290.8 467.4" fill="none" stroke="#1f72b8" stroke-width="1.25" stroke-linecap="round"/>
<path d="M295.6 462.5 Q300 463 299.6 467.4" fill="none" stroke="#a9b4dc" stroke-width="1.25" stroke-linecap="round"/>
<path d="M306.2 461.4 Q310.8 463.6 308.8 467.4" fill="none" stroke="#3dae3a" stroke-width="1.25" stroke-linecap="round"/>
<path d="M293 467.3 Q292.8 471.6 296.9 473.1" fill="none" stroke="#7d1f1a" stroke-width="1.25" stroke-linecap="round"/>
<path d="M299.6 470 Q301.8 474.8 306.3 473.6" fill="none" stroke="#3dae3a" stroke-width="1.25" stroke-linecap="round"/>
<path d="M304.6 468.6 Q307.8 468.6 308.4 465.6" fill="none" stroke="#3dae3a" stroke-width="1.25" stroke-linecap="round"/>
<text x="263" y="491.9" font-size="7.75" text-anchor="middle" >Protein digestion</text>
<path d="M376.1 372.1 L410.3 372.1 L419.2 376 L419.2 378.6 L410.3 382.5 L376.1 382.5 Z" fill="#e9eef9" stroke="#7f98d6" stroke-width="0.8"/>
<circle cx="378" cy="379.6" r="0.75" fill="#d8252b"/>
<circle cx="381.2" cy="375.2" r="0.75" fill="#333"/>
<circle cx="383.4" cy="377.6" r="0.75" fill="#d8252b"/>
<circle cx="387.6" cy="376" r="0.75" fill="#d8252b"/>
<circle cx="389.6" cy="379.8" r="0.75" fill="#333"/>
<circle cx="392" cy="376" r="0.75" fill="#2a7cc0"/>
<circle cx="396" cy="380" r="0.75" fill="#333"/>
<circle cx="398.4" cy="374.6" r="0.75" fill="#2a7cc0"/>
<circle cx="400" cy="377.4" r="0.75" fill="#2a7cc0"/>
<circle cx="402" cy="379.2" r="0.75" fill="#2a7cc0"/>
<circle cx="404" cy="375" r="0.75" fill="#d8252b"/>
<circle cx="404.6" cy="379.4" r="0.75" fill="#333"/>
<circle cx="407.6" cy="378.6" r="0.75" fill="#333"/>
<circle cx="409.6" cy="375.8" r="0.75" fill="#d8252b"/>
<circle cx="414.6" cy="378.2" r="0.75" fill="#2a7cc0"/>
<circle cx="421.2" cy="375.6" r="0.85" fill="#333"/>
<circle cx="422.4" cy="378.8" r="0.85" fill="#333"/>
<circle cx="424.4" cy="374.2" r="0.85" fill="#333"/>
<circle cx="425.6" cy="376.6" r="0.85" fill="#d8252b"/>
<circle cx="424.4" cy="380.6" r="0.85" fill="#2a7cc0"/>
<circle cx="426.4" cy="371" r="0.85" fill="#d8252b"/>
<circle cx="428.6" cy="373.4" r="0.85" fill="#333"/>
<circle cx="429.8" cy="376" r="0.85" fill="#333"/>
<circle cx="427.6" cy="383.6" r="0.85" fill="#2a7cc0"/>
<circle cx="430.8" cy="385.2" r="0.85" fill="#d8252b"/>
<circle cx="431" cy="367.6" r="0.85" fill="#d8252b"/>
<circle cx="431.4" cy="371.4" r="0.85" fill="#d8252b"/>
<circle cx="433.4" cy="375.2" r="0.85" fill="#2a7cc0"/>
<circle cx="432.4" cy="378.6" r="0.85" fill="#d8252b"/>
<circle cx="434.2" cy="380.4" r="0.85" fill="#333"/>
<circle cx="433.4" cy="375.8" r="0.85" fill="#2a7cc0"/>
<circle cx="431.4" cy="383.4" r="0.85" fill="#d8252b"/>
<circle cx="436.8" cy="363.6" r="0.85" fill="#d8252b"/>
<circle cx="436.8" cy="369.4" r="0.85" fill="#d8252b"/>
<circle cx="436.8" cy="374.4" r="0.85" fill="#2a7cc0"/>
<circle cx="436.8" cy="381.4" r="0.85" fill="#d8252b"/>
<circle cx="436.8" cy="388.2" r="0.85" fill="#d8252b"/>
<circle cx="429.6" cy="379.6" r="0.85" fill="#333"/>
<text x="376.1" y="400.9" font-size="7.75" >LC</text>
<text x="466.3" y="400.9" font-size="7.75" >MS</text>
<g filter="url(#ib)"><rect x="420.8" y="405.3" width="8.8" height="38.5" fill="#c3c7cc" /><rect x="422" y="407" width="6" height="34" fill="#aab0b8" /><rect x="421.2" y="409" width="7.6" height="0.6" fill="#7c848e" /><rect x="421.2" y="413" width="7.6" height="0.6" fill="#7c848e" /><rect x="421.2" y="417" width="7.6" height="0.6" fill="#7c848e" /><rect x="421.2" y="421" width="7.6" height="0.6" fill="#7c848e" /><rect x="421.2" y="425" width="7.6" height="0.6" fill="#7c848e" /><rect x="421.2" y="429" width="7.6" height="0.6" fill="#7c848e" /><rect x="421.2" y="433" width="7.6" height="0.6" fill="#7c848e" /><rect x="413.8" y="408.8" width="7.2" height="31.6" fill="#d9dde4" /><rect x="419.4" y="409.5" width="1.6" height="31" fill="#3c63ad" /><rect x="413.8" y="414" width="5.6" height="0.5" fill="#a8aeb8" /><rect x="413.8" y="419" width="5.6" height="0.5" fill="#a8aeb8" /><rect x="413.8" y="424" width="5.6" height="0.5" fill="#a8aeb8" /><rect x="413.8" y="429" width="5.6" height="0.5" fill="#a8aeb8" /><rect x="413.8" y="434" width="5.6" height="0.5" fill="#a8aeb8" /><rect x="401.8" y="400.6" width="4.4" height="5.8" fill="#e3e8f0" /><rect x="402" y="400.2" width="4" height="1.5" fill="#3a5cc0" /><rect x="407.8" y="400.4" width="4.4" height="6" fill="#dfe7f2" /><rect x="408" y="400" width="4" height="1.5" fill="#4f9be0" /><rect x="413.4" y="402.6" width="3.4" height="5.6" fill="#e6e6e6" /><rect x="413.6" y="402.2" width="3" height="1.3" fill="#d08a3a" /><rect x="415.4" y="402.2" width="1.4" height="1.3" fill="#3a5cc0" /><rect x="395.2" y="413.6" width="18.8" height="27.2" fill="#14151a" /><rect x="396.4" y="440" width="16.4" height="3.6" fill="#22242a" /><rect x="398" y="406.2" width="15" height="8.2" fill="#101216" /><rect x="398.9" y="407.1" width="13.2" height="6.2" fill="#2b78b4" /><rect x="401.5" y="408.8" width="5" height="1.2" fill="#6fc0ea" /><rect x="399" y="418" width="10" height="10" fill="#2a2d35" /><path d="M400 427 L404 420 L408 427 Z" fill="#55596a"/><rect x="396" y="430.5" width="17" height="0.5" fill="#2f6f45" /><rect x="428.7" y="405.4" width="31.6" height="38.2" fill="#3a4960" /><rect x="428.7" y="405.2" width="31.6" height="2.2" fill="#8e97a6" /><rect x="428.7" y="405.2" width="31.6" height="0.8" fill="#bcc2cc" /><rect x="430.6" y="408.2" width="22.6" height="1" fill="#c1372f" fill-opacity="0.7"/><rect x="434.6" y="411.8" width="16.2" height="23.6" fill="#1a2333" /><rect x="440.2" y="414" width="7.6" height="21.4" fill="#e3e3e3" /><rect x="441.4" y="417" width="5" height="6" fill="#9a9a9a" /><rect x="442.4" y="424" width="3" height="9" fill="#c4c4c4" /><rect x="443.6" y="412.4" width="1.2" height="3" fill="#bbb" /><rect x="436.4" y="417.4" width="0.7" height="16" fill="#9aa0aa" /><rect x="436.4" y="417.4" width="4" height="0.7" fill="#9aa0aa" /><rect x="451.2" y="409" width="9" height="32" fill="#2e3a4f" /><rect x="451.8" y="417.3" width="7" height="0.9" fill="#c8b23a" /><rect x="429.2" y="441.4" width="30.8" height="2.2" fill="#1d2430" /><rect x="433" y="441.8" width="4" height="1.2" fill="#475266" /><rect x="439" y="441.8" width="4" height="1.2" fill="#475266" /><rect x="445" y="441.8" width="4" height="1.2" fill="#475266" /><rect x="451" y="441.8" width="4" height="1.2" fill="#475266" /><path d="M434 437 Q440 441 447 436" fill="none" stroke="#a33" stroke-width="0.4"/><rect x="394.2" y="443.6" width="33.8" height="1.8" fill="#55575c" /><rect x="395.8" y="445.2" width="32" height="27.8" fill="#e9e8e2" /><rect x="427.8" y="445.2" width="1.8" height="27.8" fill="#c9c8c0" /><rect x="395.8" y="451.8" width="32" height="0.6" fill="#c6c5bc" /><rect x="395.8" y="458.4" width="32" height="0.6" fill="#c6c5bc" /><rect x="395.8" y="465.1" width="32" height="0.6" fill="#c6c5bc" /><rect x="408.4" y="448.2" width="8.6" height="1.3" fill="#b9bca6" /><rect x="417.6" y="448.4" width="0.9" height="0.9" fill="#333" /><rect x="408.4" y="454.8" width="8.6" height="1.3" fill="#b9bca6" /><rect x="417.6" y="455" width="0.9" height="0.9" fill="#333" /><rect x="408.4" y="461.4" width="8.6" height="1.3" fill="#b9bca6" /><rect x="417.6" y="461.6" width="0.9" height="0.9" fill="#333" /><rect x="408.4" y="468.2" width="8.6" height="1.3" fill="#b9bca6" /><rect x="417.6" y="468.4" width="0.9" height="0.9" fill="#333" /><rect x="400.5" y="473" width="2.4" height="1.3" fill="#333" /><rect x="423" y="473" width="2.4" height="1.3" fill="#333" /><path d="M429.6 443.6 L466 443.6 L467.4 455.4 L429.6 455.4 Z" fill="#f3f3f3"/><rect x="429.6" y="455.3" width="37.8" height="1.2" fill="#5a5a5a" /><rect x="429.8" y="456.5" width="35.8" height="34" fill="#e9e8e2" /><rect x="465.6" y="456.5" width="1.4" height="34" fill="#d0cfc8" /><rect x="429.6" y="456.5" width="0.9" height="34" fill="#d0cfc8" /><rect x="429.8" y="464.2" width="35.8" height="0.6" fill="#c6c5bc" /><rect x="429.8" y="472" width="35.8" height="0.6" fill="#c6c5bc" /><rect x="429.8" y="480.6" width="35.8" height="0.6" fill="#c6c5bc" /><rect x="444.2" y="459.6" width="9" height="1.4" fill="#b9bca6" /><rect x="454.4" y="459.8" width="1" height="1" fill="#333" /><rect x="444.2" y="467.6" width="9" height="1.4" fill="#b9bca6" /><rect x="454.4" y="467.8" width="1" height="1" fill="#333" /><rect x="444.2" y="475.6" width="9" height="1.4" fill="#b9bca6" /><rect x="454.4" y="475.8" width="1" height="1" fill="#333" /><rect x="444.2" y="484.2" width="9" height="1.4" fill="#b9bca6" /><rect x="454.4" y="484.4" width="1" height="1" fill="#333" /><rect x="436.5" y="490.5" width="2.6" height="2.2" fill="#333" /><rect x="459" y="490.5" width="2.6" height="2.2" fill="#333" /></g>
<path d="M540.5 405.2 L540.5 404.68 L540.9 404.35 L541.3 403.87 L541.7 403.24 L542.1 402.47 L542.5 401.6 L542.9 400.71 L543.3 399.9 L543.7 399.28 L544.1 398.94 L544.5 398.94 L544.9 399.28 L545.3 399.9 L545.7 400.71 L546.1 401.6 L546.5 402.47 L546.9 403.24 L547.3 403.87 L547.7 404.35 L548.1 404.53 L548.5 404.09 L548.9 403.47 L549.3 402.65 L549.7 401.65 L550.1 400.52 L550.5 399.36 L550.9 398.3 L551.3 397.5 L551.7 397.06 L552.1 397.06 L552.5 397.5 L552.9 398.3 L553.3 399.36 L553.7 400.52 L554.1 401.65 L554.5 402.65 L554.9 403.47 L555.3 404.09 L555.7 404.48 L556.1 403.91 L556.5 403.02 L556.9 401.71 L557.3 399.92 L557.7 397.63 L558.1 394.94 L558.5 392.04 L558.9 389.22 L559.3 386.85 L559.7 385.26 L560.1 384.7 L560.5 385.26 L560.9 386.85 L561.3 389.22 L561.7 392.04 L562.1 394.94 L562.5 397.63 L562.9 399.92 L563.3 401.71 L563.7 403.02 L564.1 402.3 L564.5 400.42 L564.9 397.8 L565.3 394.44 L565.7 390.49 L566.1 386.31 L566.5 382.41 L566.9 379.38 L567.3 377.72 L567.7 377.72 L568.1 379.38 L568.5 382.41 L568.9 386.31 L569.3 390.49 L569.7 394.44 L570.1 397.8 L570.5 400.42 L570.9 402.3 L571.3 403.55 L571.7 404.18 L572.1 403.58 L572.5 402.73 L572.9 401.62 L573.3 400.27 L573.7 398.73 L574.1 397.12 L574.5 395.59 L574.9 394.33 L575.3 393.49 L575.7 393.2 L576.1 393.49 L576.5 394.33 L576.9 395.59 L577.3 397.12 L577.7 398.73 L578.1 400.27 L578.5 401.62 L578.9 402.73 L579.3 403.58 L579.7 404.18 L580.1 403.85 L580.5 403.4 L580.9 402.99 L581.3 402.7 L581.7 402.6 L582.1 402.7 L582.5 402.99 L582.9 403.4 L583.3 403.85 L583.7 404.26 L584 405.2 Z" fill="#8e8e8e" stroke="#4d4d4d" stroke-width="0.6" stroke-linejoin="round"/>
<line x1="539.6" y1="371" x2="539.6" y2="405.2" stroke="#111" stroke-width="0.9" />
<line x1="539.15" y1="405.2" x2="584.2" y2="405.2" stroke="#111" stroke-width="0.9" />
<polygon points="539.6,368 537.5,373.2 541.7,373.2" fill="#111"/>
<line x1="608.5" y1="371" x2="608.5" y2="405.2" stroke="#111" stroke-width="0.9" />
<line x1="608.05" y1="405.2" x2="652.9" y2="405.2" stroke="#111" stroke-width="0.9" />
<polygon points="608.5,368 606.4,373.2 610.6,373.2" fill="#111"/>
<line x1="582.3" y1="382.4" x2="598" y2="382.4" stroke="#111" stroke-width="0.9" />
<polygon points="597,380 602,382.4 597,384.8" fill="#111"/>
<rect x="615" y="394.2" width="1.8" height="11" fill="#7fa5d8" />
<rect x="622.6" y="380.9" width="1.8" height="24.3" fill="#6f2f9f" />
<rect x="630.2" y="397" width="1.8" height="8.2" fill="#b3cba4" />
<rect x="638" y="372.7" width="1.8" height="32.5" fill="#c9281e" />
<rect x="642.1" y="399.9" width="1.8" height="5.3" fill="#6b4766" />
<text x="561" y="413.5" font-size="7.75" text-anchor="middle" >LC-MS</text>
<text x="630.7" y="413.5" font-size="7.75" text-anchor="middle" >MS2</text>
<line x1="592.7" y1="415" x2="592.7" y2="429.5" stroke="#111" stroke-width="0.9" />
<polygon points="590.3,428.4 592.7,433.3 595.1,428.4" fill="#111"/>
<text x="598.3" y="443" font-size="7.75" text-anchor="middle" >Downstream Analysis</text>
<line x1="548.7" y1="448.1" x2="548.7" y2="484.2" stroke="#555" stroke-width="0.5" />
<line x1="548.7" y1="484.2" x2="593.1" y2="484.2" stroke="#555" stroke-width="0.5" />
<line x1="547.5" y1="448.4" x2="548.7" y2="448.4" stroke="#555" stroke-width="0.4" />
<line x1="547.5" y1="460.3" x2="548.7" y2="460.3" stroke="#555" stroke-width="0.4" />
<line x1="547.5" y1="472.2" x2="548.7" y2="472.2" stroke="#555" stroke-width="0.4" />
<line x1="547.5" y1="484.2" x2="548.7" y2="484.2" stroke="#555" stroke-width="0.4" />
<line x1="548.7" y1="484.2" x2="548.7" y2="485.4" stroke="#555" stroke-width="0.4" />
<line x1="559.8" y1="484.2" x2="559.8" y2="485.4" stroke="#555" stroke-width="0.4" />
<line x1="570.9" y1="484.2" x2="570.9" y2="485.4" stroke="#555" stroke-width="0.4" />
<line x1="582" y1="484.2" x2="582" y2="485.4" stroke="#555" stroke-width="0.4" />
<line x1="593.1" y1="484.2" x2="593.1" y2="485.4" stroke="#555" stroke-width="0.4" />
<g fill="#8a8a8a"><circle cx="575.53" cy="475.96" r="0.45"/><circle cx="570.02" cy="475.16" r="0.45"/><circle cx="570.87" cy="481.38" r="0.45"/><circle cx="571.44" cy="480.25" r="0.45"/><circle cx="569.74" cy="481.73" r="0.45"/><circle cx="560.69" cy="467.93" r="0.45"/><circle cx="582.42" cy="463.3" r="0.45"/><circle cx="568.85" cy="479.05" r="0.45"/><circle cx="572.9" cy="477.97" r="0.45"/><circle cx="574.81" cy="478.71" r="0.45"/><circle cx="574.52" cy="475.68" r="0.45"/><circle cx="571.75" cy="478" r="0.45"/><circle cx="572.34" cy="476.59" r="0.45"/><circle cx="571.84" cy="476.32" r="0.45"/><circle cx="569.1" cy="481.76" r="0.45"/><circle cx="568.78" cy="464.86" r="0.45"/><circle cx="580.44" cy="477.72" r="0.45"/><circle cx="575.32" cy="470.09" r="0.45"/><circle cx="570.95" cy="481.32" r="0.45"/><circle cx="567.95" cy="482.87" r="0.45"/><circle cx="575.69" cy="478.29" r="0.45"/><circle cx="568.67" cy="474.81" r="0.45"/><circle cx="569.19" cy="473.87" r="0.45"/><circle cx="573.96" cy="470.29" r="0.45"/><circle cx="571.9" cy="466.37" r="0.45"/><circle cx="570.48" cy="483.01" r="0.45"/><circle cx="572.01" cy="481.67" r="0.45"/><circle cx="569.78" cy="483.43" r="0.45"/><circle cx="578.05" cy="469.1" r="0.45"/><circle cx="572.78" cy="472.61" r="0.45"/><circle cx="563.8" cy="476" r="0.45"/><circle cx="572.74" cy="476.28" r="0.45"/><circle cx="570.41" cy="478.76" r="0.45"/><circle cx="572.48" cy="483.22" r="0.45"/><circle cx="569.44" cy="477.72" r="0.45"/><circle cx="572.73" cy="476.04" r="0.45"/><circle cx="568.52" cy="470.08" r="0.45"/><circle cx="566.32" cy="473.45" r="0.45"/><circle cx="565.56" cy="470.65" r="0.45"/><circle cx="568.35" cy="481.19" r="0.45"/><circle cx="574.83" cy="473.28" r="0.45"/><circle cx="571.86" cy="478.07" r="0.45"/><circle cx="571.57" cy="482.33" r="0.45"/><circle cx="571.88" cy="481.45" r="0.45"/><circle cx="573.04" cy="464.9" r="0.45"/><circle cx="572.76" cy="479.69" r="0.45"/><circle cx="571.97" cy="480.8" r="0.45"/><circle cx="572.18" cy="473.37" r="0.45"/><circle cx="572.91" cy="477.03" r="0.45"/><circle cx="569.52" cy="481.32" r="0.45"/><circle cx="569.17" cy="472.9" r="0.45"/><circle cx="570.74" cy="481.86" r="0.45"/><circle cx="569.15" cy="465.22" r="0.45"/><circle cx="572.95" cy="483.37" r="0.45"/><circle cx="567.98" cy="482.39" r="0.45"/><circle cx="572.63" cy="480.76" r="0.45"/><circle cx="569.71" cy="465.49" r="0.45"/><circle cx="565.59" cy="477.51" r="0.45"/><circle cx="571.97" cy="475.15" r="0.45"/><circle cx="572.67" cy="482.65" r="0.45"/><circle cx="569.61" cy="474.04" r="0.45"/><circle cx="569.47" cy="460.41" r="0.45"/><circle cx="572.52" cy="482.74" r="0.45"/><circle cx="574.79" cy="480.24" r="0.45"/><circle cx="567.62" cy="478.16" r="0.45"/><circle cx="569.98" cy="482.77" r="0.45"/><circle cx="565.88" cy="470.01" r="0.45"/><circle cx="571.19" cy="478.1" r="0.45"/><circle cx="577.19" cy="475.54" r="0.45"/><circle cx="573.26" cy="476.36" r="0.45"/><circle cx="569.56" cy="483.09" r="0.45"/><circle cx="579.5" cy="472.01" r="0.45"/><circle cx="577.73" cy="473.21" r="0.45"/><circle cx="568.44" cy="479.14" r="0.45"/><circle cx="571.18" cy="482.91" r="0.45"/><circle cx="567.3" cy="477.15" r="0.45"/><circle cx="576" cy="466.39" r="0.45"/><circle cx="572.69" cy="482.25" r="0.45"/><circle cx="573.79" cy="483.25" r="0.45"/><circle cx="571.69" cy="479.6" r="0.45"/><circle cx="574.01" cy="477.62" r="0.45"/><circle cx="568.56" cy="475.82" r="0.45"/><circle cx="569.34" cy="472.3" r="0.45"/><circle cx="571.68" cy="478.38" r="0.45"/><circle cx="569.48" cy="482.22" r="0.45"/><circle cx="567.81" cy="482.12" r="0.45"/><circle cx="568.68" cy="471.98" r="0.45"/><circle cx="569.89" cy="477.33" r="0.45"/><circle cx="568.1" cy="482.42" r="0.45"/><circle cx="565.8" cy="482.68" r="0.45"/><circle cx="567.77" cy="475.43" r="0.45"/><circle cx="567.94" cy="480.33" r="0.45"/><circle cx="573.32" cy="461.58" r="0.45"/><circle cx="561.06" cy="467.81" r="0.45"/><circle cx="564.7" cy="462.81" r="0.45"/><circle cx="571.97" cy="480.85" r="0.45"/><circle cx="572.05" cy="477.67" r="0.45"/><circle cx="564.88" cy="475.94" r="0.45"/><circle cx="576.2" cy="475.48" r="0.45"/><circle cx="578.9" cy="471.75" r="0.45"/><circle cx="578.34" cy="479.55" r="0.45"/><circle cx="573.05" cy="455.3" r="0.45"/><circle cx="573.86" cy="478.67" r="0.45"/><circle cx="572.47" cy="480.67" r="0.45"/><circle cx="570.49" cy="483.67" r="0.45"/><circle cx="571.07" cy="482.31" r="0.45"/><circle cx="567.58" cy="475.9" r="0.45"/><circle cx="569.91" cy="467.33" r="0.45"/><circle cx="572.54" cy="478.1" r="0.45"/><circle cx="569.08" cy="482.63" r="0.45"/><circle cx="577.55" cy="465.53" r="0.45"/><circle cx="572.08" cy="483.71" r="0.45"/><circle cx="567.44" cy="470.68" r="0.45"/><circle cx="573.74" cy="470.43" r="0.45"/><circle cx="577.99" cy="463.86" r="0.45"/><circle cx="569.99" cy="482.73" r="0.45"/><circle cx="575.88" cy="466.7" r="0.45"/><circle cx="574.7" cy="477.59" r="0.45"/><circle cx="572.02" cy="483.44" r="0.45"/><circle cx="571.9" cy="483.67" r="0.45"/><circle cx="571.62" cy="477.94" r="0.45"/><circle cx="576.15" cy="478.57" r="0.45"/><circle cx="570.9" cy="478.05" r="0.45"/><circle cx="571.22" cy="476.83" r="0.45"/><circle cx="568" cy="482.72" r="0.45"/><circle cx="573.58" cy="462.09" r="0.45"/><circle cx="567.99" cy="479.76" r="0.45"/><circle cx="568.18" cy="479.19" r="0.45"/><circle cx="559.15" cy="473.7" r="0.45"/><circle cx="565.77" cy="476.64" r="0.45"/><circle cx="572.85" cy="476.75" r="0.45"/><circle cx="571.62" cy="481.51" r="0.45"/><circle cx="572.12" cy="483.8" r="0.45"/><circle cx="563.25" cy="473.58" r="0.45"/><circle cx="572.61" cy="482.59" r="0.45"/><circle cx="571.39" cy="478.62" r="0.45"/><circle cx="577.23" cy="481.98" r="0.45"/><circle cx="570.11" cy="477.2" r="0.45"/><circle cx="573.33" cy="480.74" r="0.45"/><circle cx="573.9" cy="476.07" r="0.45"/><circle cx="574.08" cy="480.59" r="0.45"/><circle cx="571.8" cy="483.63" r="0.45"/><circle cx="571.04" cy="482.04" r="0.45"/><circle cx="573.97" cy="482.64" r="0.45"/><circle cx="567.96" cy="483.95" r="0.45"/><circle cx="568.41" cy="477.16" r="0.45"/><circle cx="570.72" cy="478.62" r="0.45"/><circle cx="570.33" cy="482.23" r="0.45"/><circle cx="566.94" cy="473.61" r="0.45"/><circle cx="569.65" cy="482.02" r="0.45"/><circle cx="569.07" cy="465.97" r="0.45"/><circle cx="564.34" cy="466.66" r="0.45"/><circle cx="569.16" cy="481.61" r="0.45"/><circle cx="573.32" cy="477.98" r="0.45"/><circle cx="567.06" cy="477.76" r="0.45"/><circle cx="566.14" cy="473.93" r="0.45"/><circle cx="569.63" cy="467.02" r="0.45"/><circle cx="569.21" cy="470.4" r="0.45"/><circle cx="569.27" cy="483.4" r="0.45"/><circle cx="574.7" cy="482.5" r="0.45"/><circle cx="564.38" cy="482.35" r="0.45"/><circle cx="573.92" cy="475.97" r="0.45"/><circle cx="567.68" cy="482.6" r="0.45"/><circle cx="571.73" cy="479.26" r="0.45"/><circle cx="569.13" cy="483.66" r="0.45"/><circle cx="570.98" cy="480.65" r="0.45"/><circle cx="565.96" cy="477.14" r="0.45"/><circle cx="574.05" cy="481.09" r="0.45"/><circle cx="571.23" cy="479.33" r="0.45"/><circle cx="581.34" cy="475.77" r="0.45"/><circle cx="569.95" cy="473.53" r="0.45"/><circle cx="571.82" cy="476.86" r="0.45"/><circle cx="570.1" cy="477.84" r="0.45"/><circle cx="574.45" cy="476.72" r="0.45"/><circle cx="577.54" cy="472.16" r="0.45"/><circle cx="566.13" cy="472.78" r="0.45"/><circle cx="568.06" cy="475.22" r="0.45"/><circle cx="572.52" cy="472.95" r="0.45"/><circle cx="573.26" cy="478.47" r="0.45"/><circle cx="570.8" cy="483.7" r="0.45"/><circle cx="569.78" cy="481.45" r="0.45"/><circle cx="564.34" cy="479.29" r="0.45"/><circle cx="573.47" cy="477.41" r="0.45"/><circle cx="568.98" cy="476.39" r="0.45"/><circle cx="571.56" cy="483.53" r="0.45"/><circle cx="568.82" cy="480.05" r="0.45"/><circle cx="572.48" cy="483.97" r="0.45"/><circle cx="573.43" cy="480.61" r="0.45"/><circle cx="564.69" cy="471.03" r="0.45"/><circle cx="562.73" cy="464.68" r="0.45"/><circle cx="570.23" cy="483.42" r="0.45"/><circle cx="573.76" cy="468.87" r="0.45"/><circle cx="571.57" cy="483.32" r="0.45"/><circle cx="573.98" cy="476.52" r="0.45"/><circle cx="575.76" cy="479.4" r="0.45"/><circle cx="574.13" cy="483.11" r="0.45"/><circle cx="569.44" cy="475.1" r="0.45"/><circle cx="572.54" cy="480.58" r="0.45"/><circle cx="570.95" cy="477.3" r="0.45"/><circle cx="572.29" cy="473.62" r="0.45"/><circle cx="572.75" cy="476.68" r="0.45"/><circle cx="572.54" cy="483.5" r="0.45"/><circle cx="565.61" cy="471.99" r="0.45"/><circle cx="573.65" cy="474.08" r="0.45"/><circle cx="571.64" cy="482.21" r="0.45"/><circle cx="570.57" cy="479.17" r="0.45"/><circle cx="563.48" cy="471" r="0.45"/><circle cx="572.57" cy="483.05" r="0.45"/><circle cx="576.97" cy="461.78" r="0.45"/><circle cx="570.55" cy="482.61" r="0.45"/><circle cx="564.27" cy="478.92" r="0.45"/><circle cx="570.88" cy="483.85" r="0.45"/><circle cx="566.07" cy="468.09" r="0.45"/><circle cx="570.42" cy="476.93" r="0.45"/><circle cx="574.48" cy="477.47" r="0.45"/><circle cx="567.79" cy="469.82" r="0.45"/><circle cx="568.44" cy="483.02" r="0.45"/><circle cx="573.42" cy="467.92" r="0.45"/><circle cx="567.51" cy="472.01" r="0.45"/><circle cx="572.66" cy="478.98" r="0.45"/><circle cx="569.81" cy="482.53" r="0.45"/><circle cx="569.89" cy="471.58" r="0.45"/><circle cx="574.26" cy="481.87" r="0.45"/><circle cx="573.86" cy="480.64" r="0.45"/><circle cx="562.87" cy="471.88" r="0.45"/><circle cx="572.52" cy="483.32" r="0.45"/><circle cx="568.8" cy="481.71" r="0.45"/><circle cx="572.49" cy="469.77" r="0.45"/><circle cx="561.85" cy="473.27" r="0.45"/><circle cx="573.18" cy="475.57" r="0.45"/><circle cx="576.49" cy="478.56" r="0.45"/><circle cx="570.83" cy="477.56" r="0.45"/><circle cx="577.07" cy="477.35" r="0.45"/><circle cx="575.37" cy="481.13" r="0.45"/><circle cx="569.32" cy="473.39" r="0.45"/><circle cx="573.35" cy="482.35" r="0.45"/><circle cx="570.33" cy="478.93" r="0.45"/><circle cx="579.9" cy="478.08" r="0.45"/><circle cx="571.21" cy="480.83" r="0.45"/><circle cx="563.73" cy="468.19" r="0.45"/><circle cx="572.14" cy="462" r="0.45"/><circle cx="567.35" cy="469.53" r="0.45"/><circle cx="568.27" cy="479.25" r="0.45"/><circle cx="572.32" cy="481.16" r="0.45"/><circle cx="573.09" cy="482.35" r="0.45"/><circle cx="582.12" cy="466.52" r="0.45"/><circle cx="577.64" cy="473.05" r="0.45"/><circle cx="571.25" cy="481.25" r="0.45"/><circle cx="579.86" cy="469.14" r="0.45"/><circle cx="579.25" cy="470.68" r="0.45"/><circle cx="576.27" cy="469.29" r="0.45"/><circle cx="571.07" cy="481.55" r="0.45"/><circle cx="569.59" cy="477.58" r="0.45"/><circle cx="568.91" cy="477.05" r="0.45"/><circle cx="569.06" cy="471.3" r="0.45"/><circle cx="568.84" cy="482.28" r="0.45"/><circle cx="569.63" cy="468.06" r="0.45"/><circle cx="570.71" cy="482.03" r="0.45"/><circle cx="573.88" cy="460.48" r="0.45"/><circle cx="572.55" cy="478.54" r="0.45"/><circle cx="573.08" cy="462.22" r="0.45"/><circle cx="566.62" cy="482.72" r="0.45"/><circle cx="568.9" cy="477.38" r="0.45"/><circle cx="576.99" cy="473.28" r="0.45"/><circle cx="576.02" cy="478.84" r="0.45"/><circle cx="571.16" cy="481.71" r="0.45"/><circle cx="583.17" cy="471.8" r="0.45"/><circle cx="570.67" cy="476.57" r="0.45"/><circle cx="573.71" cy="474.83" r="0.45"/><circle cx="571.75" cy="477.44" r="0.45"/><circle cx="566.29" cy="473.65" r="0.45"/><circle cx="566.14" cy="475.96" r="0.45"/><circle cx="568.78" cy="479.72" r="0.45"/><circle cx="576.3" cy="473.15" r="0.45"/><circle cx="572.42" cy="483.88" r="0.45"/><circle cx="567.2" cy="474.68" r="0.45"/><circle cx="585.45" cy="460.41" r="0.45"/><circle cx="575.38" cy="481.98" r="0.45"/><circle cx="570.82" cy="479.59" r="0.45"/><circle cx="564.23" cy="476.34" r="0.45"/><circle cx="571.7" cy="476.33" r="0.45"/><circle cx="581.56" cy="474.54" r="0.45"/><circle cx="569.26" cy="475.7" r="0.45"/><circle cx="571.8" cy="477" r="0.45"/><circle cx="570.42" cy="479.77" r="0.45"/><circle cx="569.38" cy="479.15" r="0.45"/><circle cx="572.46" cy="479.95" r="0.45"/><circle cx="566.92" cy="472.81" r="0.45"/><circle cx="569.66" cy="475.56" r="0.45"/><circle cx="572.51" cy="481.56" r="0.45"/><circle cx="570.6" cy="480.72" r="0.45"/><circle cx="574.21" cy="474.5" r="0.45"/><circle cx="571.92" cy="479.23" r="0.45"/><circle cx="572.46" cy="477.46" r="0.45"/><circle cx="569.92" cy="476.13" r="0.45"/><circle cx="573.72" cy="477.85" r="0.45"/><circle cx="572.32" cy="474.97" r="0.45"/><circle cx="571.12" cy="483.7" r="0.45"/><circle cx="575.81" cy="468.38" r="0.45"/><circle cx="568.01" cy="476.17" r="0.45"/><circle cx="569.97" cy="472.02" r="0.45"/><circle cx="574.38" cy="472.77" r="0.45"/><circle cx="570.85" cy="478.67" r="0.45"/><circle cx="568.74" cy="462.54" r="0.45"/><circle cx="570.06" cy="466.86" r="0.45"/><circle cx="580.85" cy="468.08" r="0.45"/><circle cx="571" cy="480.87" r="0.45"/><circle cx="578.98" cy="468.32" r="0.45"/><circle cx="569.52" cy="481.46" r="0.45"/><circle cx="573.31" cy="482.31" r="0.45"/><circle cx="569.4" cy="481.12" r="0.45"/><circle cx="573.91" cy="474.73" r="0.45"/><circle cx="572.6" cy="478.88" r="0.45"/><circle cx="570.46" cy="481.8" r="0.45"/><circle cx="570.33" cy="483.88" r="0.45"/><circle cx="574.8" cy="474.51" r="0.45"/><circle cx="568.84" cy="478.33" r="0.45"/><circle cx="568.77" cy="475.31" r="0.45"/><circle cx="572.42" cy="474.36" r="0.45"/><circle cx="567.8" cy="475.92" r="0.45"/><circle cx="566.85" cy="482.59" r="0.45"/><circle cx="574.08" cy="479.39" r="0.45"/><circle cx="573.72" cy="477.03" r="0.45"/><circle cx="572.84" cy="473.4" r="0.45"/><circle cx="570.08" cy="481.42" r="0.45"/><circle cx="567.99" cy="482.04" r="0.45"/><circle cx="569.3" cy="474.75" r="0.45"/><circle cx="553.35" cy="464.27" r="0.45"/><circle cx="569.34" cy="481.52" r="0.45"/><circle cx="571.89" cy="460.23" r="0.45"/><circle cx="577.04" cy="475.49" r="0.45"/><circle cx="572.37" cy="475.91" r="0.45"/><circle cx="579.19" cy="473.03" r="0.45"/><circle cx="569.62" cy="481.88" r="0.45"/><circle cx="569.79" cy="478.31" r="0.45"/><circle cx="572.27" cy="475.68" r="0.45"/><circle cx="580.53" cy="472.2" r="0.45"/><circle cx="569.75" cy="479.43" r="0.45"/><circle cx="574.24" cy="475.24" r="0.45"/><circle cx="578.65" cy="471.72" r="0.45"/><circle cx="564.78" cy="466.77" r="0.45"/><circle cx="572.07" cy="470.62" r="0.45"/><circle cx="578.93" cy="481.32" r="0.45"/><circle cx="576.76" cy="473.68" r="0.45"/><circle cx="576.33" cy="477.04" r="0.45"/><circle cx="569" cy="480.91" r="0.45"/><circle cx="568.73" cy="471.45" r="0.45"/><circle cx="570.91" cy="481.51" r="0.45"/><circle cx="568.2" cy="476.46" r="0.45"/><circle cx="569.94" cy="479.99" r="0.45"/><circle cx="570.5" cy="482.85" r="0.45"/><circle cx="571.9" cy="481.24" r="0.45"/><circle cx="574.15" cy="481.98" r="0.45"/><circle cx="574.8" cy="480.23" r="0.45"/><circle cx="580.66" cy="469.22" r="0.45"/><circle cx="571.84" cy="481.48" r="0.45"/><circle cx="564.9" cy="472.55" r="0.45"/><circle cx="571.21" cy="483.87" r="0.45"/><circle cx="569.5" cy="475.84" r="0.45"/><circle cx="576.63" cy="463.03" r="0.45"/><circle cx="575.33" cy="483.81" r="0.45"/><circle cx="570.04" cy="474.49" r="0.45"/><circle cx="574.45" cy="468.59" r="0.45"/><circle cx="565.55" cy="462.55" r="0.45"/><circle cx="574.77" cy="479.94" r="0.45"/><circle cx="564.31" cy="473.04" r="0.45"/><circle cx="573.03" cy="481.07" r="0.45"/><circle cx="565.23" cy="471.25" r="0.45"/><circle cx="569.89" cy="465.69" r="0.45"/><circle cx="568.57" cy="483.46" r="0.45"/><circle cx="572.38" cy="478.55" r="0.45"/><circle cx="576.54" cy="475.91" r="0.45"/><circle cx="565.65" cy="475.55" r="0.45"/><circle cx="569.37" cy="474.41" r="0.45"/><circle cx="570.47" cy="476.62" r="0.45"/><circle cx="570.36" cy="477.51" r="0.45"/><circle cx="571.18" cy="476.66" r="0.45"/><circle cx="565.58" cy="483.12" r="0.45"/><circle cx="578.53" cy="474.91" r="0.45"/><circle cx="575.99" cy="482.59" r="0.45"/><circle cx="566.49" cy="479.06" r="0.45"/><circle cx="573.19" cy="466.15" r="0.45"/><circle cx="567.95" cy="477.63" r="0.45"/><circle cx="569.52" cy="476.63" r="0.45"/><circle cx="570.15" cy="481.26" r="0.45"/><circle cx="571.33" cy="482.64" r="0.45"/><circle cx="569.35" cy="476.12" r="0.45"/><circle cx="571.04" cy="481.27" r="0.45"/><circle cx="565.89" cy="474.21" r="0.45"/><circle cx="573.47" cy="472.37" r="0.45"/><circle cx="564.6" cy="476.76" r="0.45"/><circle cx="575.92" cy="466.51" r="0.45"/><circle cx="570.41" cy="479.75" r="0.45"/><circle cx="571.32" cy="482.08" r="0.45"/><circle cx="566.66" cy="478.88" r="0.45"/><circle cx="568.92" cy="478.7" r="0.45"/><circle cx="575.88" cy="470.94" r="0.45"/><circle cx="573.76" cy="479.8" r="0.45"/><circle cx="572.59" cy="483.67" r="0.45"/><circle cx="573.08" cy="478.36" r="0.45"/><circle cx="569.1" cy="465.46" r="0.45"/><circle cx="573.18" cy="475.31" r="0.45"/><circle cx="576.07" cy="475.52" r="0.45"/><circle cx="576.64" cy="480.06" r="0.45"/><circle cx="569.47" cy="481.53" r="0.45"/><circle cx="575.99" cy="479.22" r="0.45"/><circle cx="572.55" cy="472.97" r="0.45"/><circle cx="574.18" cy="479.56" r="0.45"/><circle cx="568.96" cy="480.37" r="0.45"/><circle cx="572.49" cy="482.61" r="0.45"/><circle cx="570.92" cy="479.42" r="0.45"/><circle cx="575.62" cy="469.38" r="0.45"/><circle cx="567.15" cy="480.93" r="0.45"/><circle cx="573.15" cy="476.26" r="0.45"/><circle cx="577.48" cy="466.95" r="0.45"/><circle cx="572.77" cy="481.98" r="0.45"/><circle cx="569.37" cy="474.72" r="0.45"/><circle cx="572.31" cy="472.65" r="0.45"/><circle cx="567.93" cy="483.74" r="0.45"/><circle cx="572.25" cy="481.44" r="0.45"/><circle cx="565.34" cy="475.8" r="0.45"/><circle cx="574.55" cy="468.83" r="0.45"/><circle cx="573.9" cy="476.57" r="0.45"/><circle cx="572.27" cy="483.53" r="0.45"/><circle cx="564.86" cy="478.69" r="0.45"/><circle cx="572.75" cy="480.01" r="0.45"/><circle cx="570.63" cy="478.43" r="0.45"/><circle cx="581.77" cy="474.38" r="0.45"/><circle cx="581.12" cy="464.48" r="0.45"/><circle cx="584.06" cy="463.62" r="0.45"/><circle cx="568.5" cy="482.94" r="0.45"/><circle cx="569.92" cy="481.08" r="0.45"/><circle cx="571.32" cy="482.09" r="0.45"/><circle cx="566.6" cy="480.28" r="0.45"/><circle cx="567.84" cy="476.86" r="0.45"/><circle cx="568.52" cy="476.31" r="0.45"/><circle cx="568.57" cy="475.56" r="0.45"/><circle cx="568.79" cy="483.94" r="0.45"/><circle cx="565.19" cy="480.6" r="0.45"/><circle cx="564.62" cy="478.27" r="0.45"/><circle cx="567.84" cy="477.42" r="0.45"/><circle cx="570.01" cy="481.01" r="0.45"/><circle cx="566.68" cy="480.97" r="0.45"/><circle cx="573" cy="484" r="0.45"/><circle cx="568.28" cy="476.96" r="0.45"/><circle cx="570.01" cy="478.53" r="0.45"/><circle cx="568.56" cy="482.34" r="0.45"/><circle cx="570.78" cy="481.38" r="0.45"/><circle cx="576.98" cy="475.19" r="0.45"/><circle cx="570.73" cy="479.65" r="0.45"/><circle cx="568.67" cy="469.4" r="0.45"/><circle cx="564.05" cy="472.56" r="0.45"/><circle cx="579.58" cy="464.47" r="0.45"/><circle cx="568.24" cy="480.2" r="0.45"/><circle cx="584.41" cy="464.3" r="0.45"/><circle cx="571.94" cy="476.87" r="0.45"/><circle cx="572.78" cy="474.14" r="0.45"/><circle cx="572.83" cy="479.54" r="0.45"/><circle cx="565.48" cy="482.79" r="0.45"/><circle cx="575.83" cy="480.68" r="0.45"/><circle cx="572.07" cy="482.82" r="0.45"/><circle cx="566.7" cy="479.07" r="0.45"/><circle cx="569.95" cy="477.71" r="0.45"/><circle cx="575.41" cy="475.82" r="0.45"/><circle cx="567.78" cy="479.69" r="0.45"/><circle cx="570.42" cy="479.31" r="0.45"/><circle cx="578.18" cy="472.67" r="0.45"/><circle cx="572.64" cy="478.83" r="0.45"/><circle cx="571.04" cy="483.73" r="0.45"/><circle cx="572.62" cy="482.61" r="0.45"/><circle cx="570" cy="474.03" r="0.45"/><circle cx="580.34" cy="469.83" r="0.45"/><circle cx="574.85" cy="467.31" r="0.45"/><circle cx="569.68" cy="482.89" r="0.45"/><circle cx="570.61" cy="482.89" r="0.45"/><circle cx="568.64" cy="470.75" r="0.45"/><circle cx="571.9" cy="479.76" r="0.45"/><circle cx="568.77" cy="482.56" r="0.45"/><circle cx="565.55" cy="470.14" r="0.45"/><circle cx="567.08" cy="473.92" r="0.45"/><circle cx="562.84" cy="474.14" r="0.45"/><circle cx="569.32" cy="480.66" r="0.45"/><circle cx="569.1" cy="468.66" r="0.45"/><circle cx="567.35" cy="475.05" r="0.45"/><circle cx="572.06" cy="483.48" r="0.45"/><circle cx="572.67" cy="474.05" r="0.45"/><circle cx="569.7" cy="472.86" r="0.45"/><circle cx="572.91" cy="465.8" r="0.45"/><circle cx="563.94" cy="474.76" r="0.45"/><circle cx="579.67" cy="462.91" r="0.45"/><circle cx="566.46" cy="475.2" r="0.45"/><circle cx="566.41" cy="472.89" r="0.45"/><circle cx="583.58" cy="470.99" r="0.45"/><circle cx="572.3" cy="463.81" r="0.45"/><circle cx="567.28" cy="481.36" r="0.45"/><circle cx="568.42" cy="478.14" r="0.45"/><circle cx="569.29" cy="467.91" r="0.45"/><circle cx="572.64" cy="474.86" r="0.45"/><circle cx="568.78" cy="480.33" r="0.45"/><circle cx="573.74" cy="474.75" r="0.45"/><circle cx="570" cy="458.22" r="0.45"/><circle cx="568.71" cy="481.78" r="0.45"/><circle cx="574.6" cy="480.16" r="0.45"/><circle cx="570.3" cy="483.42" r="0.45"/><circle cx="567.46" cy="475.02" r="0.45"/><circle cx="571.12" cy="483.67" r="0.45"/><circle cx="567.82" cy="472.54" r="0.45"/><circle cx="564.06" cy="478.94" r="0.45"/><circle cx="566.79" cy="474.09" r="0.45"/><circle cx="566.74" cy="472.19" r="0.45"/><circle cx="567.78" cy="478.76" r="0.45"/><circle cx="572.09" cy="479.17" r="0.45"/><circle cx="564.82" cy="480.77" r="0.45"/><circle cx="577.56" cy="472" r="0.45"/><circle cx="569.83" cy="477.21" r="0.45"/><circle cx="572.45" cy="476.67" r="0.45"/><circle cx="561.22" cy="470.08" r="0.45"/><circle cx="570.6" cy="481.55" r="0.45"/><circle cx="567.13" cy="479.4" r="0.45"/><circle cx="571.03" cy="482.49" r="0.45"/></g>
<path d="M567.6 484 L565.6 470 L566.6 461 L569.6 465 L570.8 472 L572 464 L575.2 460 L576.4 470 L574.4 484 Z" fill="#8c8c8c"/>
<text x="570.9" y="493.2" font-size="2.6" text-anchor="middle" fill="#444" >Fold Change (log2)</text>
<text x="543.2" y="466.2" font-size="2.6" text-anchor="middle" fill="#444" transform="rotate(-90 543.2 466.2)" >p-Value (-log10)</text>
<text x="548.7" y="488.4" font-size="2.4" text-anchor="middle" fill="#444" >-4</text>
<text x="559.8" y="488.4" font-size="2.4" text-anchor="middle" fill="#444" >-2</text>
<text x="570.9" y="488.4" font-size="2.4" text-anchor="middle" fill="#444" >0</text>
<text x="582" y="488.4" font-size="2.4" text-anchor="middle" fill="#444" >2</text>
<text x="593.1" y="488.4" font-size="2.4" text-anchor="middle" fill="#444" >4</text>
<text x="546.8" y="449.3" font-size="2.4" text-anchor="end" fill="#444" >6</text>
<text x="546.8" y="461.2" font-size="2.4" text-anchor="end" fill="#444" >4</text>
<text x="546.8" y="473.1" font-size="2.4" text-anchor="end" fill="#444" >2</text>
<text x="546.8" y="485.1" font-size="2.4" text-anchor="end" fill="#444" >0</text>
<rect x="627.3" y="447.6" width="3.81" height="3.79" fill="#e8262c" stroke="#111" stroke-width="0.45" />
<rect x="631.11" y="447.6" width="3.81" height="3.79" fill="#f25a5e" stroke="#111" stroke-width="0.45" />
<rect x="634.93" y="447.6" width="3.81" height="3.79" fill="#e8262c" stroke="#111" stroke-width="0.45" />
<rect x="638.74" y="447.6" width="3.81" height="3.79" fill="#ffffff" stroke="#111" stroke-width="0.45" />
<rect x="642.56" y="447.6" width="3.81" height="3.79" fill="#e8262c" stroke="#111" stroke-width="0.45" />
<rect x="646.37" y="447.6" width="3.81" height="3.79" fill="#f25a5e" stroke="#111" stroke-width="0.45" />
<rect x="650.19" y="447.6" width="3.81" height="3.79" fill="#f25a5e" stroke="#111" stroke-width="0.45" />
<rect x="627.3" y="451.39" width="3.81" height="3.79" fill="#f25a5e" stroke="#111" stroke-width="0.45" />
<rect x="631.11" y="451.39" width="3.81" height="3.79" fill="#f69497" stroke="#111" stroke-width="0.45" />
<rect x="634.93" y="451.39" width="3.81" height="3.79" fill="#f25a5e" stroke="#111" stroke-width="0.45" />
<rect x="638.74" y="451.39" width="3.81" height="3.79" fill="#ffffff" stroke="#111" stroke-width="0.45" />
<rect x="642.56" y="451.39" width="3.81" height="3.79" fill="#e8262c" stroke="#111" stroke-width="0.45" />
<rect x="646.37" y="451.39" width="3.81" height="3.79" fill="#f69497" stroke="#111" stroke-width="0.45" />
<rect x="650.19" y="451.39" width="3.81" height="3.79" fill="#f69497" stroke="#111" stroke-width="0.45" />
<rect x="627.3" y="455.18" width="3.81" height="3.79" fill="#e8262c" stroke="#111" stroke-width="0.45" />
<rect x="631.11" y="455.18" width="3.81" height="3.79" fill="#f69497" stroke="#111" stroke-width="0.45" />
<rect x="634.93" y="455.18" width="3.81" height="3.79" fill="#f69497" stroke="#111" stroke-width="0.45" />
<rect x="638.74" y="455.18" width="3.81" height="3.79" fill="#ffffff" stroke="#111" stroke-width="0.45" />
<rect x="642.56" y="455.18" width="3.81" height="3.79" fill="#e8262c" stroke="#111" stroke-width="0.45" />
<rect x="646.37" y="455.18" width="3.81" height="3.79" fill="#f25a5e" stroke="#111" stroke-width="0.45" />
<rect x="650.19" y="455.18" width="3.81" height="3.79" fill="#f69497" stroke="#111" stroke-width="0.45" />
<rect x="627.3" y="458.97" width="3.81" height="3.79" fill="#f25a5e" stroke="#111" stroke-width="0.45" />
<rect x="631.11" y="458.97" width="3.81" height="3.79" fill="#e8262c" stroke="#111" stroke-width="0.45" />
<rect x="634.93" y="458.97" width="3.81" height="3.79" fill="#e8262c" stroke="#111" stroke-width="0.45" />
<rect x="638.74" y="458.97" width="3.81" height="3.79" fill="#fbcfd0" stroke="#111" stroke-width="0.45" />
<rect x="642.56" y="458.97" width="3.81" height="3.79" fill="#f25a5e" stroke="#111" stroke-width="0.45" />
<rect x="646.37" y="458.97" width="3.81" height="3.79" fill="#fbcfd0" stroke="#111" stroke-width="0.45" />
<rect x="650.19" y="458.97" width="3.81" height="3.79" fill="#e8262c" stroke="#111" stroke-width="0.45" />
<rect x="627.3" y="462.76" width="3.81" height="3.79" fill="#3f55b5" stroke="#111" stroke-width="0.45" />
<rect x="631.11" y="462.76" width="3.81" height="3.79" fill="#e8262c" stroke="#111" stroke-width="0.45" />
<rect x="634.93" y="462.76" width="3.81" height="3.79" fill="#e8262c" stroke="#111" stroke-width="0.45" />
<rect x="638.74" y="462.76" width="3.81" height="3.79" fill="#ffffff" stroke="#111" stroke-width="0.45" />
<rect x="642.56" y="462.76" width="3.81" height="3.79" fill="#c9cdf0" stroke="#111" stroke-width="0.45" />
<rect x="646.37" y="462.76" width="3.81" height="3.79" fill="#e8262c" stroke="#111" stroke-width="0.45" />
<rect x="650.19" y="462.76" width="3.81" height="3.79" fill="#e8262c" stroke="#111" stroke-width="0.45" />
<rect x="627.3" y="466.55" width="3.81" height="3.79" fill="#ffffff" stroke="#111" stroke-width="0.45" />
<rect x="631.11" y="466.55" width="3.81" height="3.79" fill="#f25a5e" stroke="#111" stroke-width="0.45" />
<rect x="634.93" y="466.55" width="3.81" height="3.79" fill="#f69497" stroke="#111" stroke-width="0.45" />
<rect x="638.74" y="466.55" width="3.81" height="3.79" fill="#ffffff" stroke="#111" stroke-width="0.45" />
<rect x="642.56" y="466.55" width="3.81" height="3.79" fill="#c9cdf0" stroke="#111" stroke-width="0.45" />
<rect x="646.37" y="466.55" width="3.81" height="3.79" fill="#e8262c" stroke="#111" stroke-width="0.45" />
<rect x="650.19" y="466.55" width="3.81" height="3.79" fill="#e8262c" stroke="#111" stroke-width="0.45" />
<rect x="627.3" y="470.35" width="3.81" height="3.79" fill="#e8262c" stroke="#111" stroke-width="0.45" />
<rect x="631.11" y="470.35" width="3.81" height="3.79" fill="#e8262c" stroke="#111" stroke-width="0.45" />
<rect x="634.93" y="470.35" width="3.81" height="3.79" fill="#e8262c" stroke="#111" stroke-width="0.45" />
<rect x="638.74" y="470.35" width="3.81" height="3.79" fill="#ffffff" stroke="#111" stroke-width="0.45" />
<rect x="642.56" y="470.35" width="3.81" height="3.79" fill="#e8262c" stroke="#111" stroke-width="0.45" />
<rect x="646.37" y="470.35" width="3.81" height="3.79" fill="#e8262c" stroke="#111" stroke-width="0.45" />
<rect x="650.19" y="470.35" width="3.81" height="3.79" fill="#d01018" stroke="#111" stroke-width="0.45" />
<rect x="627.3" y="474.14" width="3.81" height="3.79" fill="#3f55b5" stroke="#111" stroke-width="0.45" />
<rect x="631.11" y="474.14" width="3.81" height="3.79" fill="#fbcfd0" stroke="#111" stroke-width="0.45" />
<rect x="634.93" y="474.14" width="3.81" height="3.79" fill="#fbcfd0" stroke="#111" stroke-width="0.45" />
<rect x="638.74" y="474.14" width="3.81" height="3.79" fill="#ffffff" stroke="#111" stroke-width="0.45" />
<rect x="642.56" y="474.14" width="3.81" height="3.79" fill="#e8262c" stroke="#111" stroke-width="0.45" />
<rect x="646.37" y="474.14" width="3.81" height="3.79" fill="#f25a5e" stroke="#111" stroke-width="0.45" />
<rect x="650.19" y="474.14" width="3.81" height="3.79" fill="#f69497" stroke="#111" stroke-width="0.45" />
<rect x="627.3" y="477.93" width="3.81" height="3.79" fill="#c9cdf0" stroke="#111" stroke-width="0.45" />
<rect x="631.11" y="477.93" width="3.81" height="3.79" fill="#e8262c" stroke="#111" stroke-width="0.45" />
<rect x="634.93" y="477.93" width="3.81" height="3.79" fill="#f25a5e" stroke="#111" stroke-width="0.45" />
<rect x="638.74" y="477.93" width="3.81" height="3.79" fill="#ffffff" stroke="#111" stroke-width="0.45" />
<rect x="642.56" y="477.93" width="3.81" height="3.79" fill="#f25a5e" stroke="#111" stroke-width="0.45" />
<rect x="646.37" y="477.93" width="3.81" height="3.79" fill="#e8262c" stroke="#111" stroke-width="0.45" />
<rect x="650.19" y="477.93" width="3.81" height="3.79" fill="#f69497" stroke="#111" stroke-width="0.45" />
<rect x="627.3" y="481.72" width="3.81" height="3.79" fill="#f69497" stroke="#111" stroke-width="0.45" />
<rect x="631.11" y="481.72" width="3.81" height="3.79" fill="#f25a5e" stroke="#111" stroke-width="0.45" />
<rect x="634.93" y="481.72" width="3.81" height="3.79" fill="#e8262c" stroke="#111" stroke-width="0.45" />
<rect x="638.74" y="481.72" width="3.81" height="3.79" fill="#fbcfd0" stroke="#111" stroke-width="0.45" />
<rect x="642.56" y="481.72" width="3.81" height="3.79" fill="#e8262c" stroke="#111" stroke-width="0.45" />
<rect x="646.37" y="481.72" width="3.81" height="3.79" fill="#e8262c" stroke="#111" stroke-width="0.45" />
<rect x="650.19" y="481.72" width="3.81" height="3.79" fill="#f25a5e" stroke="#111" stroke-width="0.45" />
<rect x="627.3" y="485.51" width="3.81" height="3.79" fill="#f25a5e" stroke="#111" stroke-width="0.45" />
<rect x="631.11" y="485.51" width="3.81" height="3.79" fill="#f69497" stroke="#111" stroke-width="0.45" />
<rect x="634.93" y="485.51" width="3.81" height="3.79" fill="#fbcfd0" stroke="#111" stroke-width="0.45" />
<rect x="638.74" y="485.51" width="3.81" height="3.79" fill="#ffffff" stroke="#111" stroke-width="0.45" />
<rect x="642.56" y="485.51" width="3.81" height="3.79" fill="#e8262c" stroke="#111" stroke-width="0.45" />
<rect x="646.37" y="485.51" width="3.81" height="3.79" fill="#e8262c" stroke="#111" stroke-width="0.45" />
<rect x="650.19" y="485.51" width="3.81" height="3.79" fill="#f25a5e" stroke="#111" stroke-width="0.45" />
<rect x="627.3" y="447.6" width="26.7" height="41.7" fill="none" stroke="#111" stroke-width="0.7" />
<path d="M627.3 449.5 L623.2 449.5 M627.3 453.29 L623.2 453.29 M623.2 449.5 L623.2 453.29 M623.2 451.39 L621.2 451.39 M627.3 457.08 L621.2 457.08 M621.2 451.39 L621.2 457.08 M621.2 454.23 L609.4 454.23 M627.3 460.87 L609.4 460.87 M609.4 454.23 L609.4 460.87 M627.3 464.66 L623.4 464.66 M627.3 468.45 L623.4 468.45 M623.4 464.66 L623.4 468.45 M623.4 466.55 L616.8 466.55 M627.3 472.24 L616.8 472.24 M616.8 466.55 L616.8 472.24 M627.3 476.03 L623.4 476.03 M627.3 479.82 L623.4 479.82 M623.4 476.03 L623.4 479.82 M623.4 477.93 L621.6 477.93 M627.3 483.61 L621.6 483.61 M621.6 477.93 L621.6 483.61 M621.6 480.77 L615 480.77 M627.3 487.4 L615 487.4 M615 480.77 L615 487.4 M616.8 469.4 L603.4 469.4 M615 484.09 L603.4 484.09 M603.4 469.4 L603.4 484.09 M609.4 457.55 L598.4 457.55 M603.4 476.74 L598.4 476.74 M598.4 457.55 L598.4 476.74" fill="none" stroke="#111" stroke-width="0.6"/>
<text x="2.1" y="534.5" font-size="14.6" font-weight="bold" fill="#1a1a1a" >D</text>
<line x1="104.4" y1="527.5" x2="104.4" y2="696.5" stroke="#4a4a4a" stroke-width="1.1" />
<line x1="103.9" y1="696" x2="273.9" y2="696" stroke="#4a4a4a" stroke-width="1.1" />
<line x1="98.4" y1="546.45" x2="104.4" y2="546.45" stroke="#4a4a4a" stroke-width="1.1" />
<text x="92.7" y="549.75" font-size="9.3" text-anchor="end" fill="#222" >Tubulins (293A)</text>
<line x1="98.4" y1="573.05" x2="104.4" y2="573.05" stroke="#4a4a4a" stroke-width="1.1" />
<text x="92.7" y="576.35" font-size="9.3" text-anchor="end" fill="#222" >Histones (293A)</text>
<line x1="98.4" y1="599.65" x2="104.4" y2="599.65" stroke="#4a4a4a" stroke-width="1.1" />
<text x="92.7" y="602.95" font-size="9.3" text-anchor="end" fill="#222" >Tubulins (Hela)</text>
<line x1="98.4" y1="626.05" x2="104.4" y2="626.05" stroke="#4a4a4a" stroke-width="1.1" />
<text x="92.7" y="629.35" font-size="9.3" text-anchor="end" fill="#222" >Histones (Hela)</text>
<line x1="98.4" y1="652.35" x2="104.4" y2="652.35" stroke="#4a4a4a" stroke-width="1.1" />
<text x="92.7" y="655.65" font-size="9.3" text-anchor="end" fill="#222" >Tubulins (U2OS)</text>
<line x1="98.4" y1="678.95" x2="104.4" y2="678.95" stroke="#4a4a4a" stroke-width="1.1" />
<text x="92.7" y="682.25" font-size="9.3" text-anchor="end" fill="#222" >Histones (U2OS)</text>
<line x1="103.9" y1="696" x2="103.9" y2="701.3" stroke="#4a4a4a" stroke-width="1.0" />
<text x="103.9" y="714" font-size="9.3" text-anchor="middle" fill="#222" >-8</text>
<line x1="128.1" y1="696" x2="128.1" y2="701.3" stroke="#4a4a4a" stroke-width="1.0" />
<text x="128.1" y="714" font-size="9.3" text-anchor="middle" fill="#222" >-6</text>
<line x1="152.3" y1="696" x2="152.3" y2="701.3" stroke="#4a4a4a" stroke-width="1.0" />
<text x="152.3" y="714" font-size="9.3" text-anchor="middle" fill="#222" >-4</text>
<line x1="176.5" y1="696" x2="176.5" y2="701.3" stroke="#4a4a4a" stroke-width="1.0" />
<text x="176.5" y="714" font-size="9.3" text-anchor="middle" fill="#222" >-2</text>
<line x1="200.7" y1="696" x2="200.7" y2="701.3" stroke="#4a4a4a" stroke-width="1.0" />
<text x="200.7" y="714" font-size="9.3" text-anchor="middle" fill="#222" >0</text>
<line x1="224.9" y1="696" x2="224.9" y2="701.3" stroke="#4a4a4a" stroke-width="1.0" />
<text x="224.9" y="714" font-size="9.3" text-anchor="middle" fill="#222" >2</text>
<line x1="249.1" y1="696" x2="249.1" y2="701.3" stroke="#4a4a4a" stroke-width="1.0" />
<text x="249.1" y="714" font-size="9.3" text-anchor="middle" fill="#222" >4</text>
<line x1="273.3" y1="696" x2="273.3" y2="701.3" stroke="#4a4a4a" stroke-width="1.0" />
<text x="273.3" y="714" font-size="9.3" text-anchor="middle" fill="#222" >6</text>
<text x="181.2" y="725.6" font-size="9.3" text-anchor="middle" fill="#222" >Insoluble / Whole (log2)</text>
<rect x="199.7" y="528.4" width="2" height="1.7" fill="#111"/>
<rect x="199.7" y="531.76" width="2" height="1.7" fill="#111"/>
<rect x="199.7" y="535.12" width="2" height="1.7" fill="#111"/>
<rect x="199.7" y="538.48" width="2" height="1.7" fill="#111"/>
<rect x="199.7" y="541.84" width="2" height="1.7" fill="#111"/>
<rect x="199.7" y="545.2" width="2" height="1.7" fill="#111"/>
<rect x="199.7" y="548.56" width="2" height="1.7" fill="#111"/>
<rect x="199.7" y="551.92" width="2" height="1.7" fill="#111"/>
<rect x="199.7" y="555.28" width="2" height="1.7" fill="#111"/>
<rect x="199.7" y="558.64" width="2" height="1.7" fill="#111"/>
<rect x="199.7" y="562" width="2" height="1.7" fill="#111"/>
<rect x="199.7" y="565.36" width="2" height="1.7" fill="#111"/>
<rect x="199.7" y="568.72" width="2" height="1.7" fill="#111"/>
<rect x="199.7" y="572.08" width="2" height="1.7" fill="#111"/>
<rect x="199.7" y="575.44" width="2" height="1.7" fill="#111"/>
<rect x="199.7" y="578.8" width="2" height="1.7" fill="#111"/>
<rect x="199.7" y="582.16" width="2" height="1.7" fill="#111"/>
<rect x="199.7" y="585.52" width="2" height="1.7" fill="#111"/>
<rect x="199.7" y="588.88" width="2" height="1.7" fill="#111"/>
<rect x="199.7" y="592.24" width="2" height="1.7" fill="#111"/>
<rect x="199.7" y="595.6" width="2" height="1.7" fill="#111"/>
<rect x="199.7" y="598.96" width="2" height="1.7" fill="#111"/>
<rect x="199.7" y="602.32" width="2" height="1.7" fill="#111"/>
<rect x="199.7" y="605.68" width="2" height="1.7" fill="#111"/>
<rect x="199.7" y="609.04" width="2" height="1.7" fill="#111"/>
<rect x="199.7" y="612.4" width="2" height="1.7" fill="#111"/>
<rect x="199.7" y="615.76" width="2" height="1.7" fill="#111"/>
<rect x="199.7" y="619.12" width="2" height="1.7" fill="#111"/>
<rect x="199.7" y="622.48" width="2" height="1.7" fill="#111"/>
<rect x="199.7" y="625.84" width="2" height="1.7" fill="#111"/>
<rect x="199.7" y="629.2" width="2" height="1.7" fill="#111"/>
<rect x="199.7" y="632.56" width="2" height="1.7" fill="#111"/>
<rect x="199.7" y="635.92" width="2" height="1.7" fill="#111"/>
<rect x="199.7" y="639.28" width="2" height="1.7" fill="#111"/>
<rect x="199.7" y="642.64" width="2" height="1.7" fill="#111"/>
<rect x="199.7" y="646" width="2" height="1.7" fill="#111"/>
<rect x="199.7" y="649.36" width="2" height="1.7" fill="#111"/>
<rect x="199.7" y="652.72" width="2" height="1.7" fill="#111"/>
<rect x="199.7" y="656.08" width="2" height="1.7" fill="#111"/>
<rect x="199.7" y="659.44" width="2" height="1.7" fill="#111"/>
<rect x="199.7" y="662.8" width="2" height="1.7" fill="#111"/>
<rect x="199.7" y="666.16" width="2" height="1.7" fill="#111"/>
<rect x="199.7" y="669.52" width="2" height="1.7" fill="#111"/>
<rect x="199.7" y="672.88" width="2" height="1.7" fill="#111"/>
<rect x="199.7" y="676.24" width="2" height="1.7" fill="#111"/>
<rect x="199.7" y="679.6" width="2" height="1.7" fill="#111"/>
<rect x="199.7" y="682.96" width="2" height="1.7" fill="#111"/>
<rect x="199.7" y="686.32" width="2" height="1.7" fill="#111"/>
<rect x="199.7" y="689.68" width="2" height="1.7" fill="#111"/>
<rect x="199.7" y="693.04" width="2" height="1.7" fill="#111"/>
<line x1="121" y1="537.35" x2="123.1" y2="537.35" stroke="#c0622d" stroke-width="0.8" />
<line x1="157.8" y1="537.35" x2="173" y2="537.35" stroke="#c0622d" stroke-width="0.8" />
<line x1="121" y1="535.75" x2="121" y2="538.95" stroke="#c0622d" stroke-width="0.8" />
<line x1="173" y1="535.75" x2="173" y2="538.95" stroke="#c0622d" stroke-width="0.8" />
<rect x="123.1" y="533.4" width="34.7" height="7.9" fill="#dc9a70" stroke="#c0622d" stroke-width="0.8" fill-opacity="0.85"/>
<line x1="142.8" y1="533.4" x2="142.8" y2="541.3" stroke="#c0622d" stroke-width="0.8" />
<circle cx="121" cy="537.58" r="0.7" fill="#c0622d"/>
<circle cx="173" cy="536.53" r="0.7" fill="#c0622d"/>
<circle cx="138.8" cy="537.38" r="0.7" fill="#c0622d"/>
<circle cx="142.52" cy="537.69" r="0.7" fill="#c0622d"/>
<circle cx="155.17" cy="538.11" r="0.7" fill="#c0622d"/>
<circle cx="139.26" cy="536.29" r="0.7" fill="#c0622d"/>
<circle cx="140.72" cy="536.84" r="0.7" fill="#c0622d"/>
<line x1="124.2" y1="546.25" x2="126.3" y2="546.25" stroke="#f2df00" stroke-width="0.8" />
<line x1="157.8" y1="546.25" x2="175.7" y2="546.25" stroke="#f2df00" stroke-width="0.8" />
<line x1="124.2" y1="544.65" x2="124.2" y2="547.85" stroke="#f2df00" stroke-width="0.8" />
<line x1="175.7" y1="544.65" x2="175.7" y2="547.85" stroke="#f2df00" stroke-width="0.8" />
<rect x="126.3" y="542.3" width="31.5" height="7.9" fill="#fdf38c" stroke="#f2df00" stroke-width="0.8" fill-opacity="0.85"/>
<line x1="143.4" y1="542.3" x2="143.4" y2="550.2" stroke="#f2df00" stroke-width="0.8" />
<circle cx="124.2" cy="547.46" r="0.7" fill="#f2df00"/>
<circle cx="175.7" cy="546.65" r="0.7" fill="#f2df00"/>
<circle cx="129.16" cy="546.55" r="0.7" fill="#f2df00"/>
<circle cx="151.8" cy="545.36" r="0.7" fill="#f2df00"/>
<circle cx="148.14" cy="544.99" r="0.7" fill="#f2df00"/>
<circle cx="127.62" cy="546.32" r="0.7" fill="#f2df00"/>
<circle cx="157.24" cy="545.1" r="0.7" fill="#f2df00"/>
<line x1="127.1" y1="555.25" x2="129.7" y2="555.25" stroke="#484848" stroke-width="0.8" />
<line x1="157.8" y1="555.25" x2="177" y2="555.25" stroke="#484848" stroke-width="0.8" />
<line x1="127.1" y1="553.65" x2="127.1" y2="556.85" stroke="#484848" stroke-width="0.8" />
<line x1="177" y1="553.65" x2="177" y2="556.85" stroke="#484848" stroke-width="0.8" />
<rect x="129.7" y="551.3" width="28.1" height="7.9" fill="#9c9c9c" stroke="#484848" stroke-width="0.8" fill-opacity="0.85"/>
<line x1="146" y1="551.3" x2="146" y2="559.2" stroke="#484848" stroke-width="0.8" />
<circle cx="127.1" cy="556.14" r="0.7" fill="#484848"/>
<circle cx="177" cy="555.3" r="0.7" fill="#484848"/>
<circle cx="135.04" cy="555.61" r="0.7" fill="#484848"/>
<circle cx="136.5" cy="555.25" r="0.7" fill="#484848"/>
<circle cx="130.55" cy="555.67" r="0.7" fill="#484848"/>
<circle cx="142.74" cy="555.14" r="0.7" fill="#484848"/>
<circle cx="142.08" cy="554.67" r="0.7" fill="#484848"/>
<line x1="197.2" y1="563.9" x2="213" y2="563.9" stroke="#b7b1db" stroke-width="0.8" />
<line x1="228" y1="563.9" x2="230.8" y2="563.9" stroke="#b7b1db" stroke-width="0.8" />
<line x1="197.2" y1="562.3" x2="197.2" y2="565.5" stroke="#b7b1db" stroke-width="0.8" />
<line x1="230.8" y1="562.3" x2="230.8" y2="565.5" stroke="#b7b1db" stroke-width="0.8" />
<rect x="213" y="559.95" width="15" height="7.9" fill="#dcd9ee" stroke="#b7b1db" stroke-width="0.8" fill-opacity="0.85"/>
<line x1="220.3" y1="559.95" x2="220.3" y2="567.85" stroke="#b7b1db" stroke-width="0.8" />
<circle cx="197.2" cy="563.2" r="0.7" fill="#b7b1db"/>
<circle cx="230.8" cy="563.35" r="0.7" fill="#b7b1db"/>
<circle cx="227.96" cy="562.78" r="0.7" fill="#b7b1db"/>
<circle cx="227.94" cy="564.59" r="0.7" fill="#b7b1db"/>
<circle cx="225.6" cy="563.64" r="0.7" fill="#b7b1db"/>
<circle cx="223.62" cy="564.8" r="0.7" fill="#b7b1db"/>
<circle cx="217.73" cy="563.6" r="0.7" fill="#b7b1db"/>
<line x1="200.6" y1="572.8" x2="211.1" y2="572.8" stroke="#8db7e8" stroke-width="0.8" />
<line x1="225.6" y1="572.8" x2="231.9" y2="572.8" stroke="#8db7e8" stroke-width="0.8" />
<line x1="200.6" y1="571.2" x2="200.6" y2="574.4" stroke="#8db7e8" stroke-width="0.8" />
<line x1="231.9" y1="571.2" x2="231.9" y2="574.4" stroke="#8db7e8" stroke-width="0.8" />
<rect x="211.1" y="568.85" width="14.5" height="7.9" fill="#c6dbf4" stroke="#8db7e8" stroke-width="0.8" fill-opacity="0.85"/>
<line x1="218.2" y1="568.85" x2="218.2" y2="576.75" stroke="#8db7e8" stroke-width="0.8" />
<circle cx="200.6" cy="572.72" r="0.7" fill="#8db7e8"/>
<circle cx="231.9" cy="574.05" r="0.7" fill="#8db7e8"/>
<circle cx="224.99" cy="572.53" r="0.7" fill="#8db7e8"/>
<circle cx="223.39" cy="571.69" r="0.7" fill="#8db7e8"/>
<circle cx="211.11" cy="573.14" r="0.7" fill="#8db7e8"/>
<circle cx="214.14" cy="573.52" r="0.7" fill="#8db7e8"/>
<circle cx="224.3" cy="572.2" r="0.7" fill="#8db7e8"/>
<line x1="198.5" y1="581.5" x2="210.4" y2="581.5" stroke="#484848" stroke-width="0.8" />
<line x1="224.3" y1="581.5" x2="234.5" y2="581.5" stroke="#484848" stroke-width="0.8" />
<line x1="198.5" y1="579.9" x2="198.5" y2="583.1" stroke="#484848" stroke-width="0.8" />
<line x1="234.5" y1="579.9" x2="234.5" y2="583.1" stroke="#484848" stroke-width="0.8" />
<rect x="210.4" y="577.55" width="13.9" height="7.9" fill="#9c9c9c" stroke="#484848" stroke-width="0.8" fill-opacity="0.85"/>
<line x1="218.8" y1="577.55" x2="218.8" y2="585.45" stroke="#484848" stroke-width="0.8" />
<circle cx="198.5" cy="580.84" r="0.7" fill="#484848"/>
<circle cx="234.5" cy="580.46" r="0.7" fill="#484848"/>
<circle cx="211.61" cy="580.36" r="0.7" fill="#484848"/>
<circle cx="215.02" cy="582.27" r="0.7" fill="#484848"/>
<circle cx="223.8" cy="580.66" r="0.7" fill="#484848"/>
<circle cx="220.94" cy="581.65" r="0.7" fill="#484848"/>
<circle cx="212.04" cy="581.36" r="0.7" fill="#484848"/>
<line x1="112.3" y1="590.2" x2="136.8" y2="590.2" stroke="#b7b1db" stroke-width="0.8" />
<line x1="153.9" y1="590.2" x2="164.4" y2="590.2" stroke="#b7b1db" stroke-width="0.8" />
<line x1="112.3" y1="588.6" x2="112.3" y2="591.8" stroke="#b7b1db" stroke-width="0.8" />
<line x1="164.4" y1="588.6" x2="164.4" y2="591.8" stroke="#b7b1db" stroke-width="0.8" />
<rect x="136.8" y="586.25" width="17.1" height="7.9" fill="#dcd9ee" stroke="#b7b1db" stroke-width="0.8" fill-opacity="0.85"/>
<line x1="148.6" y1="586.25" x2="148.6" y2="594.15" stroke="#b7b1db" stroke-width="0.8" />
<circle cx="112.3" cy="589.99" r="0.7" fill="#b7b1db"/>
<circle cx="164.4" cy="589.45" r="0.7" fill="#b7b1db"/>
<circle cx="140.06" cy="589.6" r="0.7" fill="#b7b1db"/>
<circle cx="149.32" cy="591.42" r="0.7" fill="#b7b1db"/>
<circle cx="139.04" cy="590.99" r="0.7" fill="#b7b1db"/>
<circle cx="147.81" cy="589.69" r="0.7" fill="#b7b1db"/>
<circle cx="138.79" cy="591.2" r="0.7" fill="#b7b1db"/>
<line x1="118.4" y1="599.1" x2="133.6" y2="599.1" stroke="#8db7e8" stroke-width="0.8" />
<line x1="148.1" y1="599.1" x2="167.5" y2="599.1" stroke="#8db7e8" stroke-width="0.8" />
<line x1="118.4" y1="597.5" x2="118.4" y2="600.7" stroke="#8db7e8" stroke-width="0.8" />
<line x1="167.5" y1="597.5" x2="167.5" y2="600.7" stroke="#8db7e8" stroke-width="0.8" />
<rect x="133.6" y="595.15" width="14.5" height="7.9" fill="#c6dbf4" stroke="#8db7e8" stroke-width="0.8" fill-opacity="0.85"/>
<line x1="143.4" y1="595.15" x2="143.4" y2="603.05" stroke="#8db7e8" stroke-width="0.8" />
<circle cx="118.4" cy="600.37" r="0.7" fill="#8db7e8"/>
<circle cx="167.5" cy="598.35" r="0.7" fill="#8db7e8"/>
<circle cx="136.66" cy="598.47" r="0.7" fill="#8db7e8"/>
<circle cx="139.32" cy="599.81" r="0.7" fill="#8db7e8"/>
<circle cx="145.99" cy="598.66" r="0.7" fill="#8db7e8"/>
<circle cx="142.91" cy="598.57" r="0.7" fill="#8db7e8"/>
<circle cx="135.05" cy="597.99" r="0.7" fill="#8db7e8"/>
<line x1="125" y1="608.2" x2="142" y2="608.2" stroke="#4ab82c" stroke-width="0.8" />
<line x1="153.9" y1="608.2" x2="166.5" y2="608.2" stroke="#4ab82c" stroke-width="0.8" />
<line x1="125" y1="606.6" x2="125" y2="609.8" stroke="#4ab82c" stroke-width="0.8" />
<line x1="166.5" y1="606.6" x2="166.5" y2="609.8" stroke="#4ab82c" stroke-width="0.8" />
<rect x="142" y="604.25" width="11.9" height="7.9" fill="#a9dd8e" stroke="#4ab82c" stroke-width="0.8" fill-opacity="0.85"/>
<line x1="147.8" y1="604.25" x2="147.8" y2="612.15" stroke="#4ab82c" stroke-width="0.8" />
<circle cx="125" cy="608.08" r="0.7" fill="#4ab82c"/>
<circle cx="166.5" cy="609.39" r="0.7" fill="#4ab82c"/>
<circle cx="143.07" cy="608.16" r="0.7" fill="#4ab82c"/>
<circle cx="148.93" cy="608.39" r="0.7" fill="#4ab82c"/>
<circle cx="144.89" cy="609.15" r="0.7" fill="#4ab82c"/>
<circle cx="149.16" cy="607.38" r="0.7" fill="#4ab82c"/>
<circle cx="146.42" cy="607.3" r="0.7" fill="#4ab82c"/>
<line x1="200.6" y1="616.7" x2="209" y2="616.7" stroke="#96681c" stroke-width="0.8" />
<line x1="217.4" y1="616.7" x2="226.6" y2="616.7" stroke="#96681c" stroke-width="0.8" />
<line x1="200.6" y1="615.1" x2="200.6" y2="618.3" stroke="#96681c" stroke-width="0.8" />
<line x1="226.6" y1="615.1" x2="226.6" y2="618.3" stroke="#96681c" stroke-width="0.8" />
<rect x="209" y="612.75" width="8.4" height="7.9" fill="#c59c5e" stroke="#96681c" stroke-width="0.8" fill-opacity="0.85"/>
<line x1="213.5" y1="612.75" x2="213.5" y2="620.65" stroke="#96681c" stroke-width="0.8" />
<circle cx="200.6" cy="617.69" r="0.7" fill="#96681c"/>
<circle cx="226.6" cy="616.97" r="0.7" fill="#96681c"/>
<circle cx="216.63" cy="616.5" r="0.7" fill="#96681c"/>
<circle cx="215.87" cy="615.67" r="0.7" fill="#96681c"/>
<circle cx="211.1" cy="615.5" r="0.7" fill="#96681c"/>
<circle cx="210.59" cy="617.9" r="0.7" fill="#96681c"/>
<circle cx="215.21" cy="616.02" r="0.7" fill="#96681c"/>
<circle cx="216.9" cy="617.23" r="0.7" fill="#96681c"/>
<circle cx="210.65" cy="616.07" r="0.7" fill="#96681c"/>
<circle cx="216.98" cy="617.54" r="0.7" fill="#96681c"/>
<line x1="201.9" y1="625.6" x2="208.5" y2="625.6" stroke="#111111" stroke-width="0.8" />
<line x1="220.1" y1="625.6" x2="226.1" y2="625.6" stroke="#111111" stroke-width="0.8" />
<line x1="201.9" y1="624" x2="201.9" y2="627.2" stroke="#111111" stroke-width="0.8" />
<line x1="226.1" y1="624" x2="226.1" y2="627.2" stroke="#111111" stroke-width="0.8" />
<rect x="208.5" y="621.65" width="11.6" height="7.9" fill="#ffffff" stroke="#111111" stroke-width="0.8" fill-opacity="0.85"/>
<line x1="214.8" y1="621.65" x2="214.8" y2="629.55" stroke="#111111" stroke-width="0.8" />
<circle cx="201.9" cy="625.9" r="0.9" fill="#111111"/>
<circle cx="226.1" cy="625.03" r="0.9" fill="#111111"/>
<circle cx="215.42" cy="626.69" r="0.9" fill="#111111"/>
<circle cx="211.9" cy="624.83" r="0.9" fill="#111111"/>
<circle cx="210.54" cy="624.34" r="0.9" fill="#111111"/>
<circle cx="216.86" cy="625" r="0.9" fill="#111111"/>
<circle cx="209.3" cy="625.46" r="0.9" fill="#111111"/>
<circle cx="211.15" cy="624.46" r="0.9" fill="#111111"/>
<circle cx="214.99" cy="624.76" r="0.9" fill="#111111"/>
<circle cx="218.39" cy="625.26" r="0.9" fill="#111111"/>
<line x1="200.6" y1="634.8" x2="202.5" y2="634.8" stroke="#f5821f" stroke-width="0.8" />
<line x1="218.2" y1="634.8" x2="224" y2="634.8" stroke="#f5821f" stroke-width="0.8" />
<line x1="200.6" y1="633.2" x2="200.6" y2="636.4" stroke="#f5821f" stroke-width="0.8" />
<line x1="224" y1="633.2" x2="224" y2="636.4" stroke="#f5821f" stroke-width="0.8" />
<rect x="202.5" y="630.85" width="15.7" height="7.9" fill="#f9b37c" stroke="#f5821f" stroke-width="0.8" fill-opacity="0.85"/>
<line x1="211.7" y1="630.85" x2="211.7" y2="638.75" stroke="#f5821f" stroke-width="0.8" />
<circle cx="200.6" cy="633.86" r="0.7" fill="#f5821f"/>
<circle cx="224" cy="633.59" r="0.7" fill="#f5821f"/>
<circle cx="211.48" cy="633.55" r="0.7" fill="#f5821f"/>
<circle cx="204.57" cy="635.87" r="0.7" fill="#f5821f"/>
<circle cx="208.19" cy="635.32" r="0.7" fill="#f5821f"/>
<circle cx="216.49" cy="636" r="0.7" fill="#f5821f"/>
<circle cx="217.89" cy="633.56" r="0.7" fill="#f5821f"/>
<circle cx="212.81" cy="635.15" r="0.7" fill="#f5821f"/>
<circle cx="213.35" cy="634.75" r="0.7" fill="#f5821f"/>
<circle cx="211.68" cy="635.4" r="0.7" fill="#f5821f"/>
<line x1="120.2" y1="643.4" x2="132.8" y2="643.4" stroke="#b7b1db" stroke-width="0.8" />
<line x1="157.3" y1="643.4" x2="163.8" y2="643.4" stroke="#b7b1db" stroke-width="0.8" />
<line x1="120.2" y1="641.8" x2="120.2" y2="645" stroke="#b7b1db" stroke-width="0.8" />
<line x1="163.8" y1="641.8" x2="163.8" y2="645" stroke="#b7b1db" stroke-width="0.8" />
<rect x="132.8" y="639.45" width="24.5" height="7.9" fill="#dcd9ee" stroke="#b7b1db" stroke-width="0.8" fill-opacity="0.85"/>
<line x1="144.1" y1="639.45" x2="144.1" y2="647.35" stroke="#b7b1db" stroke-width="0.8" />
<circle cx="120.2" cy="644.16" r="0.7" fill="#b7b1db"/>
<circle cx="163.8" cy="644.48" r="0.7" fill="#b7b1db"/>
<circle cx="140.61" cy="643.01" r="0.7" fill="#b7b1db"/>
<circle cx="157.28" cy="643.88" r="0.7" fill="#b7b1db"/>
<circle cx="134.64" cy="644.44" r="0.7" fill="#b7b1db"/>
<circle cx="146.18" cy="644.36" r="0.7" fill="#b7b1db"/>
<circle cx="150.86" cy="643.18" r="0.7" fill="#b7b1db"/>
<circle cx="154.85" cy="644.16" r="0.7" fill="#b7b1db"/>
<circle cx="150.86" cy="644.35" r="0.7" fill="#b7b1db"/>
<circle cx="150.04" cy="643.59" r="0.7" fill="#b7b1db"/>
<line x1="103.9" y1="652.2" x2="132.8" y2="652.2" stroke="#8db7e8" stroke-width="0.8" />
<line x1="156.5" y1="652.2" x2="163.1" y2="652.2" stroke="#8db7e8" stroke-width="0.8" />
<line x1="103.9" y1="650.6" x2="103.9" y2="653.8" stroke="#8db7e8" stroke-width="0.8" />
<line x1="163.1" y1="650.6" x2="163.1" y2="653.8" stroke="#8db7e8" stroke-width="0.8" />
<rect x="132.8" y="648.25" width="23.7" height="7.9" fill="#c6dbf4" stroke="#8db7e8" stroke-width="0.8" fill-opacity="0.85"/>
<line x1="147.8" y1="648.25" x2="147.8" y2="656.15" stroke="#8db7e8" stroke-width="0.8" />
<circle cx="103.9" cy="652.79" r="0.7" fill="#8db7e8"/>
<circle cx="163.1" cy="651.91" r="0.7" fill="#8db7e8"/>
<circle cx="147.61" cy="652.81" r="0.7" fill="#8db7e8"/>
<circle cx="141.86" cy="652.41" r="0.7" fill="#8db7e8"/>
<circle cx="146.61" cy="652.05" r="0.7" fill="#8db7e8"/>
<circle cx="147.23" cy="653.08" r="0.7" fill="#8db7e8"/>
<circle cx="134.7" cy="651.12" r="0.7" fill="#8db7e8"/>
<circle cx="147.95" cy="652.85" r="0.7" fill="#8db7e8"/>
<circle cx="156.34" cy="650.98" r="0.7" fill="#8db7e8"/>
<circle cx="153.65" cy="652.46" r="0.7" fill="#8db7e8"/>
<line x1="131.5" y1="661" x2="135.5" y2="661" stroke="#4ab82c" stroke-width="0.8" />
<line x1="153.9" y1="661" x2="163.1" y2="661" stroke="#4ab82c" stroke-width="0.8" />
<line x1="131.5" y1="659.4" x2="131.5" y2="662.6" stroke="#4ab82c" stroke-width="0.8" />
<line x1="163.1" y1="659.4" x2="163.1" y2="662.6" stroke="#4ab82c" stroke-width="0.8" />
<rect x="135.5" y="657.05" width="18.4" height="7.9" fill="#a9dd8e" stroke="#4ab82c" stroke-width="0.8" fill-opacity="0.85"/>
<line x1="143.4" y1="657.05" x2="143.4" y2="664.95" stroke="#4ab82c" stroke-width="0.8" />
<circle cx="131.5" cy="660.48" r="0.7" fill="#4ab82c"/>
<circle cx="163.1" cy="661.46" r="0.7" fill="#4ab82c"/>
<circle cx="144.35" cy="660.23" r="0.7" fill="#4ab82c"/>
<circle cx="139.74" cy="660.14" r="0.7" fill="#4ab82c"/>
<circle cx="148.35" cy="662.05" r="0.7" fill="#4ab82c"/>
<circle cx="144.65" cy="661.42" r="0.7" fill="#4ab82c"/>
<circle cx="146.81" cy="660.85" r="0.7" fill="#4ab82c"/>
<circle cx="152.44" cy="662.02" r="0.7" fill="#4ab82c"/>
<circle cx="140.21" cy="660.55" r="0.7" fill="#4ab82c"/>
<circle cx="135.71" cy="661.43" r="0.7" fill="#4ab82c"/>
<line x1="201.9" y1="669.8" x2="208.5" y2="669.8" stroke="#2cae48" stroke-width="0.8" />
<line x1="219.5" y1="669.8" x2="222.2" y2="669.8" stroke="#2cae48" stroke-width="0.8" />
<line x1="201.9" y1="668.2" x2="201.9" y2="671.4" stroke="#2cae48" stroke-width="0.8" />
<line x1="222.2" y1="668.2" x2="222.2" y2="671.4" stroke="#2cae48" stroke-width="0.8" />
<rect x="208.5" y="665.85" width="11" height="7.9" fill="#8dd58b" stroke="#2cae48" stroke-width="0.8" fill-opacity="0.85"/>
<line x1="214.3" y1="665.85" x2="214.3" y2="673.75" stroke="#2cae48" stroke-width="0.8" />
<circle cx="201.9" cy="668.85" r="0.7" fill="#2cae48"/>
<circle cx="222.2" cy="669.79" r="0.7" fill="#2cae48"/>
<circle cx="210.68" cy="670.68" r="0.7" fill="#2cae48"/>
<circle cx="213.24" cy="670.71" r="0.7" fill="#2cae48"/>
<circle cx="217.37" cy="670.35" r="0.7" fill="#2cae48"/>
<circle cx="218.56" cy="670.97" r="0.7" fill="#2cae48"/>
<circle cx="218.18" cy="669.22" r="0.7" fill="#2cae48"/>
<circle cx="212.73" cy="668.94" r="0.7" fill="#2cae48"/>
<circle cx="214.91" cy="669.67" r="0.7" fill="#2cae48"/>
<circle cx="211.98" cy="669.22" r="0.7" fill="#2cae48"/>
<line x1="204.3" y1="678.5" x2="205.9" y2="678.5" stroke="#e8202d" stroke-width="0.8" />
<line x1="222.2" y1="678.5" x2="257.6" y2="678.5" stroke="#e8202d" stroke-width="0.8" />
<line x1="204.3" y1="676.9" x2="204.3" y2="680.1" stroke="#e8202d" stroke-width="0.8" />
<line x1="257.6" y1="676.9" x2="257.6" y2="680.1" stroke="#e8202d" stroke-width="0.8" />
<rect x="205.9" y="674.55" width="16.3" height="7.9" fill="#f28383" stroke="#e8202d" stroke-width="0.8" fill-opacity="0.85"/>
<line x1="213.5" y1="674.55" x2="213.5" y2="682.45" stroke="#e8202d" stroke-width="0.8" />
<circle cx="204.3" cy="677.39" r="0.7" fill="#e8202d"/>
<circle cx="257.6" cy="677.28" r="0.7" fill="#e8202d"/>
<circle cx="209.39" cy="679.47" r="0.7" fill="#e8202d"/>
<circle cx="212.65" cy="677.31" r="0.7" fill="#e8202d"/>
<circle cx="216.1" cy="679.04" r="0.7" fill="#e8202d"/>
<circle cx="213.95" cy="678.68" r="0.7" fill="#e8202d"/>
<circle cx="211.04" cy="678" r="0.7" fill="#e8202d"/>
<circle cx="219.58" cy="679.26" r="0.7" fill="#e8202d"/>
<circle cx="221.91" cy="677.25" r="0.7" fill="#e8202d"/>
<circle cx="213.28" cy="677.55" r="0.7" fill="#e8202d"/>
<line x1="199.3" y1="687.3" x2="205.1" y2="687.3" stroke="#2a3e9d" stroke-width="0.8" />
<line x1="220.3" y1="687.3" x2="230.6" y2="687.3" stroke="#2a3e9d" stroke-width="0.8" />
<line x1="199.3" y1="685.7" x2="199.3" y2="688.9" stroke="#2a3e9d" stroke-width="0.8" />
<line x1="230.6" y1="685.7" x2="230.6" y2="688.9" stroke="#2a3e9d" stroke-width="0.8" />
<rect x="205.1" y="683.35" width="15.2" height="7.9" fill="#7b8dc9" stroke="#2a3e9d" stroke-width="0.8" fill-opacity="0.85"/>
<line x1="211.7" y1="683.35" x2="211.7" y2="691.25" stroke="#2a3e9d" stroke-width="0.8" />
<circle cx="199.3" cy="687.64" r="0.7" fill="#2a3e9d"/>
<circle cx="230.6" cy="687.7" r="0.7" fill="#2a3e9d"/>
<circle cx="212.01" cy="688.1" r="0.7" fill="#2a3e9d"/>
<circle cx="205.48" cy="688.49" r="0.7" fill="#2a3e9d"/>
<circle cx="217.71" cy="687.78" r="0.7" fill="#2a3e9d"/>
<circle cx="208.71" cy="686.52" r="0.7" fill="#2a3e9d"/>
<circle cx="207.24" cy="687.24" r="0.7" fill="#2a3e9d"/>
<circle cx="205.81" cy="686.46" r="0.7" fill="#2a3e9d"/>
<circle cx="214.66" cy="686.03" r="0.7" fill="#2a3e9d"/>
<circle cx="211.89" cy="687.23" r="0.7" fill="#2a3e9d"/>
<text x="283.3" y="534.5" font-size="14.6" font-weight="bold" fill="#1a1a1a" >E</text>
<line x1="362.6" y1="534.3" x2="362.6" y2="694.7" stroke="#3c3c3c" stroke-width="1.0" />
<line x1="362.1" y1="694.2" x2="682.8" y2="694.2" stroke="#3c3c3c" stroke-width="1.0" />
<line x1="356.5" y1="694.2" x2="362.6" y2="694.2" stroke="#3c3c3c" stroke-width="1.0" />
<text x="353.2" y="697.4" font-size="9.15" text-anchor="end" fill="#222" >0</text>
<line x1="356.5" y1="662.32" x2="362.6" y2="662.32" stroke="#3c3c3c" stroke-width="1.0" />
<text x="353.2" y="665.52" font-size="9.15" text-anchor="end" fill="#222" >10</text>
<line x1="356.5" y1="630.44" x2="362.6" y2="630.44" stroke="#3c3c3c" stroke-width="1.0" />
<text x="353.2" y="633.64" font-size="9.15" text-anchor="end" fill="#222" >20</text>
<line x1="356.5" y1="598.56" x2="362.6" y2="598.56" stroke="#3c3c3c" stroke-width="1.0" />
<text x="353.2" y="601.76" font-size="9.15" text-anchor="end" fill="#222" >30</text>
<line x1="356.5" y1="566.68" x2="362.6" y2="566.68" stroke="#3c3c3c" stroke-width="1.0" />
<text x="353.2" y="569.88" font-size="9.15" text-anchor="end" fill="#222" >40</text>
<line x1="356.5" y1="534.8" x2="362.6" y2="534.8" stroke="#3c3c3c" stroke-width="1.0" />
<text x="353.2" y="538" font-size="9.15" text-anchor="end" fill="#222" >50</text>
<text x="335.6" y="620.6" font-size="9.15" text-anchor="middle" fill="#222" transform="rotate(-90 335.6 620.6)" >p-Value (-log10)</text>
<text x="511.3" y="538.9" font-size="9.15" text-anchor="middle" fill="#222" >GOCC enrichment (insoluble)</text>
<line x1="373.1" y1="694.2" x2="373.1" y2="701.3" stroke="#3c3c3c" stroke-width="1.0" />
<circle cx="373.1" cy="563.11" r="6.5" fill="#a51c22" stroke="#2a1a1a" stroke-width="0.8"/>
<text x="382.4" y="557.51" font-size="7.85" fill="#222" transform="rotate(-45 382.4 557.51)" >41.12</text>
<text x="378.6" y="706.2" font-size="9.15" text-anchor="end" fill="#222" transform="rotate(-45 378.6 706.2)" >Small-subunit processome</text>
<line x1="388.81" y1="694.2" x2="388.81" y2="701.3" stroke="#3c3c3c" stroke-width="1.0" />
<circle cx="388.81" cy="630.82" r="6.5" fill="#c13a2d" stroke="#2a1a1a" stroke-width="0.8"/>
<text x="397.61" y="625.02" font-size="7.85" fill="#222" transform="rotate(-45 397.61 625.02)" >19.88</text>
<text x="394.31" y="706.2" font-size="9.15" text-anchor="end" fill="#222" transform="rotate(-45 394.31 706.2)" >Spliceosomal complex</text>
<line x1="404.52" y1="694.2" x2="404.52" y2="701.3" stroke="#3c3c3c" stroke-width="1.0" />
<circle cx="404.52" cy="635.22" r="6.5" fill="#c44230" stroke="#2a1a1a" stroke-width="0.8"/>
<text x="413.12" y="629.62" font-size="7.85" fill="#222" transform="rotate(-45 413.12 629.62)" >18.50</text>
<text x="410.02" y="706.2" font-size="9.15" text-anchor="end" fill="#222" transform="rotate(-45 410.02 706.2)" >Catalytic step 2 spliceosome</text>
<line x1="420.23" y1="694.2" x2="420.23" y2="701.3" stroke="#3c3c3c" stroke-width="1.0" />
<circle cx="420.23" cy="655.5" r="6.5" fill="#bf4535" stroke="#2a1a1a" stroke-width="0.8"/>
<text x="426.13" y="648.8" font-size="7.85" fill="#222" transform="rotate(-45 426.13 648.8)" >12.14</text>
<text x="425.73" y="706.2" font-size="9.15" text-anchor="end" fill="#222" transform="rotate(-45 425.73 706.2)" >Preribosome, large subunit precursor</text>
<line x1="435.94" y1="694.2" x2="435.94" y2="701.3" stroke="#3c3c3c" stroke-width="1.0" />
<circle cx="435.94" cy="660.69" r="6.5" fill="#c75341" stroke="#2a1a1a" stroke-width="0.8"/>
<text x="441.14" y="652.89" font-size="7.85" fill="#222" transform="rotate(-45 441.14 652.89)" >10.51</text>
<text x="441.44" y="706.2" font-size="9.15" text-anchor="end" fill="#222" transform="rotate(-45 441.44 706.2)" >U2-type precatalytic spliceosome</text>
<line x1="451.65" y1="694.2" x2="451.65" y2="701.3" stroke="#3c3c3c" stroke-width="1.0" />
<circle cx="451.65" cy="662.38" r="6.5" fill="#c95a47" stroke="#2a1a1a" stroke-width="0.8"/>
<text x="457.25" y="654.18" font-size="7.85" fill="#222" transform="rotate(-45 457.25 654.18)" >9.98</text>
<text x="457.15" y="706.2" font-size="9.15" text-anchor="end" fill="#222" transform="rotate(-45 457.15 706.2)" >Chromosome, centromeric region</text>
<line x1="467.36" y1="694.2" x2="467.36" y2="701.3" stroke="#3c3c3c" stroke-width="1.0" />
<circle cx="467.36" cy="666.56" r="6.5" fill="#cf6852" stroke="#2a1a1a" stroke-width="0.8"/>
<text x="472.76" y="659.56" font-size="7.85" fill="#222" transform="rotate(-45 472.76 659.56)" >8.67</text>
<text x="472.86" y="706.2" font-size="9.15" text-anchor="end" fill="#222" transform="rotate(-45 472.86 706.2)" >U4/U6 x U5 tri-snRNP complex</text>
<line x1="483.07" y1="694.2" x2="483.07" y2="701.3" stroke="#3c3c3c" stroke-width="1.0" />
<circle cx="483.07" cy="668.79" r="6.5" fill="#d2705a" stroke="#2a1a1a" stroke-width="0.8"/>
<text x="488.27" y="661.59" font-size="7.85" fill="#222" transform="rotate(-45 488.27 661.59)" >7.97</text>
<text x="488.57" y="706.2" font-size="9.15" text-anchor="end" fill="#222" transform="rotate(-45 488.57 706.2)" >Telomerase holoenzyme complex</text>
<line x1="498.78" y1="694.2" x2="498.78" y2="701.3" stroke="#3c3c3c" stroke-width="1.0" />
<circle cx="498.78" cy="670.51" r="6.5" fill="#d9866f" stroke="#2a1a1a" stroke-width="0.8"/>
<text x="503.58" y="662.21" font-size="7.85" fill="#222" transform="rotate(-45 503.58 662.21)" >7.43</text>
<text x="504.28" y="706.2" font-size="9.15" text-anchor="end" fill="#222" transform="rotate(-45 504.28 706.2)" >Nuclear envelope</text>
<line x1="514.49" y1="694.2" x2="514.49" y2="701.3" stroke="#3c3c3c" stroke-width="1.0" />
<circle cx="514.49" cy="671.6" r="6.5" fill="#dc8d77" stroke="#2a1a1a" stroke-width="0.8"/>
<text x="519.29" y="663.3" font-size="7.85" fill="#222" transform="rotate(-45 519.29 663.3)" >7.09</text>
<text x="519.99" y="706.2" font-size="9.15" text-anchor="end" fill="#222" transform="rotate(-45 519.99 706.2)" >Transcription export complex</text>
<line x1="530.2" y1="694.2" x2="530.2" y2="701.3" stroke="#3c3c3c" stroke-width="1.0" />
<circle cx="530.2" cy="673.76" r="6.5" fill="#e09b86" stroke="#2a1a1a" stroke-width="0.8"/>
<text x="533.7" y="665.76" font-size="7.85" fill="#222" transform="rotate(-45 533.7 665.76)" >6.41</text>
<text x="535.7" y="706.2" font-size="9.15" text-anchor="end" fill="#222" transform="rotate(-45 535.7 706.2)" >Kinetochore</text>
<line x1="545.91" y1="694.2" x2="545.91" y2="701.3" stroke="#3c3c3c" stroke-width="1.0" />
<circle cx="545.91" cy="674.59" r="6.5" fill="#e3a18d" stroke="#2a1a1a" stroke-width="0.8"/>
<text x="549.61" y="666.19" font-size="7.85" fill="#222" transform="rotate(-45 549.61 666.19)" >6.15</text>
<text x="551.41" y="706.2" font-size="9.15" text-anchor="end" fill="#222" transform="rotate(-45 551.41 706.2)" >U5 snRNP</text>
<line x1="561.62" y1="694.2" x2="561.62" y2="701.3" stroke="#3c3c3c" stroke-width="1.0" />
<circle cx="561.62" cy="675.14" r="6.5" fill="#e5a894" stroke="#2a1a1a" stroke-width="0.8"/>
<text x="563.32" y="665.64" font-size="7.85" fill="#222" transform="rotate(-45 563.32 665.64)" >5.98</text>
<text x="567.12" y="706.2" font-size="9.15" text-anchor="end" fill="#222" transform="rotate(-45 567.12 706.2)" >Chromatin silencing complex</text>
<line x1="577.33" y1="694.2" x2="577.33" y2="701.3" stroke="#3c3c3c" stroke-width="1.0" />
<circle cx="577.33" cy="676.12" r="6.5" fill="#eab6a4" stroke="#2a1a1a" stroke-width="0.8"/>
<text x="578.13" y="666.22" font-size="7.85" fill="#222" transform="rotate(-45 578.13 666.22)" >5.67</text>
<text x="582.83" y="706.2" font-size="9.15" text-anchor="end" fill="#222" transform="rotate(-45 582.83 706.2)" >U2 snRNP</text>
<line x1="593.04" y1="694.2" x2="593.04" y2="701.3" stroke="#3c3c3c" stroke-width="1.0" />
<circle cx="593.04" cy="676.44" r="6.5" fill="#ecbbaa" stroke="#2a1a1a" stroke-width="0.8"/>
<text x="593.84" y="666.54" font-size="7.85" fill="#222" transform="rotate(-45 593.84 666.54)" >5.57</text>
<text x="598.54" y="706.2" font-size="9.15" text-anchor="end" fill="#222" transform="rotate(-45 598.54 706.2)" >U2-type catalytic step 2 spliceosome</text>
<line x1="608.75" y1="694.2" x2="608.75" y2="701.3" stroke="#3c3c3c" stroke-width="1.0" />
<circle cx="608.75" cy="676.63" r="6.5" fill="#efc4b5" stroke="#2a1a1a" stroke-width="0.8"/>
<text x="608.65" y="666.73" font-size="7.85" fill="#222" transform="rotate(-45 608.65 666.73)" >5.51</text>
<text x="614.25" y="706.2" font-size="9.15" text-anchor="end" fill="#222" transform="rotate(-45 614.25 706.2)" >Subcomplex of 90 S preribosome</text>
<line x1="624.46" y1="694.2" x2="624.46" y2="701.3" stroke="#3c3c3c" stroke-width="1.0" />
<circle cx="624.46" cy="677.34" r="6.5" fill="#f2cec1" stroke="#2a1a1a" stroke-width="0.8"/>
<text x="624.46" y="667.44" font-size="7.85" fill="#222" transform="rotate(-45 624.46 667.44)" >5.29</text>
<text x="629.96" y="706.2" font-size="9.15" text-anchor="end" fill="#222" transform="rotate(-45 629.96 706.2)" >MIB complex</text>
<line x1="640.17" y1="694.2" x2="640.17" y2="701.3" stroke="#3c3c3c" stroke-width="1.0" />
<circle cx="640.17" cy="677.69" r="6.5" fill="#f8e2da" stroke="#2a1a1a" stroke-width="0.8"/>
<text x="640.57" y="667.79" font-size="7.85" fill="#222" transform="rotate(-45 640.57 667.79)" >5.18</text>
<text x="645.67" y="706.2" font-size="9.15" text-anchor="end" fill="#222" transform="rotate(-45 645.67 706.2)" >U1 snRNP</text>
<line x1="655.88" y1="694.2" x2="655.88" y2="701.3" stroke="#3c3c3c" stroke-width="1.0" />
<circle cx="655.88" cy="677.78" r="6.5" fill="#fae9e2" stroke="#2a1a1a" stroke-width="0.8"/>
<text x="656.98" y="667.88" font-size="7.85" fill="#222" transform="rotate(-45 656.98 667.88)" >5.15</text>
<text x="661.38" y="706.2" font-size="9.15" text-anchor="end" fill="#222" transform="rotate(-45 661.38 706.2)" >MOZ/MORF complex</text>
<line x1="671.59" y1="694.2" x2="671.59" y2="701.3" stroke="#3c3c3c" stroke-width="1.0" />
<circle cx="671.59" cy="678.8" r="6.5" fill="#fdf5f1" stroke="#2a1a1a" stroke-width="0.8"/>
<text x="675.69" y="671.2" font-size="7.85" fill="#222" transform="rotate(-45 675.69 671.2)" >4.83</text>
<text x="677.09" y="706.2" font-size="9.15" text-anchor="end" fill="#222" transform="rotate(-45 677.09 706.2)" >Nucleosome</text>
</svg>
</body></html>
